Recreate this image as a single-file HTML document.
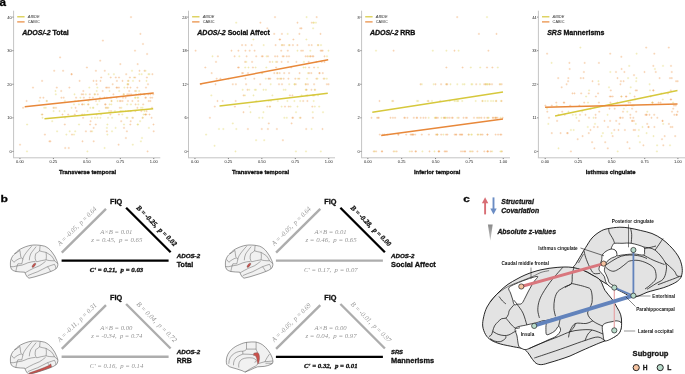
<!DOCTYPE html>
<html><head><meta charset="utf-8"><style>
html,body{margin:0;padding:0;background:#fff;width:685px;height:374px;overflow:hidden;}
svg{display:block;font-family:"Liberation Sans",sans-serif;will-change:transform;filter:blur(0.3px);}
text[font-weight="bold"][fill="#111"],text[font-weight="bold"][fill="#222"],text[font-weight="bold"][fill="#000"]{stroke:#111;stroke-width:0.3px;}
</style></head><body>
<svg width="685" height="374" viewBox="0 0 685 374"><line x1="13.6" y1="10.7" x2="13.6" y2="157.8" stroke="#c4c4c4" stroke-width="1"/>
<line x1="13.1" y1="157.8" x2="160.3" y2="157.8" stroke="#c4c4c4" stroke-width="1"/>
<line x1="12.299999999999999" y1="151.40" x2="13.4" y2="151.40" stroke="#333" stroke-width="0.6"/>
<text x="11.799999999999999" y="152.80" font-family="Liberation Sans" font-size="4" fill="#222" text-anchor="end">0</text>
<line x1="12.299999999999999" y1="117.83" x2="13.4" y2="117.83" stroke="#333" stroke-width="0.6"/>
<text x="11.799999999999999" y="119.23" font-family="Liberation Sans" font-size="4" fill="#222" text-anchor="end">10</text>
<line x1="12.299999999999999" y1="84.25" x2="13.4" y2="84.25" stroke="#333" stroke-width="0.6"/>
<text x="11.799999999999999" y="85.65" font-family="Liberation Sans" font-size="4" fill="#222" text-anchor="end">20</text>
<line x1="12.299999999999999" y1="50.67" x2="13.4" y2="50.67" stroke="#333" stroke-width="0.6"/>
<text x="11.799999999999999" y="52.07" font-family="Liberation Sans" font-size="4" fill="#222" text-anchor="end">30</text>
<line x1="12.299999999999999" y1="17.10" x2="13.4" y2="17.10" stroke="#333" stroke-width="0.6"/>
<text x="11.799999999999999" y="18.50" font-family="Liberation Sans" font-size="4" fill="#222" text-anchor="end">40</text>
<line x1="19.95" y1="158.0" x2="19.95" y2="159.10000000000002" stroke="#333" stroke-width="0.6"/>
<text x="19.95" y="162.9" font-family="Liberation Sans" font-size="4" fill="#222" text-anchor="middle">0.00</text>
<line x1="53.40" y1="158.0" x2="53.40" y2="159.10000000000002" stroke="#333" stroke-width="0.6"/>
<text x="53.40" y="162.9" font-family="Liberation Sans" font-size="4" fill="#222" text-anchor="middle">0.25</text>
<line x1="86.85" y1="158.0" x2="86.85" y2="159.10000000000002" stroke="#333" stroke-width="0.6"/>
<text x="86.85" y="162.9" font-family="Liberation Sans" font-size="4" fill="#222" text-anchor="middle">0.50</text>
<line x1="120.30" y1="158.0" x2="120.30" y2="159.10000000000002" stroke="#333" stroke-width="0.6"/>
<text x="120.30" y="162.9" font-family="Liberation Sans" font-size="4" fill="#222" text-anchor="middle">0.75</text>
<line x1="153.75" y1="158.0" x2="153.75" y2="159.10000000000002" stroke="#333" stroke-width="0.6"/>
<text x="153.75" y="162.9" font-family="Liberation Sans" font-size="4" fill="#222" text-anchor="middle">1.00</text>
<path d="M41.0,80.9h2.2M42.1,79.8v2.2" stroke="#F0A058" stroke-opacity="0.36" stroke-width="0.85"/>
<path d="M53.1,70.8h2.2M54.2,69.7v2.2" stroke="#F0A058" stroke-opacity="0.36" stroke-width="0.85"/>
<path d="M62.0,70.8h2.2M63.1,69.7v2.2" stroke="#F0A058" stroke-opacity="0.36" stroke-width="0.85"/>
<path d="M70.5,74.2h2.2M71.6,73.1v2.2" stroke="#F0A058" stroke-opacity="0.36" stroke-width="0.85"/>
<path d="M70.5,74.2h2.2M71.6,73.1v2.2" stroke="#F0A058" stroke-opacity="0.36" stroke-width="0.85"/>
<path d="M78.5,80.9h2.2M79.6,79.8v2.2" stroke="#F0A058" stroke-opacity="0.36" stroke-width="0.85"/>
<path d="M95.5,84.2h2.2M96.6,83.2v2.2" stroke="#F0A058" stroke-opacity="0.36" stroke-width="0.85"/>
<path d="M92.4,80.9h2.2M93.5,79.8v2.2" stroke="#F0A058" stroke-opacity="0.36" stroke-width="0.85"/>
<path d="M100.1,77.5h2.2M101.2,76.4v2.2" stroke="#F0A058" stroke-opacity="0.36" stroke-width="0.85"/>
<path d="M94.8,70.8h2.2M95.9,69.7v2.2" stroke="#F0A058" stroke-opacity="0.36" stroke-width="0.85"/>
<path d="M99.4,80.9h2.2M100.5,79.8v2.2" stroke="#F0A058" stroke-opacity="0.36" stroke-width="0.85"/>
<path d="M95.3,80.9h2.2M96.4,79.8v2.2" stroke="#F0A058" stroke-opacity="0.36" stroke-width="0.85"/>
<path d="M111.6,84.2h2.2M112.7,83.2v2.2" stroke="#F0A058" stroke-opacity="0.36" stroke-width="0.85"/>
<path d="M112.8,74.2h2.2M113.9,73.1v2.2" stroke="#E2D468" stroke-opacity="0.36" stroke-width="0.85"/>
<path d="M109.6,77.5h2.2M110.7,76.4v2.2" stroke="#F0A058" stroke-opacity="0.36" stroke-width="0.85"/>
<path d="M117.9,77.5h2.2M119.0,76.4v2.2" stroke="#F0A058" stroke-opacity="0.36" stroke-width="0.85"/>
<path d="M115.8,80.9h2.2M116.9,79.8v2.2" stroke="#F0A058" stroke-opacity="0.36" stroke-width="0.85"/>
<path d="M107.5,74.2h2.2M108.6,73.1v2.2" stroke="#E2D468" stroke-opacity="0.36" stroke-width="0.85"/>
<path d="M114.7,77.5h2.2M115.8,76.4v2.2" stroke="#F0A058" stroke-opacity="0.36" stroke-width="0.85"/>
<path d="M103.7,70.8h2.2M104.8,69.7v2.2" stroke="#F0A058" stroke-opacity="0.36" stroke-width="0.85"/>
<path d="M131.9,80.9h2.2M133.0,79.8v2.2" stroke="#E2D468" stroke-opacity="0.36" stroke-width="0.85"/>
<path d="M126.3,84.2h2.2M127.4,83.2v2.2" stroke="#E2D468" stroke-opacity="0.36" stroke-width="0.85"/>
<path d="M128.8,77.5h2.2M129.9,76.4v2.2" stroke="#F0A058" stroke-opacity="0.36" stroke-width="0.85"/>
<path d="M125.1,74.2h2.2M126.2,73.1v2.2" stroke="#F0A058" stroke-opacity="0.36" stroke-width="0.85"/>
<path d="M126.8,84.2h2.2M127.9,83.2v2.2" stroke="#E2D468" stroke-opacity="0.36" stroke-width="0.85"/>
<path d="M127.1,84.2h2.2M128.2,83.2v2.2" stroke="#F0A058" stroke-opacity="0.36" stroke-width="0.85"/>
<path d="M130.9,70.8h2.2M132.0,69.7v2.2" stroke="#E2D468" stroke-opacity="0.36" stroke-width="0.85"/>
<path d="M132.9,77.5h2.2M134.0,76.4v2.2" stroke="#E2D468" stroke-opacity="0.36" stroke-width="0.85"/>
<path d="M134.0,77.5h2.2M135.1,76.4v2.2" stroke="#F0A058" stroke-opacity="0.36" stroke-width="0.85"/>
<path d="M126.9,80.9h2.2M128.0,79.8v2.2" stroke="#F0A058" stroke-opacity="0.36" stroke-width="0.85"/>
<path d="M127.5,80.9h2.2M128.6,79.8v2.2" stroke="#E2D468" stroke-opacity="0.36" stroke-width="0.85"/>
<path d="M121.4,80.9h2.2M122.5,79.8v2.2" stroke="#F0A058" stroke-opacity="0.36" stroke-width="0.85"/>
<path d="M151.3,74.2h2.2M152.4,73.1v2.2" stroke="#F0A058" stroke-opacity="0.36" stroke-width="0.85"/>
<path d="M143.4,70.8h2.2M144.5,69.7v2.2" stroke="#F0A058" stroke-opacity="0.36" stroke-width="0.85"/>
<path d="M138.2,74.2h2.2M139.3,73.1v2.2" stroke="#E2D468" stroke-opacity="0.36" stroke-width="0.85"/>
<path d="M140.6,74.2h2.2M141.7,73.1v2.2" stroke="#E2D468" stroke-opacity="0.36" stroke-width="0.85"/>
<path d="M147.3,74.2h2.2M148.4,73.1v2.2" stroke="#E2D468" stroke-opacity="0.36" stroke-width="0.85"/>
<path d="M138.4,80.9h2.2M139.5,79.8v2.2" stroke="#F0A058" stroke-opacity="0.36" stroke-width="0.85"/>
<path d="M146.9,84.2h2.2M148.0,83.2v2.2" stroke="#F0A058" stroke-opacity="0.36" stroke-width="0.85"/>
<path d="M145.8,77.5h2.2M146.9,76.4v2.2" stroke="#F0A058" stroke-opacity="0.36" stroke-width="0.85"/>
<path d="M138.4,70.8h2.2M139.5,69.7v2.2" stroke="#F0A058" stroke-opacity="0.36" stroke-width="0.85"/>
<path d="M145.4,80.9h2.2M146.5,79.8v2.2" stroke="#E2D468" stroke-opacity="0.36" stroke-width="0.85"/>
<path d="M144.5,70.8h2.2M145.6,69.7v2.2" stroke="#E2D468" stroke-opacity="0.36" stroke-width="0.85"/>
<path d="M148.3,74.2h2.2M149.4,73.1v2.2" stroke="#E2D468" stroke-opacity="0.36" stroke-width="0.85"/>
<path d="M31.9,87.6h2.2M33.0,86.5v2.2" stroke="#F0A058" stroke-opacity="0.36" stroke-width="0.85"/>
<path d="M25.5,101.0h2.2M26.6,99.9v2.2" stroke="#F0A058" stroke-opacity="0.36" stroke-width="0.85"/>
<path d="M42.3,97.7h2.2M43.4,96.6v2.2" stroke="#F0A058" stroke-opacity="0.36" stroke-width="0.85"/>
<path d="M39.1,97.7h2.2M40.2,96.6v2.2" stroke="#F0A058" stroke-opacity="0.36" stroke-width="0.85"/>
<path d="M45.6,101.0h2.2M46.7,99.9v2.2" stroke="#F0A058" stroke-opacity="0.36" stroke-width="0.85"/>
<path d="M38.1,101.0h2.2M39.2,99.9v2.2" stroke="#E2D468" stroke-opacity="0.36" stroke-width="0.85"/>
<path d="M45.8,101.0h2.2M46.9,99.9v2.2" stroke="#E2D468" stroke-opacity="0.36" stroke-width="0.85"/>
<path d="M62.6,97.7h2.2M63.7,96.6v2.2" stroke="#F0A058" stroke-opacity="0.36" stroke-width="0.85"/>
<path d="M68.3,87.6h2.2M69.4,86.5v2.2" stroke="#F0A058" stroke-opacity="0.36" stroke-width="0.85"/>
<path d="M54.4,91.0h2.2M55.5,89.9v2.2" stroke="#E2D468" stroke-opacity="0.36" stroke-width="0.85"/>
<path d="M60.1,91.0h2.2M61.2,89.9v2.2" stroke="#F0A058" stroke-opacity="0.36" stroke-width="0.85"/>
<path d="M54.7,94.3h2.2M55.8,93.2v2.2" stroke="#E2D468" stroke-opacity="0.36" stroke-width="0.85"/>
<path d="M60.3,97.7h2.2M61.4,96.6v2.2" stroke="#F0A058" stroke-opacity="0.36" stroke-width="0.85"/>
<path d="M55.7,87.6h2.2M56.8,86.5v2.2" stroke="#F0A058" stroke-opacity="0.36" stroke-width="0.85"/>
<path d="M63.8,101.0h2.2M64.9,99.9v2.2" stroke="#E2D468" stroke-opacity="0.36" stroke-width="0.85"/>
<path d="M74.0,101.0h2.2M75.1,99.9v2.2" stroke="#E2D468" stroke-opacity="0.36" stroke-width="0.85"/>
<path d="M73.4,94.3h2.2M74.5,93.2v2.2" stroke="#E2D468" stroke-opacity="0.36" stroke-width="0.85"/>
<path d="M75.0,97.7h2.2M76.1,96.6v2.2" stroke="#F0A058" stroke-opacity="0.36" stroke-width="0.85"/>
<path d="M82.1,94.3h2.2M83.2,93.2v2.2" stroke="#F0A058" stroke-opacity="0.36" stroke-width="0.85"/>
<path d="M79.3,97.7h2.2M80.4,96.6v2.2" stroke="#E2D468" stroke-opacity="0.36" stroke-width="0.85"/>
<path d="M82.7,97.7h2.2M83.8,96.6v2.2" stroke="#F0A058" stroke-opacity="0.36" stroke-width="0.85"/>
<path d="M77.3,101.0h2.2M78.4,99.9v2.2" stroke="#E2D468" stroke-opacity="0.36" stroke-width="0.85"/>
<path d="M82.2,91.0h2.2M83.3,89.9v2.2" stroke="#F0A058" stroke-opacity="0.36" stroke-width="0.85"/>
<path d="M80.6,94.3h2.2M81.7,93.2v2.2" stroke="#F0A058" stroke-opacity="0.36" stroke-width="0.85"/>
<path d="M84.7,94.3h2.2M85.8,93.2v2.2" stroke="#E2D468" stroke-opacity="0.36" stroke-width="0.85"/>
<path d="M91.8,97.7h2.2M92.9,96.6v2.2" stroke="#F0A058" stroke-opacity="0.36" stroke-width="0.85"/>
<path d="M93.6,94.3h2.2M94.7,93.2v2.2" stroke="#F0A058" stroke-opacity="0.36" stroke-width="0.85"/>
<path d="M96.2,87.6h2.2M97.3,86.5v2.2" stroke="#E2D468" stroke-opacity="0.36" stroke-width="0.85"/>
<path d="M93.8,94.3h2.2M94.9,93.2v2.2" stroke="#E2D468" stroke-opacity="0.36" stroke-width="0.85"/>
<path d="M87.2,101.0h2.2M88.3,99.9v2.2" stroke="#E2D468" stroke-opacity="0.36" stroke-width="0.85"/>
<path d="M98.8,97.7h2.2M99.9,96.6v2.2" stroke="#F0A058" stroke-opacity="0.36" stroke-width="0.85"/>
<path d="M88.7,94.3h2.2M89.8,93.2v2.2" stroke="#F0A058" stroke-opacity="0.36" stroke-width="0.85"/>
<path d="M101.6,91.0h2.2M102.7,89.9v2.2" stroke="#F0A058" stroke-opacity="0.36" stroke-width="0.85"/>
<path d="M98.2,101.0h2.2M99.3,99.9v2.2" stroke="#E2D468" stroke-opacity="0.36" stroke-width="0.85"/>
<path d="M88.6,97.7h2.2M89.7,96.6v2.2" stroke="#F0A058" stroke-opacity="0.36" stroke-width="0.85"/>
<path d="M95.6,91.0h2.2M96.7,89.9v2.2" stroke="#E2D468" stroke-opacity="0.36" stroke-width="0.85"/>
<path d="M88.2,87.6h2.2M89.3,86.5v2.2" stroke="#E2D468" stroke-opacity="0.36" stroke-width="0.85"/>
<path d="M96.7,94.3h2.2M97.8,93.2v2.2" stroke="#F0A058" stroke-opacity="0.36" stroke-width="0.85"/>
<path d="M94.9,101.0h2.2M96.0,99.9v2.2" stroke="#F0A058" stroke-opacity="0.36" stroke-width="0.85"/>
<path d="M118.7,101.0h2.2M119.8,99.9v2.2" stroke="#F0A058" stroke-opacity="0.36" stroke-width="0.85"/>
<path d="M118.1,91.0h2.2M119.2,89.9v2.2" stroke="#E2D468" stroke-opacity="0.36" stroke-width="0.85"/>
<path d="M105.7,97.7h2.2M106.8,96.6v2.2" stroke="#F0A058" stroke-opacity="0.36" stroke-width="0.85"/>
<path d="M106.0,87.6h2.2M107.1,86.5v2.2" stroke="#F0A058" stroke-opacity="0.36" stroke-width="0.85"/>
<path d="M112.3,94.3h2.2M113.4,93.2v2.2" stroke="#F0A058" stroke-opacity="0.36" stroke-width="0.85"/>
<path d="M116.4,101.0h2.2M117.5,99.9v2.2" stroke="#E2D468" stroke-opacity="0.36" stroke-width="0.85"/>
<path d="M108.4,91.0h2.2M109.5,89.9v2.2" stroke="#E2D468" stroke-opacity="0.36" stroke-width="0.85"/>
<path d="M116.1,87.6h2.2M117.2,86.5v2.2" stroke="#F0A058" stroke-opacity="0.36" stroke-width="0.85"/>
<path d="M117.8,87.6h2.2M118.9,86.5v2.2" stroke="#F0A058" stroke-opacity="0.36" stroke-width="0.85"/>
<path d="M105.0,87.6h2.2M106.1,86.5v2.2" stroke="#F0A058" stroke-opacity="0.36" stroke-width="0.85"/>
<path d="M109.8,97.7h2.2M110.9,96.6v2.2" stroke="#F0A058" stroke-opacity="0.36" stroke-width="0.85"/>
<path d="M115.5,97.7h2.2M116.6,96.6v2.2" stroke="#F0A058" stroke-opacity="0.36" stroke-width="0.85"/>
<path d="M110.4,101.0h2.2M111.5,99.9v2.2" stroke="#F0A058" stroke-opacity="0.36" stroke-width="0.85"/>
<path d="M107.9,87.6h2.2M109.0,86.5v2.2" stroke="#F0A058" stroke-opacity="0.36" stroke-width="0.85"/>
<path d="M110.5,101.0h2.2M111.6,99.9v2.2" stroke="#E2D468" stroke-opacity="0.36" stroke-width="0.85"/>
<path d="M103.4,97.7h2.2M104.5,96.6v2.2" stroke="#F0A058" stroke-opacity="0.36" stroke-width="0.85"/>
<path d="M115.4,87.6h2.2M116.5,86.5v2.2" stroke="#F0A058" stroke-opacity="0.36" stroke-width="0.85"/>
<path d="M119.7,101.0h2.2M120.8,99.9v2.2" stroke="#F0A058" stroke-opacity="0.36" stroke-width="0.85"/>
<path d="M129.4,87.6h2.2M130.5,86.5v2.2" stroke="#F0A058" stroke-opacity="0.36" stroke-width="0.85"/>
<path d="M122.5,94.3h2.2M123.6,93.2v2.2" stroke="#F0A058" stroke-opacity="0.36" stroke-width="0.85"/>
<path d="M128.1,91.0h2.2M129.2,89.9v2.2" stroke="#F0A058" stroke-opacity="0.36" stroke-width="0.85"/>
<path d="M123.3,87.6h2.2M124.4,86.5v2.2" stroke="#E2D468" stroke-opacity="0.36" stroke-width="0.85"/>
<path d="M135.0,94.3h2.2M136.1,93.2v2.2" stroke="#E2D468" stroke-opacity="0.36" stroke-width="0.85"/>
<path d="M134.1,97.7h2.2M135.2,96.6v2.2" stroke="#E2D468" stroke-opacity="0.36" stroke-width="0.85"/>
<path d="M121.5,101.0h2.2M122.6,99.9v2.2" stroke="#F0A058" stroke-opacity="0.36" stroke-width="0.85"/>
<path d="M124.5,97.7h2.2M125.6,96.6v2.2" stroke="#F0A058" stroke-opacity="0.36" stroke-width="0.85"/>
<path d="M122.8,94.3h2.2M123.9,93.2v2.2" stroke="#E2D468" stroke-opacity="0.36" stroke-width="0.85"/>
<path d="M134.2,97.7h2.2M135.3,96.6v2.2" stroke="#E2D468" stroke-opacity="0.36" stroke-width="0.85"/>
<path d="M130.0,94.3h2.2M131.1,93.2v2.2" stroke="#F0A058" stroke-opacity="0.36" stroke-width="0.85"/>
<path d="M134.0,91.0h2.2M135.1,89.9v2.2" stroke="#F0A058" stroke-opacity="0.36" stroke-width="0.85"/>
<path d="M135.1,91.0h2.2M136.2,89.9v2.2" stroke="#E2D468" stroke-opacity="0.36" stroke-width="0.85"/>
<path d="M121.9,97.7h2.2M123.0,96.6v2.2" stroke="#F0A058" stroke-opacity="0.36" stroke-width="0.85"/>
<path d="M126.4,87.6h2.2M127.5,86.5v2.2" stroke="#F0A058" stroke-opacity="0.36" stroke-width="0.85"/>
<path d="M126.2,94.3h2.2M127.3,93.2v2.2" stroke="#F0A058" stroke-opacity="0.36" stroke-width="0.85"/>
<path d="M131.3,101.0h2.2M132.4,99.9v2.2" stroke="#F0A058" stroke-opacity="0.36" stroke-width="0.85"/>
<path d="M126.9,101.0h2.2M128.0,99.9v2.2" stroke="#F0A058" stroke-opacity="0.36" stroke-width="0.85"/>
<path d="M127.9,94.3h2.2M129.0,93.2v2.2" stroke="#F0A058" stroke-opacity="0.36" stroke-width="0.85"/>
<path d="M137.0,97.7h2.2M138.1,96.6v2.2" stroke="#E2D468" stroke-opacity="0.36" stroke-width="0.85"/>
<path d="M137.7,94.3h2.2M138.8,93.2v2.2" stroke="#F0A058" stroke-opacity="0.36" stroke-width="0.85"/>
<path d="M151.1,97.7h2.2M152.2,96.6v2.2" stroke="#F0A058" stroke-opacity="0.36" stroke-width="0.85"/>
<path d="M138.1,91.0h2.2M139.2,89.9v2.2" stroke="#E2D468" stroke-opacity="0.36" stroke-width="0.85"/>
<path d="M147.2,94.3h2.2M148.3,93.2v2.2" stroke="#F0A058" stroke-opacity="0.36" stroke-width="0.85"/>
<path d="M144.9,87.6h2.2M146.0,86.5v2.2" stroke="#F0A058" stroke-opacity="0.36" stroke-width="0.85"/>
<path d="M147.6,101.0h2.2M148.7,99.9v2.2" stroke="#F0A058" stroke-opacity="0.36" stroke-width="0.85"/>
<path d="M149.3,97.7h2.2M150.4,96.6v2.2" stroke="#F0A058" stroke-opacity="0.36" stroke-width="0.85"/>
<path d="M137.1,101.0h2.2M138.2,99.9v2.2" stroke="#F0A058" stroke-opacity="0.36" stroke-width="0.85"/>
<path d="M149.3,101.0h2.2M150.4,99.9v2.2" stroke="#F0A058" stroke-opacity="0.36" stroke-width="0.85"/>
<path d="M139.6,94.3h2.2M140.7,93.2v2.2" stroke="#E2D468" stroke-opacity="0.36" stroke-width="0.85"/>
<path d="M143.5,94.3h2.2M144.6,93.2v2.2" stroke="#E2D468" stroke-opacity="0.36" stroke-width="0.85"/>
<path d="M142.9,94.3h2.2M144.0,93.2v2.2" stroke="#F0A058" stroke-opacity="0.36" stroke-width="0.85"/>
<path d="M136.6,97.7h2.2M137.7,96.6v2.2" stroke="#E2D468" stroke-opacity="0.36" stroke-width="0.85"/>
<path d="M152.1,94.3h2.2M153.2,93.2v2.2" stroke="#F0A058" stroke-opacity="0.36" stroke-width="0.85"/>
<path d="M139.3,94.3h2.2M140.4,93.2v2.2" stroke="#F0A058" stroke-opacity="0.36" stroke-width="0.85"/>
<path d="M144.8,97.7h2.2M145.9,96.6v2.2" stroke="#F0A058" stroke-opacity="0.36" stroke-width="0.85"/>
<path d="M144.3,97.7h2.2M145.4,96.6v2.2" stroke="#F0A058" stroke-opacity="0.36" stroke-width="0.85"/>
<path d="M149.4,94.3h2.2M150.5,93.2v2.2" stroke="#F0A058" stroke-opacity="0.36" stroke-width="0.85"/>
<path d="M136.2,87.6h2.2M137.3,86.5v2.2" stroke="#F0A058" stroke-opacity="0.36" stroke-width="0.85"/>
<path d="M22.0,107.8h2.2M23.1,106.7v2.2" stroke="#F0A058" stroke-opacity="0.36" stroke-width="0.85"/>
<path d="M43.1,107.8h2.2M44.2,106.7v2.2" stroke="#E2D468" stroke-opacity="0.36" stroke-width="0.85"/>
<path d="M44.7,107.8h2.2M45.8,106.7v2.2" stroke="#E2D468" stroke-opacity="0.36" stroke-width="0.85"/>
<path d="M40.7,114.5h2.2M41.8,113.4v2.2" stroke="#E2D468" stroke-opacity="0.36" stroke-width="0.85"/>
<path d="M41.3,114.5h2.2M42.4,113.4v2.2" stroke="#F0A058" stroke-opacity="0.36" stroke-width="0.85"/>
<path d="M41.4,117.8h2.2M42.5,116.7v2.2" stroke="#E2D468" stroke-opacity="0.36" stroke-width="0.85"/>
<path d="M52.5,111.1h2.2M53.6,110.0v2.2" stroke="#E2D468" stroke-opacity="0.36" stroke-width="0.85"/>
<path d="M53.2,107.8h2.2M54.3,106.7v2.2" stroke="#E2D468" stroke-opacity="0.36" stroke-width="0.85"/>
<path d="M63.5,111.1h2.2M64.6,110.0v2.2" stroke="#E2D468" stroke-opacity="0.36" stroke-width="0.85"/>
<path d="M63.9,117.8h2.2M65.0,116.7v2.2" stroke="#E2D468" stroke-opacity="0.36" stroke-width="0.85"/>
<path d="M54.9,107.8h2.2M56.0,106.7v2.2" stroke="#F0A058" stroke-opacity="0.36" stroke-width="0.85"/>
<path d="M58.4,111.1h2.2M59.5,110.0v2.2" stroke="#E2D468" stroke-opacity="0.36" stroke-width="0.85"/>
<path d="M61.4,114.5h2.2M62.5,113.4v2.2" stroke="#F0A058" stroke-opacity="0.36" stroke-width="0.85"/>
<path d="M67.1,114.5h2.2M68.2,113.4v2.2" stroke="#F0A058" stroke-opacity="0.36" stroke-width="0.85"/>
<path d="M52.3,107.8h2.2M53.4,106.7v2.2" stroke="#F0A058" stroke-opacity="0.36" stroke-width="0.85"/>
<path d="M73.7,114.5h2.2M74.8,113.4v2.2" stroke="#F0A058" stroke-opacity="0.36" stroke-width="0.85"/>
<path d="M82.0,117.8h2.2M83.1,116.7v2.2" stroke="#F0A058" stroke-opacity="0.36" stroke-width="0.85"/>
<path d="M70.5,107.8h2.2M71.6,106.7v2.2" stroke="#E2D468" stroke-opacity="0.36" stroke-width="0.85"/>
<path d="M75.6,111.1h2.2M76.7,110.0v2.2" stroke="#F0A058" stroke-opacity="0.36" stroke-width="0.85"/>
<path d="M72.9,104.4h2.2M74.0,103.3v2.2" stroke="#E2D468" stroke-opacity="0.36" stroke-width="0.85"/>
<path d="M83.3,114.5h2.2M84.4,113.4v2.2" stroke="#E2D468" stroke-opacity="0.36" stroke-width="0.85"/>
<path d="M81.0,104.4h2.2M82.1,103.3v2.2" stroke="#F0A058" stroke-opacity="0.36" stroke-width="0.85"/>
<path d="M74.5,107.8h2.2M75.6,106.7v2.2" stroke="#F0A058" stroke-opacity="0.36" stroke-width="0.85"/>
<path d="M81.1,114.5h2.2M82.2,113.4v2.2" stroke="#F0A058" stroke-opacity="0.36" stroke-width="0.85"/>
<path d="M83.0,104.4h2.2M84.1,103.3v2.2" stroke="#E2D468" stroke-opacity="0.36" stroke-width="0.85"/>
<path d="M81.3,104.4h2.2M82.4,103.3v2.2" stroke="#F0A058" stroke-opacity="0.36" stroke-width="0.85"/>
<path d="M77.8,104.4h2.2M78.9,103.3v2.2" stroke="#E2D468" stroke-opacity="0.36" stroke-width="0.85"/>
<path d="M99.3,117.8h2.2M100.4,116.7v2.2" stroke="#E2D468" stroke-opacity="0.36" stroke-width="0.85"/>
<path d="M95.5,114.5h2.2M96.6,113.4v2.2" stroke="#F0A058" stroke-opacity="0.36" stroke-width="0.85"/>
<path d="M86.5,111.1h2.2M87.6,110.0v2.2" stroke="#E2D468" stroke-opacity="0.36" stroke-width="0.85"/>
<path d="M92.0,107.8h2.2M93.1,106.7v2.2" stroke="#E2D468" stroke-opacity="0.36" stroke-width="0.85"/>
<path d="M96.2,104.4h2.2M97.3,103.3v2.2" stroke="#E2D468" stroke-opacity="0.36" stroke-width="0.85"/>
<path d="M93.9,117.8h2.2M95.0,116.7v2.2" stroke="#E2D468" stroke-opacity="0.36" stroke-width="0.85"/>
<path d="M86.9,104.4h2.2M88.0,103.3v2.2" stroke="#E2D468" stroke-opacity="0.36" stroke-width="0.85"/>
<path d="M87.3,104.4h2.2M88.4,103.3v2.2" stroke="#F0A058" stroke-opacity="0.36" stroke-width="0.85"/>
<path d="M98.1,111.1h2.2M99.2,110.0v2.2" stroke="#E2D468" stroke-opacity="0.36" stroke-width="0.85"/>
<path d="M99.9,114.5h2.2M101.0,113.4v2.2" stroke="#E2D468" stroke-opacity="0.36" stroke-width="0.85"/>
<path d="M89.2,107.8h2.2M90.3,106.7v2.2" stroke="#E2D468" stroke-opacity="0.36" stroke-width="0.85"/>
<path d="M92.1,107.8h2.2M93.2,106.7v2.2" stroke="#E2D468" stroke-opacity="0.36" stroke-width="0.85"/>
<path d="M90.6,117.8h2.2M91.7,116.7v2.2" stroke="#E2D468" stroke-opacity="0.36" stroke-width="0.85"/>
<path d="M96.5,117.8h2.2M97.6,116.7v2.2" stroke="#E2D468" stroke-opacity="0.36" stroke-width="0.85"/>
<path d="M108.0,111.1h2.2M109.1,110.0v2.2" stroke="#E2D468" stroke-opacity="0.36" stroke-width="0.85"/>
<path d="M104.7,107.8h2.2M105.8,106.7v2.2" stroke="#F0A058" stroke-opacity="0.36" stroke-width="0.85"/>
<path d="M107.0,117.8h2.2M108.1,116.7v2.2" stroke="#E2D468" stroke-opacity="0.36" stroke-width="0.85"/>
<path d="M113.8,111.1h2.2M114.9,110.0v2.2" stroke="#E2D468" stroke-opacity="0.36" stroke-width="0.85"/>
<path d="M107.3,107.8h2.2M108.4,106.7v2.2" stroke="#E2D468" stroke-opacity="0.36" stroke-width="0.85"/>
<path d="M104.5,104.4h2.2M105.6,103.3v2.2" stroke="#F0A058" stroke-opacity="0.36" stroke-width="0.85"/>
<path d="M118.8,107.8h2.2M119.9,106.7v2.2" stroke="#F0A058" stroke-opacity="0.36" stroke-width="0.85"/>
<path d="M110.2,104.4h2.2M111.3,103.3v2.2" stroke="#E2D468" stroke-opacity="0.36" stroke-width="0.85"/>
<path d="M110.0,111.1h2.2M111.1,110.0v2.2" stroke="#F0A058" stroke-opacity="0.36" stroke-width="0.85"/>
<path d="M117.8,114.5h2.2M118.9,113.4v2.2" stroke="#F0A058" stroke-opacity="0.36" stroke-width="0.85"/>
<path d="M104.0,104.4h2.2M105.1,103.3v2.2" stroke="#F0A058" stroke-opacity="0.36" stroke-width="0.85"/>
<path d="M108.5,104.4h2.2M109.6,103.3v2.2" stroke="#E2D468" stroke-opacity="0.36" stroke-width="0.85"/>
<path d="M111.0,117.8h2.2M112.1,116.7v2.2" stroke="#E2D468" stroke-opacity="0.36" stroke-width="0.85"/>
<path d="M106.3,107.8h2.2M107.4,106.7v2.2" stroke="#F0A058" stroke-opacity="0.36" stroke-width="0.85"/>
<path d="M105.1,107.8h2.2M106.2,106.7v2.2" stroke="#E2D468" stroke-opacity="0.36" stroke-width="0.85"/>
<path d="M109.3,114.5h2.2M110.4,113.4v2.2" stroke="#F0A058" stroke-opacity="0.36" stroke-width="0.85"/>
<path d="M125.5,117.8h2.2M126.6,116.7v2.2" stroke="#E2D468" stroke-opacity="0.36" stroke-width="0.85"/>
<path d="M119.2,111.1h2.2M120.3,110.0v2.2" stroke="#E2D468" stroke-opacity="0.36" stroke-width="0.85"/>
<path d="M121.2,114.5h2.2M122.3,113.4v2.2" stroke="#E2D468" stroke-opacity="0.36" stroke-width="0.85"/>
<path d="M134.3,111.1h2.2M135.4,110.0v2.2" stroke="#F0A058" stroke-opacity="0.36" stroke-width="0.85"/>
<path d="M120.3,107.8h2.2M121.4,106.7v2.2" stroke="#E2D468" stroke-opacity="0.36" stroke-width="0.85"/>
<path d="M129.1,111.1h2.2M130.2,110.0v2.2" stroke="#E2D468" stroke-opacity="0.36" stroke-width="0.85"/>
<path d="M131.8,117.8h2.2M132.9,116.7v2.2" stroke="#F0A058" stroke-opacity="0.36" stroke-width="0.85"/>
<path d="M120.1,111.1h2.2M121.2,110.0v2.2" stroke="#E2D468" stroke-opacity="0.36" stroke-width="0.85"/>
<path d="M121.7,111.1h2.2M122.8,110.0v2.2" stroke="#E2D468" stroke-opacity="0.36" stroke-width="0.85"/>
<path d="M124.5,111.1h2.2M125.6,110.0v2.2" stroke="#E2D468" stroke-opacity="0.36" stroke-width="0.85"/>
<path d="M126.4,117.8h2.2M127.5,116.7v2.2" stroke="#E2D468" stroke-opacity="0.36" stroke-width="0.85"/>
<path d="M129.8,104.4h2.2M130.9,103.3v2.2" stroke="#E2D468" stroke-opacity="0.36" stroke-width="0.85"/>
<path d="M131.2,117.8h2.2M132.3,116.7v2.2" stroke="#E2D468" stroke-opacity="0.36" stroke-width="0.85"/>
<path d="M126.1,104.4h2.2M127.2,103.3v2.2" stroke="#E2D468" stroke-opacity="0.36" stroke-width="0.85"/>
<path d="M130.0,111.1h2.2M131.1,110.0v2.2" stroke="#E2D468" stroke-opacity="0.36" stroke-width="0.85"/>
<path d="M134.5,104.4h2.2M135.6,103.3v2.2" stroke="#F0A058" stroke-opacity="0.36" stroke-width="0.85"/>
<path d="M127.1,111.1h2.2M128.2,110.0v2.2" stroke="#F0A058" stroke-opacity="0.36" stroke-width="0.85"/>
<path d="M140.2,111.1h2.2M141.3,110.0v2.2" stroke="#F0A058" stroke-opacity="0.36" stroke-width="0.85"/>
<path d="M139.9,107.8h2.2M141.0,106.7v2.2" stroke="#E2D468" stroke-opacity="0.36" stroke-width="0.85"/>
<path d="M142.5,114.5h2.2M143.6,113.4v2.2" stroke="#E2D468" stroke-opacity="0.36" stroke-width="0.85"/>
<path d="M137.2,104.4h2.2M138.3,103.3v2.2" stroke="#E2D468" stroke-opacity="0.36" stroke-width="0.85"/>
<path d="M144.2,114.5h2.2M145.3,113.4v2.2" stroke="#E2D468" stroke-opacity="0.36" stroke-width="0.85"/>
<path d="M141.5,107.8h2.2M142.6,106.7v2.2" stroke="#E2D468" stroke-opacity="0.36" stroke-width="0.85"/>
<path d="M145.1,114.5h2.2M146.2,113.4v2.2" stroke="#F0A058" stroke-opacity="0.36" stroke-width="0.85"/>
<path d="M141.6,117.8h2.2M142.7,116.7v2.2" stroke="#F0A058" stroke-opacity="0.36" stroke-width="0.85"/>
<path d="M142.1,104.4h2.2M143.2,103.3v2.2" stroke="#F0A058" stroke-opacity="0.36" stroke-width="0.85"/>
<path d="M136.3,107.8h2.2M137.4,106.7v2.2" stroke="#F0A058" stroke-opacity="0.36" stroke-width="0.85"/>
<path d="M148.4,114.5h2.2M149.5,113.4v2.2" stroke="#F0A058" stroke-opacity="0.36" stroke-width="0.85"/>
<path d="M141.6,117.8h2.2M142.7,116.7v2.2" stroke="#E2D468" stroke-opacity="0.36" stroke-width="0.85"/>
<path d="M145.5,111.1h2.2M146.6,110.0v2.2" stroke="#F0A058" stroke-opacity="0.36" stroke-width="0.85"/>
<path d="M144.3,114.5h2.2M145.4,113.4v2.2" stroke="#F0A058" stroke-opacity="0.36" stroke-width="0.85"/>
<path d="M150.9,107.8h2.2M152.0,106.7v2.2" stroke="#F0A058" stroke-opacity="0.36" stroke-width="0.85"/>
<path d="M143.4,111.1h2.2M144.5,110.0v2.2" stroke="#E2D468" stroke-opacity="0.36" stroke-width="0.85"/>
<path d="M150.5,117.8h2.2M151.6,116.7v2.2" stroke="#F0A058" stroke-opacity="0.36" stroke-width="0.85"/>
<path d="M26.0,124.5h2.2M27.1,123.4v2.2" stroke="#E2D468" stroke-opacity="0.36" stroke-width="0.85"/>
<path d="M43.8,134.6h2.2M44.9,133.5v2.2" stroke="#F0A058" stroke-opacity="0.36" stroke-width="0.85"/>
<path d="M51.1,121.2h2.2M52.2,120.1v2.2" stroke="#E2D468" stroke-opacity="0.36" stroke-width="0.85"/>
<path d="M68.6,131.3h2.2M69.7,130.2v2.2" stroke="#E2D468" stroke-opacity="0.36" stroke-width="0.85"/>
<path d="M56.0,131.3h2.2M57.1,130.2v2.2" stroke="#E2D468" stroke-opacity="0.36" stroke-width="0.85"/>
<path d="M63.7,124.5h2.2M64.8,123.4v2.2" stroke="#F0A058" stroke-opacity="0.36" stroke-width="0.85"/>
<path d="M65.3,134.6h2.2M66.4,133.5v2.2" stroke="#E2D468" stroke-opacity="0.36" stroke-width="0.85"/>
<path d="M72.9,134.6h2.2M74.0,133.5v2.2" stroke="#E2D468" stroke-opacity="0.36" stroke-width="0.85"/>
<path d="M74.1,131.3h2.2M75.2,130.2v2.2" stroke="#E2D468" stroke-opacity="0.36" stroke-width="0.85"/>
<path d="M77.9,124.5h2.2M79.0,123.4v2.2" stroke="#E2D468" stroke-opacity="0.36" stroke-width="0.85"/>
<path d="M70.9,134.6h2.2M72.0,133.5v2.2" stroke="#F0A058" stroke-opacity="0.36" stroke-width="0.85"/>
<path d="M84.8,131.3h2.2M85.9,130.2v2.2" stroke="#F0A058" stroke-opacity="0.36" stroke-width="0.85"/>
<path d="M89.5,121.2h2.2M90.6,120.1v2.2" stroke="#F0A058" stroke-opacity="0.36" stroke-width="0.85"/>
<path d="M94.7,124.5h2.2M95.8,123.4v2.2" stroke="#F0A058" stroke-opacity="0.36" stroke-width="0.85"/>
<path d="M91.0,131.3h2.2M92.1,130.2v2.2" stroke="#E2D468" stroke-opacity="0.36" stroke-width="0.85"/>
<path d="M89.7,131.3h2.2M90.8,130.2v2.2" stroke="#F0A058" stroke-opacity="0.36" stroke-width="0.85"/>
<path d="M92.6,127.9h2.2M93.7,126.8v2.2" stroke="#F0A058" stroke-opacity="0.36" stroke-width="0.85"/>
<path d="M89.0,124.5h2.2M90.1,123.4v2.2" stroke="#F0A058" stroke-opacity="0.36" stroke-width="0.85"/>
<path d="M106.3,124.5h2.2M107.4,123.4v2.2" stroke="#E2D468" stroke-opacity="0.36" stroke-width="0.85"/>
<path d="M106.3,134.6h2.2M107.4,133.5v2.2" stroke="#E2D468" stroke-opacity="0.36" stroke-width="0.85"/>
<path d="M114.5,127.9h2.2M115.6,126.8v2.2" stroke="#E2D468" stroke-opacity="0.36" stroke-width="0.85"/>
<path d="M105.8,127.9h2.2M106.9,126.8v2.2" stroke="#E2D468" stroke-opacity="0.36" stroke-width="0.85"/>
<path d="M110.9,131.3h2.2M112.0,130.2v2.2" stroke="#E2D468" stroke-opacity="0.36" stroke-width="0.85"/>
<path d="M105.8,131.3h2.2M106.9,130.2v2.2" stroke="#F0A058" stroke-opacity="0.36" stroke-width="0.85"/>
<path d="M122.9,127.9h2.2M124.0,126.8v2.2" stroke="#F0A058" stroke-opacity="0.36" stroke-width="0.85"/>
<path d="M129.6,121.2h2.2M130.7,120.1v2.2" stroke="#F0A058" stroke-opacity="0.36" stroke-width="0.85"/>
<path d="M122.9,124.5h2.2M124.0,123.4v2.2" stroke="#E2D468" stroke-opacity="0.36" stroke-width="0.85"/>
<path d="M120.1,121.2h2.2M121.2,120.1v2.2" stroke="#F0A058" stroke-opacity="0.36" stroke-width="0.85"/>
<path d="M125.8,131.3h2.2M126.9,130.2v2.2" stroke="#F0A058" stroke-opacity="0.36" stroke-width="0.85"/>
<path d="M129.2,124.5h2.2M130.3,123.4v2.2" stroke="#F0A058" stroke-opacity="0.36" stroke-width="0.85"/>
<path d="M136.9,124.5h2.2M138.0,123.4v2.2" stroke="#E2D468" stroke-opacity="0.36" stroke-width="0.85"/>
<path d="M147.8,127.9h2.2M148.9,126.8v2.2" stroke="#E2D468" stroke-opacity="0.36" stroke-width="0.85"/>
<path d="M152.6,131.3h2.2M153.7,130.2v2.2" stroke="#F0A058" stroke-opacity="0.36" stroke-width="0.85"/>
<path d="M139.0,121.2h2.2M140.1,120.1v2.2" stroke="#E2D468" stroke-opacity="0.36" stroke-width="0.85"/>
<path d="M136.5,124.5h2.2M137.6,123.4v2.2" stroke="#E2D468" stroke-opacity="0.36" stroke-width="0.85"/>
<path d="M152.4,124.5h2.2M153.5,123.4v2.2" stroke="#F0A058" stroke-opacity="0.36" stroke-width="0.85"/>
<path d="M18.9,144.7h2.2M20.0,143.6v2.2" stroke="#F0A058" stroke-opacity="0.36" stroke-width="0.85"/>
<path d="M25.9,151.4h2.2M27.0,150.3v2.2" stroke="#E2D468" stroke-opacity="0.36" stroke-width="0.85"/>
<path d="M48.3,141.3h2.2M49.4,140.2v2.2" stroke="#F0A058" stroke-opacity="0.36" stroke-width="0.85"/>
<path d="M49.3,141.3h2.2M50.4,140.2v2.2" stroke="#F0A058" stroke-opacity="0.36" stroke-width="0.85"/>
<path d="M64.1,148.0h2.2M65.2,146.9v2.2" stroke="#F0A058" stroke-opacity="0.36" stroke-width="0.85"/>
<path d="M67.7,148.0h2.2M68.8,146.9v2.2" stroke="#F0A058" stroke-opacity="0.36" stroke-width="0.85"/>
<path d="M81.4,141.3h2.2M82.5,140.2v2.2" stroke="#F0A058" stroke-opacity="0.36" stroke-width="0.85"/>
<path d="M92.6,141.3h2.2M93.7,140.2v2.2" stroke="#F0A058" stroke-opacity="0.36" stroke-width="0.85"/>
<path d="M86.3,151.4h2.2M87.4,150.3v2.2" stroke="#E2D468" stroke-opacity="0.36" stroke-width="0.85"/>
<path d="M103.5,148.0h2.2M104.6,146.9v2.2" stroke="#E2D468" stroke-opacity="0.36" stroke-width="0.85"/>
<path d="M117.5,144.7h2.2M118.6,143.6v2.2" stroke="#F0A058" stroke-opacity="0.36" stroke-width="0.85"/>
<path d="M124.8,138.0h2.2M125.9,136.9v2.2" stroke="#F0A058" stroke-opacity="0.36" stroke-width="0.85"/>
<path d="M131.7,144.7h2.2M132.8,143.6v2.2" stroke="#E2D468" stroke-opacity="0.36" stroke-width="0.85"/>
<path d="M140.9,138.0h2.2M142.0,136.9v2.2" stroke="#E2D468" stroke-opacity="0.36" stroke-width="0.85"/>
<path d="M146.5,151.4h2.2M147.6,150.3v2.2" stroke="#F0A058" stroke-opacity="0.36" stroke-width="0.85"/>
<path d="M139.8,141.3h2.2M140.9,140.2v2.2" stroke="#E2D468" stroke-opacity="0.36" stroke-width="0.85"/>
<path d="M129.9,17.1h2.2M131.0,16.0v2.2" stroke="#F0A058" stroke-opacity="0.36" stroke-width="0.85"/>
<path d="M139.3,33.9h2.2M140.4,32.8v2.2" stroke="#F0A058" stroke-opacity="0.36" stroke-width="0.85"/>
<path d="M101.8,40.6h2.2M102.9,39.5v2.2" stroke="#F0A058" stroke-opacity="0.36" stroke-width="0.85"/>
<path d="M59.0,57.4h2.2M60.1,56.3v2.2" stroke="#F0A058" stroke-opacity="0.36" stroke-width="0.85"/>
<path d="M99.1,60.7h2.2M100.2,59.6v2.2" stroke="#F0A058" stroke-opacity="0.36" stroke-width="0.85"/>
<path d="M133.9,50.7h2.2M135.0,49.6v2.2" stroke="#F0A058" stroke-opacity="0.36" stroke-width="0.85"/>
<path d="M141.9,44.0h2.2M143.0,42.9v2.2" stroke="#F0A058" stroke-opacity="0.36" stroke-width="0.85"/>
<path d="M119.2,64.1h2.2M120.3,63.0v2.2" stroke="#F0A058" stroke-opacity="0.36" stroke-width="0.85"/>
<path d="M146.0,54.0h2.2M147.1,52.9v2.2" stroke="#F0A058" stroke-opacity="0.36" stroke-width="0.85"/>
<path d="M85.8,67.5h2.2M86.9,66.4v2.2" stroke="#F0A058" stroke-opacity="0.36" stroke-width="0.85"/>
<path d="M136.6,64.1h2.2M137.7,63.0v2.2" stroke="#F0A058" stroke-opacity="0.36" stroke-width="0.85"/>
<line x1="44.5" y1="118.8" x2="153.2" y2="108.7" stroke="#D6C83C" stroke-width="1.5"/>
<line x1="24.7" y1="106.8" x2="153.7" y2="93.0" stroke="#E8883A" stroke-width="1.5"/>
<line x1="17.2" y1="16.8" x2="24.6" y2="16.8" stroke="#D6C83C" stroke-width="1.2"/>
<line x1="17.2" y1="21.9" x2="24.6" y2="21.9" stroke="#E8883A" stroke-width="1.2"/>
<text x="27.8" y="18.2" font-family="Liberation Sans" font-size="3.9" font-style="italic" fill="#333">ABIDE</text>
<text x="27.8" y="23.3" font-family="Liberation Sans" font-size="3.9" fill="#333">CABIC</text>
<text x="22.2" y="34.9" font-family="Liberation Sans" font-size="7" font-weight="bold" fill="#111"><tspan font-style="italic">ADOS/-2</tspan> Total</text>
<text x="87.5" y="174.2" font-family="Liberation Sans" font-size="5.85" font-weight="bold" fill="#111" text-anchor="middle">Transverse temporal</text>
<line x1="188.5" y1="10.7" x2="188.5" y2="157.8" stroke="#c4c4c4" stroke-width="1"/>
<line x1="188.0" y1="157.8" x2="335" y2="157.8" stroke="#c4c4c4" stroke-width="1"/>
<line x1="187.2" y1="151.40" x2="188.3" y2="151.40" stroke="#333" stroke-width="0.6"/>
<text x="186.7" y="152.80" font-family="Liberation Sans" font-size="4" fill="#222" text-anchor="end">0</text>
<line x1="187.2" y1="117.83" x2="188.3" y2="117.83" stroke="#333" stroke-width="0.6"/>
<text x="186.7" y="119.23" font-family="Liberation Sans" font-size="4" fill="#222" text-anchor="end">6</text>
<line x1="187.2" y1="84.25" x2="188.3" y2="84.25" stroke="#333" stroke-width="0.6"/>
<text x="186.7" y="85.65" font-family="Liberation Sans" font-size="4" fill="#222" text-anchor="end">12</text>
<line x1="187.2" y1="50.67" x2="188.3" y2="50.67" stroke="#333" stroke-width="0.6"/>
<text x="186.7" y="52.07" font-family="Liberation Sans" font-size="4" fill="#222" text-anchor="end">18</text>
<line x1="187.2" y1="17.10" x2="188.3" y2="17.10" stroke="#333" stroke-width="0.6"/>
<text x="186.7" y="18.50" font-family="Liberation Sans" font-size="4" fill="#222" text-anchor="end">24</text>
<line x1="194.95" y1="158.0" x2="194.95" y2="159.10000000000002" stroke="#333" stroke-width="0.6"/>
<text x="194.95" y="162.9" font-family="Liberation Sans" font-size="4" fill="#222" text-anchor="middle">0.00</text>
<line x1="228.40" y1="158.0" x2="228.40" y2="159.10000000000002" stroke="#333" stroke-width="0.6"/>
<text x="228.40" y="162.9" font-family="Liberation Sans" font-size="4" fill="#222" text-anchor="middle">0.25</text>
<line x1="261.85" y1="158.0" x2="261.85" y2="159.10000000000002" stroke="#333" stroke-width="0.6"/>
<text x="261.85" y="162.9" font-family="Liberation Sans" font-size="4" fill="#222" text-anchor="middle">0.50</text>
<line x1="295.30" y1="158.0" x2="295.30" y2="159.10000000000002" stroke="#333" stroke-width="0.6"/>
<text x="295.30" y="162.9" font-family="Liberation Sans" font-size="4" fill="#222" text-anchor="middle">0.75</text>
<line x1="328.75" y1="158.0" x2="328.75" y2="159.10000000000002" stroke="#333" stroke-width="0.6"/>
<text x="328.75" y="162.9" font-family="Liberation Sans" font-size="4" fill="#222" text-anchor="middle">1.00</text>
<path d="M235.1,22.7h2.2M236.2,21.6v2.2" stroke="#E2D468" stroke-opacity="0.36" stroke-width="0.85"/>
<path d="M259.3,22.7h2.2M260.4,21.6v2.2" stroke="#F0A058" stroke-opacity="0.36" stroke-width="0.85"/>
<path d="M252.3,39.5h2.2M253.4,38.4v2.2" stroke="#E2D468" stroke-opacity="0.36" stroke-width="0.85"/>
<path d="M273.1,33.9h2.2M274.2,32.8v2.2" stroke="#F0A058" stroke-opacity="0.36" stroke-width="0.85"/>
<path d="M266.2,28.3h2.2M267.3,27.2v2.2" stroke="#F0A058" stroke-opacity="0.36" stroke-width="0.85"/>
<path d="M273.9,17.1h2.2M275.0,16.0v2.2" stroke="#F0A058" stroke-opacity="0.36" stroke-width="0.85"/>
<path d="M280.8,33.9h2.2M281.9,32.8v2.2" stroke="#F0A058" stroke-opacity="0.36" stroke-width="0.85"/>
<path d="M278.6,39.5h2.2M279.7,38.4v2.2" stroke="#F0A058" stroke-opacity="0.36" stroke-width="0.85"/>
<path d="M286.6,33.9h2.2M287.7,32.8v2.2" stroke="#E2D468" stroke-opacity="0.36" stroke-width="0.85"/>
<path d="M292.3,39.5h2.2M293.4,38.4v2.2" stroke="#F0A058" stroke-opacity="0.36" stroke-width="0.85"/>
<path d="M278.9,39.5h2.2M280.0,38.4v2.2" stroke="#F0A058" stroke-opacity="0.36" stroke-width="0.85"/>
<path d="M310.7,22.7h2.2M311.8,21.6v2.2" stroke="#F0A058" stroke-opacity="0.36" stroke-width="0.85"/>
<path d="M296.4,22.7h2.2M297.5,21.6v2.2" stroke="#F0A058" stroke-opacity="0.36" stroke-width="0.85"/>
<path d="M305.5,17.1h2.2M306.6,16.0v2.2" stroke="#E2D468" stroke-opacity="0.36" stroke-width="0.85"/>
<path d="M305.3,39.5h2.2M306.4,38.4v2.2" stroke="#E2D468" stroke-opacity="0.36" stroke-width="0.85"/>
<path d="M299.1,28.3h2.2M300.2,27.2v2.2" stroke="#F0A058" stroke-opacity="0.36" stroke-width="0.85"/>
<path d="M300.4,28.3h2.2M301.5,27.2v2.2" stroke="#F0A058" stroke-opacity="0.36" stroke-width="0.85"/>
<path d="M298.3,33.9h2.2M299.4,32.8v2.2" stroke="#F0A058" stroke-opacity="0.36" stroke-width="0.85"/>
<path d="M315.6,17.1h2.2M316.7,16.0v2.2" stroke="#F0A058" stroke-opacity="0.36" stroke-width="0.85"/>
<path d="M312.0,28.3h2.2M313.1,27.2v2.2" stroke="#E2D468" stroke-opacity="0.36" stroke-width="0.85"/>
<path d="M319.4,33.9h2.2M320.5,32.8v2.2" stroke="#F0A058" stroke-opacity="0.36" stroke-width="0.85"/>
<path d="M312.6,22.7h2.2M313.7,21.6v2.2" stroke="#E2D468" stroke-opacity="0.36" stroke-width="0.85"/>
<path d="M312.6,22.7h2.2M313.7,21.6v2.2" stroke="#E2D468" stroke-opacity="0.36" stroke-width="0.85"/>
<path d="M314.8,22.7h2.2M315.9,21.6v2.2" stroke="#E2D468" stroke-opacity="0.36" stroke-width="0.85"/>
<path d="M194.5,50.7h2.2M195.6,49.6v2.2" stroke="#F0A058" stroke-opacity="0.36" stroke-width="0.85"/>
<path d="M211.4,56.3h2.2M212.5,55.2v2.2" stroke="#E2D468" stroke-opacity="0.36" stroke-width="0.85"/>
<path d="M216.8,56.3h2.2M217.9,55.2v2.2" stroke="#F0A058" stroke-opacity="0.36" stroke-width="0.85"/>
<path d="M214.9,61.9h2.2M216.0,60.8v2.2" stroke="#F0A058" stroke-opacity="0.36" stroke-width="0.85"/>
<path d="M237.3,50.7h2.2M238.4,49.6v2.2" stroke="#F0A058" stroke-opacity="0.36" stroke-width="0.85"/>
<path d="M233.5,56.3h2.2M234.6,55.2v2.2" stroke="#F0A058" stroke-opacity="0.36" stroke-width="0.85"/>
<path d="M244.0,61.9h2.2M245.1,60.8v2.2" stroke="#F0A058" stroke-opacity="0.36" stroke-width="0.85"/>
<path d="M238.2,56.3h2.2M239.3,55.2v2.2" stroke="#E2D468" stroke-opacity="0.36" stroke-width="0.85"/>
<path d="M241.0,45.1h2.2M242.1,44.0v2.2" stroke="#F0A058" stroke-opacity="0.36" stroke-width="0.85"/>
<path d="M230.4,50.7h2.2M231.5,49.6v2.2" stroke="#F0A058" stroke-opacity="0.36" stroke-width="0.85"/>
<path d="M244.6,45.1h2.2M245.7,44.0v2.2" stroke="#F0A058" stroke-opacity="0.36" stroke-width="0.85"/>
<path d="M245.1,61.9h2.2M246.2,60.8v2.2" stroke="#E2D468" stroke-opacity="0.36" stroke-width="0.85"/>
<path d="M255.1,56.3h2.2M256.2,55.2v2.2" stroke="#F0A058" stroke-opacity="0.36" stroke-width="0.85"/>
<path d="M245.5,56.3h2.2M246.6,55.2v2.2" stroke="#F0A058" stroke-opacity="0.36" stroke-width="0.85"/>
<path d="M248.6,50.7h2.2M249.7,49.6v2.2" stroke="#F0A058" stroke-opacity="0.36" stroke-width="0.85"/>
<path d="M251.0,61.9h2.2M252.1,60.8v2.2" stroke="#F0A058" stroke-opacity="0.36" stroke-width="0.85"/>
<path d="M253.5,50.7h2.2M254.6,49.6v2.2" stroke="#F0A058" stroke-opacity="0.36" stroke-width="0.85"/>
<path d="M244.3,50.7h2.2M245.4,49.6v2.2" stroke="#F0A058" stroke-opacity="0.36" stroke-width="0.85"/>
<path d="M250.6,45.1h2.2M251.7,44.0v2.2" stroke="#F0A058" stroke-opacity="0.36" stroke-width="0.85"/>
<path d="M260.8,56.3h2.2M261.9,55.2v2.2" stroke="#F0A058" stroke-opacity="0.36" stroke-width="0.85"/>
<path d="M274.5,45.1h2.2M275.6,44.0v2.2" stroke="#F0A058" stroke-opacity="0.36" stroke-width="0.85"/>
<path d="M266.9,56.3h2.2M268.0,55.2v2.2" stroke="#F0A058" stroke-opacity="0.36" stroke-width="0.85"/>
<path d="M261.6,56.3h2.2M262.7,55.2v2.2" stroke="#F0A058" stroke-opacity="0.36" stroke-width="0.85"/>
<path d="M276.0,61.9h2.2M277.1,60.8v2.2" stroke="#F0A058" stroke-opacity="0.36" stroke-width="0.85"/>
<path d="M276.3,56.3h2.2M277.4,55.2v2.2" stroke="#F0A058" stroke-opacity="0.36" stroke-width="0.85"/>
<path d="M265.5,56.3h2.2M266.6,55.2v2.2" stroke="#E2D468" stroke-opacity="0.36" stroke-width="0.85"/>
<path d="M262.6,45.1h2.2M263.7,44.0v2.2" stroke="#E2D468" stroke-opacity="0.36" stroke-width="0.85"/>
<path d="M274.0,56.3h2.2M275.1,55.2v2.2" stroke="#F0A058" stroke-opacity="0.36" stroke-width="0.85"/>
<path d="M274.8,61.9h2.2M275.9,60.8v2.2" stroke="#E2D468" stroke-opacity="0.36" stroke-width="0.85"/>
<path d="M268.8,61.9h2.2M269.9,60.8v2.2" stroke="#F0A058" stroke-opacity="0.36" stroke-width="0.85"/>
<path d="M271.4,61.9h2.2M272.5,60.8v2.2" stroke="#E2D468" stroke-opacity="0.36" stroke-width="0.85"/>
<path d="M287.9,56.3h2.2M289.0,55.2v2.2" stroke="#F0A058" stroke-opacity="0.36" stroke-width="0.85"/>
<path d="M291.8,45.1h2.2M292.9,44.0v2.2" stroke="#F0A058" stroke-opacity="0.36" stroke-width="0.85"/>
<path d="M280.8,45.1h2.2M281.9,44.0v2.2" stroke="#F0A058" stroke-opacity="0.36" stroke-width="0.85"/>
<path d="M281.1,45.1h2.2M282.2,44.0v2.2" stroke="#E2D468" stroke-opacity="0.36" stroke-width="0.85"/>
<path d="M280.1,50.7h2.2M281.2,49.6v2.2" stroke="#F0A058" stroke-opacity="0.36" stroke-width="0.85"/>
<path d="M281.6,56.3h2.2M282.7,55.2v2.2" stroke="#F0A058" stroke-opacity="0.36" stroke-width="0.85"/>
<path d="M286.9,61.9h2.2M288.0,60.8v2.2" stroke="#F0A058" stroke-opacity="0.36" stroke-width="0.85"/>
<path d="M282.9,45.1h2.2M284.0,44.0v2.2" stroke="#F0A058" stroke-opacity="0.36" stroke-width="0.85"/>
<path d="M286.7,50.7h2.2M287.8,49.6v2.2" stroke="#F0A058" stroke-opacity="0.36" stroke-width="0.85"/>
<path d="M282.6,56.3h2.2M283.7,55.2v2.2" stroke="#F0A058" stroke-opacity="0.36" stroke-width="0.85"/>
<path d="M288.5,45.1h2.2M289.6,44.0v2.2" stroke="#F0A058" stroke-opacity="0.36" stroke-width="0.85"/>
<path d="M280.5,61.9h2.2M281.6,60.8v2.2" stroke="#F0A058" stroke-opacity="0.36" stroke-width="0.85"/>
<path d="M285.7,56.3h2.2M286.8,55.2v2.2" stroke="#F0A058" stroke-opacity="0.36" stroke-width="0.85"/>
<path d="M287.8,45.1h2.2M288.9,44.0v2.2" stroke="#E2D468" stroke-opacity="0.36" stroke-width="0.85"/>
<path d="M307.8,45.1h2.2M308.9,44.0v2.2" stroke="#F0A058" stroke-opacity="0.36" stroke-width="0.85"/>
<path d="M296.3,45.1h2.2M297.4,44.0v2.2" stroke="#F0A058" stroke-opacity="0.36" stroke-width="0.85"/>
<path d="M307.6,61.9h2.2M308.7,60.8v2.2" stroke="#F0A058" stroke-opacity="0.36" stroke-width="0.85"/>
<path d="M296.4,50.7h2.2M297.5,49.6v2.2" stroke="#E2D468" stroke-opacity="0.36" stroke-width="0.85"/>
<path d="M302.8,61.9h2.2M303.9,60.8v2.2" stroke="#E2D468" stroke-opacity="0.36" stroke-width="0.85"/>
<path d="M309.2,56.3h2.2M310.3,55.2v2.2" stroke="#F0A058" stroke-opacity="0.36" stroke-width="0.85"/>
<path d="M295.3,61.9h2.2M296.4,60.8v2.2" stroke="#F0A058" stroke-opacity="0.36" stroke-width="0.85"/>
<path d="M310.6,45.1h2.2M311.7,44.0v2.2" stroke="#F0A058" stroke-opacity="0.36" stroke-width="0.85"/>
<path d="M307.8,56.3h2.2M308.9,55.2v2.2" stroke="#E2D468" stroke-opacity="0.36" stroke-width="0.85"/>
<path d="M306.3,56.3h2.2M307.4,55.2v2.2" stroke="#F0A058" stroke-opacity="0.36" stroke-width="0.85"/>
<path d="M300.1,50.7h2.2M301.2,49.6v2.2" stroke="#F0A058" stroke-opacity="0.36" stroke-width="0.85"/>
<path d="M309.2,50.7h2.2M310.3,49.6v2.2" stroke="#E2D468" stroke-opacity="0.36" stroke-width="0.85"/>
<path d="M301.8,50.7h2.2M302.9,49.6v2.2" stroke="#F0A058" stroke-opacity="0.36" stroke-width="0.85"/>
<path d="M309.6,56.3h2.2M310.7,55.2v2.2" stroke="#F0A058" stroke-opacity="0.36" stroke-width="0.85"/>
<path d="M304.5,56.3h2.2M305.6,55.2v2.2" stroke="#F0A058" stroke-opacity="0.36" stroke-width="0.85"/>
<path d="M311.5,56.3h2.2M312.6,55.2v2.2" stroke="#F0A058" stroke-opacity="0.36" stroke-width="0.85"/>
<path d="M321.6,50.7h2.2M322.7,49.6v2.2" stroke="#F0A058" stroke-opacity="0.36" stroke-width="0.85"/>
<path d="M325.9,56.3h2.2M327.0,55.2v2.2" stroke="#E2D468" stroke-opacity="0.36" stroke-width="0.85"/>
<path d="M315.3,61.9h2.2M316.4,60.8v2.2" stroke="#F0A058" stroke-opacity="0.36" stroke-width="0.85"/>
<path d="M316.9,45.1h2.2M318.0,44.0v2.2" stroke="#F0A058" stroke-opacity="0.36" stroke-width="0.85"/>
<path d="M320.6,61.9h2.2M321.7,60.8v2.2" stroke="#F0A058" stroke-opacity="0.36" stroke-width="0.85"/>
<path d="M319.9,45.1h2.2M321.0,44.0v2.2" stroke="#E2D468" stroke-opacity="0.36" stroke-width="0.85"/>
<path d="M317.1,45.1h2.2M318.2,44.0v2.2" stroke="#E2D468" stroke-opacity="0.36" stroke-width="0.85"/>
<path d="M320.6,50.7h2.2M321.7,49.6v2.2" stroke="#F0A058" stroke-opacity="0.36" stroke-width="0.85"/>
<path d="M312.3,56.3h2.2M313.4,55.2v2.2" stroke="#F0A058" stroke-opacity="0.36" stroke-width="0.85"/>
<path d="M323.4,61.9h2.2M324.5,60.8v2.2" stroke="#F0A058" stroke-opacity="0.36" stroke-width="0.85"/>
<path d="M319.6,50.7h2.2M320.7,49.6v2.2" stroke="#F0A058" stroke-opacity="0.36" stroke-width="0.85"/>
<path d="M327.4,50.7h2.2M328.5,49.6v2.2" stroke="#E2D468" stroke-opacity="0.36" stroke-width="0.85"/>
<path d="M323.4,56.3h2.2M324.5,55.2v2.2" stroke="#F0A058" stroke-opacity="0.36" stroke-width="0.85"/>
<path d="M204.2,67.5h2.2M205.3,66.4v2.2" stroke="#F0A058" stroke-opacity="0.36" stroke-width="0.85"/>
<path d="M199.9,84.2h2.2M201.0,83.2v2.2" stroke="#F0A058" stroke-opacity="0.36" stroke-width="0.85"/>
<path d="M214.4,84.2h2.2M215.5,83.2v2.2" stroke="#F0A058" stroke-opacity="0.36" stroke-width="0.85"/>
<path d="M210.6,73.1h2.2M211.7,72.0v2.2" stroke="#F0A058" stroke-opacity="0.36" stroke-width="0.85"/>
<path d="M219.3,78.7h2.2M220.4,77.6v2.2" stroke="#F0A058" stroke-opacity="0.36" stroke-width="0.85"/>
<path d="M215.6,78.7h2.2M216.7,77.6v2.2" stroke="#F0A058" stroke-opacity="0.36" stroke-width="0.85"/>
<path d="M237.7,67.5h2.2M238.8,66.4v2.2" stroke="#F0A058" stroke-opacity="0.36" stroke-width="0.85"/>
<path d="M227.5,78.7h2.2M228.6,77.6v2.2" stroke="#E2D468" stroke-opacity="0.36" stroke-width="0.85"/>
<path d="M234.8,84.2h2.2M235.9,83.2v2.2" stroke="#F0A058" stroke-opacity="0.36" stroke-width="0.85"/>
<path d="M241.9,73.1h2.2M243.0,72.0v2.2" stroke="#F0A058" stroke-opacity="0.36" stroke-width="0.85"/>
<path d="M231.7,84.2h2.2M232.8,83.2v2.2" stroke="#F0A058" stroke-opacity="0.36" stroke-width="0.85"/>
<path d="M241.0,73.1h2.2M242.1,72.0v2.2" stroke="#F0A058" stroke-opacity="0.36" stroke-width="0.85"/>
<path d="M237.0,67.5h2.2M238.1,66.4v2.2" stroke="#F0A058" stroke-opacity="0.36" stroke-width="0.85"/>
<path d="M259.1,84.2h2.2M260.2,83.2v2.2" stroke="#F0A058" stroke-opacity="0.36" stroke-width="0.85"/>
<path d="M244.4,78.7h2.2M245.5,77.6v2.2" stroke="#F0A058" stroke-opacity="0.36" stroke-width="0.85"/>
<path d="M245.0,84.2h2.2M246.1,83.2v2.2" stroke="#F0A058" stroke-opacity="0.36" stroke-width="0.85"/>
<path d="M253.2,78.7h2.2M254.3,77.6v2.2" stroke="#F0A058" stroke-opacity="0.36" stroke-width="0.85"/>
<path d="M247.4,67.5h2.2M248.5,66.4v2.2" stroke="#E2D468" stroke-opacity="0.36" stroke-width="0.85"/>
<path d="M246.9,73.1h2.2M248.0,72.0v2.2" stroke="#F0A058" stroke-opacity="0.36" stroke-width="0.85"/>
<path d="M254.5,67.5h2.2M255.6,66.4v2.2" stroke="#E2D468" stroke-opacity="0.36" stroke-width="0.85"/>
<path d="M244.1,67.5h2.2M245.2,66.4v2.2" stroke="#E2D468" stroke-opacity="0.36" stroke-width="0.85"/>
<path d="M251.8,67.5h2.2M252.9,66.4v2.2" stroke="#F0A058" stroke-opacity="0.36" stroke-width="0.85"/>
<path d="M260.7,73.1h2.2M261.8,72.0v2.2" stroke="#F0A058" stroke-opacity="0.36" stroke-width="0.85"/>
<path d="M261.4,73.1h2.2M262.5,72.0v2.2" stroke="#E2D468" stroke-opacity="0.36" stroke-width="0.85"/>
<path d="M276.2,73.1h2.2M277.3,72.0v2.2" stroke="#E2D468" stroke-opacity="0.36" stroke-width="0.85"/>
<path d="M265.2,67.5h2.2M266.3,66.4v2.2" stroke="#E2D468" stroke-opacity="0.36" stroke-width="0.85"/>
<path d="M276.1,73.1h2.2M277.2,72.0v2.2" stroke="#F0A058" stroke-opacity="0.36" stroke-width="0.85"/>
<path d="M276.3,78.7h2.2M277.4,77.6v2.2" stroke="#F0A058" stroke-opacity="0.36" stroke-width="0.85"/>
<path d="M269.2,78.7h2.2M270.3,77.6v2.2" stroke="#F0A058" stroke-opacity="0.36" stroke-width="0.85"/>
<path d="M264.7,78.7h2.2M265.8,77.6v2.2" stroke="#E2D468" stroke-opacity="0.36" stroke-width="0.85"/>
<path d="M273.2,73.1h2.2M274.3,72.0v2.2" stroke="#F0A058" stroke-opacity="0.36" stroke-width="0.85"/>
<path d="M267.3,78.7h2.2M268.4,77.6v2.2" stroke="#F0A058" stroke-opacity="0.36" stroke-width="0.85"/>
<path d="M275.0,67.5h2.2M276.1,66.4v2.2" stroke="#F0A058" stroke-opacity="0.36" stroke-width="0.85"/>
<path d="M269.6,84.2h2.2M270.7,83.2v2.2" stroke="#E2D468" stroke-opacity="0.36" stroke-width="0.85"/>
<path d="M268.1,78.7h2.2M269.2,77.6v2.2" stroke="#F0A058" stroke-opacity="0.36" stroke-width="0.85"/>
<path d="M282.6,78.7h2.2M283.7,77.6v2.2" stroke="#F0A058" stroke-opacity="0.36" stroke-width="0.85"/>
<path d="M287.3,78.7h2.2M288.4,77.6v2.2" stroke="#F0A058" stroke-opacity="0.36" stroke-width="0.85"/>
<path d="M277.9,84.2h2.2M279.0,83.2v2.2" stroke="#F0A058" stroke-opacity="0.36" stroke-width="0.85"/>
<path d="M280.2,78.7h2.2M281.3,77.6v2.2" stroke="#E2D468" stroke-opacity="0.36" stroke-width="0.85"/>
<path d="M278.0,78.7h2.2M279.1,77.6v2.2" stroke="#E2D468" stroke-opacity="0.36" stroke-width="0.85"/>
<path d="M288.1,84.2h2.2M289.2,83.2v2.2" stroke="#E2D468" stroke-opacity="0.36" stroke-width="0.85"/>
<path d="M278.6,73.1h2.2M279.7,72.0v2.2" stroke="#F0A058" stroke-opacity="0.36" stroke-width="0.85"/>
<path d="M293.4,84.2h2.2M294.5,83.2v2.2" stroke="#E2D468" stroke-opacity="0.36" stroke-width="0.85"/>
<path d="M290.1,67.5h2.2M291.2,66.4v2.2" stroke="#F0A058" stroke-opacity="0.36" stroke-width="0.85"/>
<path d="M280.9,84.2h2.2M282.0,83.2v2.2" stroke="#F0A058" stroke-opacity="0.36" stroke-width="0.85"/>
<path d="M293.4,84.2h2.2M294.5,83.2v2.2" stroke="#E2D468" stroke-opacity="0.36" stroke-width="0.85"/>
<path d="M288.0,73.1h2.2M289.1,72.0v2.2" stroke="#F0A058" stroke-opacity="0.36" stroke-width="0.85"/>
<path d="M279.7,78.7h2.2M280.8,77.6v2.2" stroke="#F0A058" stroke-opacity="0.36" stroke-width="0.85"/>
<path d="M283.1,73.1h2.2M284.2,72.0v2.2" stroke="#F0A058" stroke-opacity="0.36" stroke-width="0.85"/>
<path d="M298.5,73.1h2.2M299.6,72.0v2.2" stroke="#F0A058" stroke-opacity="0.36" stroke-width="0.85"/>
<path d="M306.9,73.1h2.2M308.0,72.0v2.2" stroke="#E2D468" stroke-opacity="0.36" stroke-width="0.85"/>
<path d="M304.3,67.5h2.2M305.4,66.4v2.2" stroke="#E2D468" stroke-opacity="0.36" stroke-width="0.85"/>
<path d="M304.5,84.2h2.2M305.6,83.2v2.2" stroke="#E2D468" stroke-opacity="0.36" stroke-width="0.85"/>
<path d="M294.7,84.2h2.2M295.8,83.2v2.2" stroke="#F0A058" stroke-opacity="0.36" stroke-width="0.85"/>
<path d="M306.0,78.7h2.2M307.1,77.6v2.2" stroke="#E2D468" stroke-opacity="0.36" stroke-width="0.85"/>
<path d="M308.0,73.1h2.2M309.1,72.0v2.2" stroke="#F0A058" stroke-opacity="0.36" stroke-width="0.85"/>
<path d="M294.2,78.7h2.2M295.3,77.6v2.2" stroke="#F0A058" stroke-opacity="0.36" stroke-width="0.85"/>
<path d="M306.8,84.2h2.2M307.9,83.2v2.2" stroke="#F0A058" stroke-opacity="0.36" stroke-width="0.85"/>
<path d="M302.4,67.5h2.2M303.5,66.4v2.2" stroke="#E2D468" stroke-opacity="0.36" stroke-width="0.85"/>
<path d="M308.0,67.5h2.2M309.1,66.4v2.2" stroke="#F0A058" stroke-opacity="0.36" stroke-width="0.85"/>
<path d="M310.2,73.1h2.2M311.3,72.0v2.2" stroke="#F0A058" stroke-opacity="0.36" stroke-width="0.85"/>
<path d="M296.9,78.7h2.2M298.0,77.6v2.2" stroke="#E2D468" stroke-opacity="0.36" stroke-width="0.85"/>
<path d="M298.1,78.7h2.2M299.2,77.6v2.2" stroke="#F0A058" stroke-opacity="0.36" stroke-width="0.85"/>
<path d="M304.8,84.2h2.2M305.9,83.2v2.2" stroke="#F0A058" stroke-opacity="0.36" stroke-width="0.85"/>
<path d="M327.5,84.2h2.2M328.6,83.2v2.2" stroke="#F0A058" stroke-opacity="0.36" stroke-width="0.85"/>
<path d="M316.9,67.5h2.2M318.0,66.4v2.2" stroke="#E2D468" stroke-opacity="0.36" stroke-width="0.85"/>
<path d="M325.8,84.2h2.2M326.9,83.2v2.2" stroke="#F0A058" stroke-opacity="0.36" stroke-width="0.85"/>
<path d="M321.7,73.1h2.2M322.8,72.0v2.2" stroke="#F0A058" stroke-opacity="0.36" stroke-width="0.85"/>
<path d="M315.3,78.7h2.2M316.4,77.6v2.2" stroke="#F0A058" stroke-opacity="0.36" stroke-width="0.85"/>
<path d="M325.7,78.7h2.2M326.8,77.6v2.2" stroke="#E2D468" stroke-opacity="0.36" stroke-width="0.85"/>
<path d="M313.0,84.2h2.2M314.1,83.2v2.2" stroke="#F0A058" stroke-opacity="0.36" stroke-width="0.85"/>
<path d="M316.4,78.7h2.2M317.5,77.6v2.2" stroke="#E2D468" stroke-opacity="0.36" stroke-width="0.85"/>
<path d="M318.5,73.1h2.2M319.6,72.0v2.2" stroke="#F0A058" stroke-opacity="0.36" stroke-width="0.85"/>
<path d="M318.3,73.1h2.2M319.4,72.0v2.2" stroke="#F0A058" stroke-opacity="0.36" stroke-width="0.85"/>
<path d="M313.0,67.5h2.2M314.1,66.4v2.2" stroke="#F0A058" stroke-opacity="0.36" stroke-width="0.85"/>
<path d="M322.6,78.7h2.2M323.7,77.6v2.2" stroke="#F0A058" stroke-opacity="0.36" stroke-width="0.85"/>
<path d="M323.5,78.7h2.2M324.6,77.6v2.2" stroke="#E2D468" stroke-opacity="0.36" stroke-width="0.85"/>
<path d="M210.2,95.4h2.2M211.3,94.3v2.2" stroke="#E2D468" stroke-opacity="0.36" stroke-width="0.85"/>
<path d="M216.4,101.0h2.2M217.5,99.9v2.2" stroke="#F0A058" stroke-opacity="0.36" stroke-width="0.85"/>
<path d="M213.7,106.6h2.2M214.8,105.5v2.2" stroke="#F0A058" stroke-opacity="0.36" stroke-width="0.85"/>
<path d="M221.6,101.0h2.2M222.7,99.9v2.2" stroke="#F0A058" stroke-opacity="0.36" stroke-width="0.85"/>
<path d="M243.8,95.4h2.2M244.9,94.3v2.2" stroke="#E2D468" stroke-opacity="0.36" stroke-width="0.85"/>
<path d="M234.6,101.0h2.2M235.7,99.9v2.2" stroke="#F0A058" stroke-opacity="0.36" stroke-width="0.85"/>
<path d="M242.5,95.4h2.2M243.6,94.3v2.2" stroke="#F0A058" stroke-opacity="0.36" stroke-width="0.85"/>
<path d="M233.8,106.6h2.2M234.9,105.5v2.2" stroke="#F0A058" stroke-opacity="0.36" stroke-width="0.85"/>
<path d="M241.6,89.8h2.2M242.7,88.7v2.2" stroke="#E2D468" stroke-opacity="0.36" stroke-width="0.85"/>
<path d="M252.4,95.4h2.2M253.5,94.3v2.2" stroke="#E2D468" stroke-opacity="0.36" stroke-width="0.85"/>
<path d="M246.4,89.8h2.2M247.5,88.7v2.2" stroke="#F0A058" stroke-opacity="0.36" stroke-width="0.85"/>
<path d="M248.1,89.8h2.2M249.2,88.7v2.2" stroke="#E2D468" stroke-opacity="0.36" stroke-width="0.85"/>
<path d="M253.8,89.8h2.2M254.9,88.7v2.2" stroke="#E2D468" stroke-opacity="0.36" stroke-width="0.85"/>
<path d="M255.2,101.0h2.2M256.3,99.9v2.2" stroke="#E2D468" stroke-opacity="0.36" stroke-width="0.85"/>
<path d="M254.8,89.8h2.2M255.9,88.7v2.2" stroke="#E2D468" stroke-opacity="0.36" stroke-width="0.85"/>
<path d="M248.4,106.6h2.2M249.5,105.5v2.2" stroke="#E2D468" stroke-opacity="0.36" stroke-width="0.85"/>
<path d="M264.8,89.8h2.2M265.9,88.7v2.2" stroke="#E2D468" stroke-opacity="0.36" stroke-width="0.85"/>
<path d="M271.3,95.4h2.2M272.4,94.3v2.2" stroke="#E2D468" stroke-opacity="0.36" stroke-width="0.85"/>
<path d="M268.8,106.6h2.2M269.9,105.5v2.2" stroke="#E2D468" stroke-opacity="0.36" stroke-width="0.85"/>
<path d="M267.6,101.0h2.2M268.7,99.9v2.2" stroke="#E2D468" stroke-opacity="0.36" stroke-width="0.85"/>
<path d="M266.2,106.6h2.2M267.3,105.5v2.2" stroke="#F0A058" stroke-opacity="0.36" stroke-width="0.85"/>
<path d="M268.9,106.6h2.2M270.0,105.5v2.2" stroke="#F0A058" stroke-opacity="0.36" stroke-width="0.85"/>
<path d="M269.8,101.0h2.2M270.9,99.9v2.2" stroke="#E2D468" stroke-opacity="0.36" stroke-width="0.85"/>
<path d="M276.7,101.0h2.2M277.8,99.9v2.2" stroke="#E2D468" stroke-opacity="0.36" stroke-width="0.85"/>
<path d="M262.4,89.8h2.2M263.5,88.7v2.2" stroke="#E2D468" stroke-opacity="0.36" stroke-width="0.85"/>
<path d="M289.5,106.6h2.2M290.6,105.5v2.2" stroke="#E2D468" stroke-opacity="0.36" stroke-width="0.85"/>
<path d="M291.3,95.4h2.2M292.4,94.3v2.2" stroke="#F0A058" stroke-opacity="0.36" stroke-width="0.85"/>
<path d="M293.3,101.0h2.2M294.4,99.9v2.2" stroke="#E2D468" stroke-opacity="0.36" stroke-width="0.85"/>
<path d="M280.5,106.6h2.2M281.6,105.5v2.2" stroke="#E2D468" stroke-opacity="0.36" stroke-width="0.85"/>
<path d="M287.7,106.6h2.2M288.8,105.5v2.2" stroke="#F0A058" stroke-opacity="0.36" stroke-width="0.85"/>
<path d="M283.9,106.6h2.2M285.0,105.5v2.2" stroke="#F0A058" stroke-opacity="0.36" stroke-width="0.85"/>
<path d="M284.5,89.8h2.2M285.6,88.7v2.2" stroke="#E2D468" stroke-opacity="0.36" stroke-width="0.85"/>
<path d="M288.8,95.4h2.2M289.9,94.3v2.2" stroke="#F0A058" stroke-opacity="0.36" stroke-width="0.85"/>
<path d="M282.6,89.8h2.2M283.7,88.7v2.2" stroke="#E2D468" stroke-opacity="0.36" stroke-width="0.85"/>
<path d="M286.3,101.0h2.2M287.4,99.9v2.2" stroke="#E2D468" stroke-opacity="0.36" stroke-width="0.85"/>
<path d="M310.3,89.8h2.2M311.4,88.7v2.2" stroke="#F0A058" stroke-opacity="0.36" stroke-width="0.85"/>
<path d="M296.4,106.6h2.2M297.5,105.5v2.2" stroke="#E2D468" stroke-opacity="0.36" stroke-width="0.85"/>
<path d="M304.8,89.8h2.2M305.9,88.7v2.2" stroke="#E2D468" stroke-opacity="0.36" stroke-width="0.85"/>
<path d="M306.3,101.0h2.2M307.4,99.9v2.2" stroke="#F0A058" stroke-opacity="0.36" stroke-width="0.85"/>
<path d="M304.9,89.8h2.2M306.0,88.7v2.2" stroke="#E2D468" stroke-opacity="0.36" stroke-width="0.85"/>
<path d="M299.1,101.0h2.2M300.2,99.9v2.2" stroke="#E2D468" stroke-opacity="0.36" stroke-width="0.85"/>
<path d="M302.1,101.0h2.2M303.2,99.9v2.2" stroke="#F0A058" stroke-opacity="0.36" stroke-width="0.85"/>
<path d="M300.5,95.4h2.2M301.6,94.3v2.2" stroke="#E2D468" stroke-opacity="0.36" stroke-width="0.85"/>
<path d="M305.6,89.8h2.2M306.7,88.7v2.2" stroke="#F0A058" stroke-opacity="0.36" stroke-width="0.85"/>
<path d="M306.3,95.4h2.2M307.4,94.3v2.2" stroke="#F0A058" stroke-opacity="0.36" stroke-width="0.85"/>
<path d="M305.1,95.4h2.2M306.2,94.3v2.2" stroke="#E2D468" stroke-opacity="0.36" stroke-width="0.85"/>
<path d="M318.1,106.6h2.2M319.2,105.5v2.2" stroke="#E2D468" stroke-opacity="0.36" stroke-width="0.85"/>
<path d="M317.0,95.4h2.2M318.1,94.3v2.2" stroke="#E2D468" stroke-opacity="0.36" stroke-width="0.85"/>
<path d="M311.9,95.4h2.2M313.0,94.3v2.2" stroke="#E2D468" stroke-opacity="0.36" stroke-width="0.85"/>
<path d="M313.3,95.4h2.2M314.4,94.3v2.2" stroke="#E2D468" stroke-opacity="0.36" stroke-width="0.85"/>
<path d="M311.2,106.6h2.2M312.3,105.5v2.2" stroke="#F0A058" stroke-opacity="0.36" stroke-width="0.85"/>
<path d="M312.1,95.4h2.2M313.2,94.3v2.2" stroke="#F0A058" stroke-opacity="0.36" stroke-width="0.85"/>
<path d="M312.6,101.0h2.2M313.7,99.9v2.2" stroke="#E2D468" stroke-opacity="0.36" stroke-width="0.85"/>
<path d="M314.0,89.8h2.2M315.1,88.7v2.2" stroke="#F0A058" stroke-opacity="0.36" stroke-width="0.85"/>
<path d="M313.5,89.8h2.2M314.6,88.7v2.2" stroke="#E2D468" stroke-opacity="0.36" stroke-width="0.85"/>
<path d="M313.7,106.6h2.2M314.8,105.5v2.2" stroke="#E2D468" stroke-opacity="0.36" stroke-width="0.85"/>
<path d="M208.8,117.8h2.2M209.9,116.7v2.2" stroke="#F0A058" stroke-opacity="0.36" stroke-width="0.85"/>
<path d="M222.2,129.0h2.2M223.3,127.9v2.2" stroke="#E2D468" stroke-opacity="0.36" stroke-width="0.85"/>
<path d="M217.9,129.0h2.2M219.0,127.9v2.2" stroke="#E2D468" stroke-opacity="0.36" stroke-width="0.85"/>
<path d="M231.7,123.4h2.2M232.8,122.3v2.2" stroke="#E2D468" stroke-opacity="0.36" stroke-width="0.85"/>
<path d="M235.2,129.0h2.2M236.3,127.9v2.2" stroke="#E2D468" stroke-opacity="0.36" stroke-width="0.85"/>
<path d="M242.4,112.2h2.2M243.5,111.1v2.2" stroke="#F0A058" stroke-opacity="0.36" stroke-width="0.85"/>
<path d="M246.8,129.0h2.2M247.9,127.9v2.2" stroke="#F0A058" stroke-opacity="0.36" stroke-width="0.85"/>
<path d="M249.4,112.2h2.2M250.5,111.1v2.2" stroke="#E2D468" stroke-opacity="0.36" stroke-width="0.85"/>
<path d="M258.1,117.8h2.2M259.2,116.7v2.2" stroke="#E2D468" stroke-opacity="0.36" stroke-width="0.85"/>
<path d="M260.7,129.0h2.2M261.8,127.9v2.2" stroke="#F0A058" stroke-opacity="0.36" stroke-width="0.85"/>
<path d="M266.8,129.0h2.2M267.9,127.9v2.2" stroke="#F0A058" stroke-opacity="0.36" stroke-width="0.85"/>
<path d="M261.5,117.8h2.2M262.6,116.7v2.2" stroke="#E2D468" stroke-opacity="0.36" stroke-width="0.85"/>
<path d="M262.3,112.2h2.2M263.4,111.1v2.2" stroke="#E2D468" stroke-opacity="0.36" stroke-width="0.85"/>
<path d="M275.8,129.0h2.2M276.9,127.9v2.2" stroke="#F0A058" stroke-opacity="0.36" stroke-width="0.85"/>
<path d="M267.7,123.4h2.2M268.8,122.3v2.2" stroke="#F0A058" stroke-opacity="0.36" stroke-width="0.85"/>
<path d="M291.9,117.8h2.2M293.0,116.7v2.2" stroke="#F0A058" stroke-opacity="0.36" stroke-width="0.85"/>
<path d="M290.5,123.4h2.2M291.6,122.3v2.2" stroke="#F0A058" stroke-opacity="0.36" stroke-width="0.85"/>
<path d="M283.2,117.8h2.2M284.3,116.7v2.2" stroke="#E2D468" stroke-opacity="0.36" stroke-width="0.85"/>
<path d="M291.3,117.8h2.2M292.4,116.7v2.2" stroke="#F0A058" stroke-opacity="0.36" stroke-width="0.85"/>
<path d="M285.7,117.8h2.2M286.8,116.7v2.2" stroke="#E2D468" stroke-opacity="0.36" stroke-width="0.85"/>
<path d="M298.7,117.8h2.2M299.8,116.7v2.2" stroke="#E2D468" stroke-opacity="0.36" stroke-width="0.85"/>
<path d="M305.1,129.0h2.2M306.2,127.9v2.2" stroke="#F0A058" stroke-opacity="0.36" stroke-width="0.85"/>
<path d="M299.5,117.8h2.2M300.6,116.7v2.2" stroke="#F0A058" stroke-opacity="0.36" stroke-width="0.85"/>
<path d="M310.5,129.0h2.2M311.6,127.9v2.2" stroke="#E2D468" stroke-opacity="0.36" stroke-width="0.85"/>
<path d="M294.9,112.2h2.2M296.0,111.1v2.2" stroke="#E2D468" stroke-opacity="0.36" stroke-width="0.85"/>
<path d="M311.8,117.8h2.2M312.9,116.7v2.2" stroke="#F0A058" stroke-opacity="0.36" stroke-width="0.85"/>
<path d="M311.7,112.2h2.2M312.8,111.1v2.2" stroke="#E2D468" stroke-opacity="0.36" stroke-width="0.85"/>
<path d="M321.9,112.2h2.2M323.0,111.1v2.2" stroke="#E2D468" stroke-opacity="0.36" stroke-width="0.85"/>
<path d="M321.4,129.0h2.2M322.5,127.9v2.2" stroke="#F0A058" stroke-opacity="0.36" stroke-width="0.85"/>
<path d="M205.0,134.6h2.2M206.1,133.5v2.2" stroke="#E2D468" stroke-opacity="0.36" stroke-width="0.85"/>
<path d="M213.5,145.8h2.2M214.6,144.7v2.2" stroke="#E2D468" stroke-opacity="0.36" stroke-width="0.85"/>
<path d="M234.4,151.4h2.2M235.5,150.3v2.2" stroke="#E2D468" stroke-opacity="0.36" stroke-width="0.85"/>
<path d="M255.0,140.2h2.2M256.1,139.1v2.2" stroke="#E2D468" stroke-opacity="0.36" stroke-width="0.85"/>
<path d="M263.1,140.2h2.2M264.2,139.1v2.2" stroke="#E2D468" stroke-opacity="0.36" stroke-width="0.85"/>
<path d="M281.8,140.2h2.2M282.9,139.1v2.2" stroke="#F0A058" stroke-opacity="0.36" stroke-width="0.85"/>
<path d="M294.8,151.4h2.2M295.9,150.3v2.2" stroke="#E2D468" stroke-opacity="0.36" stroke-width="0.85"/>
<path d="M304.9,151.4h2.2M306.0,150.3v2.2" stroke="#E2D468" stroke-opacity="0.36" stroke-width="0.85"/>
<path d="M319.7,151.4h2.2M320.8,150.3v2.2" stroke="#E2D468" stroke-opacity="0.36" stroke-width="0.85"/>
<line x1="219.5" y1="106.0" x2="327.8" y2="93.3" stroke="#D6C83C" stroke-width="1.5"/>
<line x1="199.9" y1="84.0" x2="328.2" y2="59.8" stroke="#E8883A" stroke-width="1.5"/>
<line x1="192.1" y1="16.8" x2="199.5" y2="16.8" stroke="#D6C83C" stroke-width="1.2"/>
<line x1="192.1" y1="21.9" x2="199.5" y2="21.9" stroke="#E8883A" stroke-width="1.2"/>
<text x="202.7" y="18.2" font-family="Liberation Sans" font-size="3.9" font-style="italic" fill="#333">ABIDE</text>
<text x="202.7" y="23.3" font-family="Liberation Sans" font-size="3.9" fill="#333">CABIC</text>
<text x="197.3" y="34.9" font-family="Liberation Sans" font-size="7" font-weight="bold" fill="#111"><tspan font-style="italic">ADOS/-2</tspan> Social Affect</text>
<text x="260.5" y="174.2" font-family="Liberation Sans" font-size="5.85" font-weight="bold" fill="#111" text-anchor="middle">Transverse temporal</text>
<line x1="361.6" y1="10.7" x2="361.6" y2="157.8" stroke="#c4c4c4" stroke-width="1"/>
<line x1="361.1" y1="157.8" x2="510" y2="157.8" stroke="#c4c4c4" stroke-width="1"/>
<line x1="360.3" y1="151.40" x2="361.40000000000003" y2="151.40" stroke="#333" stroke-width="0.6"/>
<text x="359.8" y="152.80" font-family="Liberation Sans" font-size="4" fill="#222" text-anchor="end">0</text>
<line x1="360.3" y1="117.83" x2="361.40000000000003" y2="117.83" stroke="#333" stroke-width="0.6"/>
<text x="359.8" y="119.23" font-family="Liberation Sans" font-size="4" fill="#222" text-anchor="end">2</text>
<line x1="360.3" y1="84.25" x2="361.40000000000003" y2="84.25" stroke="#333" stroke-width="0.6"/>
<text x="359.8" y="85.65" font-family="Liberation Sans" font-size="4" fill="#222" text-anchor="end">4</text>
<line x1="360.3" y1="50.67" x2="361.40000000000003" y2="50.67" stroke="#333" stroke-width="0.6"/>
<text x="359.8" y="52.07" font-family="Liberation Sans" font-size="4" fill="#222" text-anchor="end">6</text>
<line x1="360.3" y1="17.10" x2="361.40000000000003" y2="17.10" stroke="#333" stroke-width="0.6"/>
<text x="359.8" y="18.50" font-family="Liberation Sans" font-size="4" fill="#222" text-anchor="end">8</text>
<line x1="367.85" y1="158.0" x2="367.85" y2="159.10000000000002" stroke="#333" stroke-width="0.6"/>
<text x="367.85" y="162.9" font-family="Liberation Sans" font-size="4" fill="#222" text-anchor="middle">0.00</text>
<line x1="401.70" y1="158.0" x2="401.70" y2="159.10000000000002" stroke="#333" stroke-width="0.6"/>
<text x="401.70" y="162.9" font-family="Liberation Sans" font-size="4" fill="#222" text-anchor="middle">0.25</text>
<line x1="435.55" y1="158.0" x2="435.55" y2="159.10000000000002" stroke="#333" stroke-width="0.6"/>
<text x="435.55" y="162.9" font-family="Liberation Sans" font-size="4" fill="#222" text-anchor="middle">0.50</text>
<line x1="469.40" y1="158.0" x2="469.40" y2="159.10000000000002" stroke="#333" stroke-width="0.6"/>
<text x="469.40" y="162.9" font-family="Liberation Sans" font-size="4" fill="#222" text-anchor="middle">0.75</text>
<line x1="503.25" y1="158.0" x2="503.25" y2="159.10000000000002" stroke="#333" stroke-width="0.6"/>
<text x="503.25" y="162.9" font-family="Liberation Sans" font-size="4" fill="#222" text-anchor="middle">1.00</text>
<path d="M456.1,17.1h2.2M457.2,16.0v2.2" stroke="#F0A058" stroke-opacity="0.36" stroke-width="0.85"/>
<path d="M485.9,17.1h2.2M487.0,16.0v2.2" stroke="#E2D468" stroke-opacity="0.36" stroke-width="0.85"/>
<path d="M477.8,33.9h2.2M478.9,32.8v2.2" stroke="#F0A058" stroke-opacity="0.36" stroke-width="0.85"/>
<path d="M495.4,33.9h2.2M496.5,32.8v2.2" stroke="#F0A058" stroke-opacity="0.36" stroke-width="0.85"/>
<path d="M374.9,50.7h2.2M376.0,49.6v2.2" stroke="#E2D468" stroke-opacity="0.36" stroke-width="0.85"/>
<path d="M392.5,50.7h2.2M393.6,49.6v2.2" stroke="#F0A058" stroke-opacity="0.36" stroke-width="0.85"/>
<path d="M431.7,50.7h2.2M432.8,49.6v2.2" stroke="#E2D468" stroke-opacity="0.36" stroke-width="0.85"/>
<path d="M445.3,50.7h2.2M446.4,49.6v2.2" stroke="#E2D468" stroke-opacity="0.36" stroke-width="0.85"/>
<path d="M453.4,50.7h2.2M454.5,49.6v2.2" stroke="#F0A058" stroke-opacity="0.36" stroke-width="0.85"/>
<path d="M457.5,50.7h2.2M458.6,49.6v2.2" stroke="#E2D468" stroke-opacity="0.36" stroke-width="0.85"/>
<path d="M487.3,50.7h2.2M488.4,49.6v2.2" stroke="#F0A058" stroke-opacity="0.36" stroke-width="0.85"/>
<path d="M445.3,67.5h2.2M446.4,66.4v2.2" stroke="#F0A058" stroke-opacity="0.36" stroke-width="0.85"/>
<path d="M461.5,67.5h2.2M462.6,66.4v2.2" stroke="#F0A058" stroke-opacity="0.36" stroke-width="0.85"/>
<path d="M469.7,67.5h2.2M470.8,66.4v2.2" stroke="#E2D468" stroke-opacity="0.36" stroke-width="0.85"/>
<path d="M479.1,67.5h2.2M480.2,66.4v2.2" stroke="#E2D468" stroke-opacity="0.36" stroke-width="0.85"/>
<path d="M485.9,67.5h2.2M487.0,66.4v2.2" stroke="#F0A058" stroke-opacity="0.36" stroke-width="0.85"/>
<path d="M491.3,67.5h2.2M492.4,66.4v2.2" stroke="#F0A058" stroke-opacity="0.36" stroke-width="0.85"/>
<path d="M496.7,67.5h2.2M497.8,66.4v2.2" stroke="#E2D468" stroke-opacity="0.36" stroke-width="0.85"/>
<path d="M440.0,84.2h2.2M441.1,83.2v2.2" stroke="#F0A058" stroke-opacity="0.36" stroke-width="0.85"/>
<path d="M463.4,84.2h2.2M464.5,83.2v2.2" stroke="#E2D468" stroke-opacity="0.36" stroke-width="0.85"/>
<path d="M471.2,84.2h2.2M472.3,83.2v2.2" stroke="#E2D468" stroke-opacity="0.36" stroke-width="0.85"/>
<path d="M484.4,84.2h2.2M485.5,83.2v2.2" stroke="#E2D468" stroke-opacity="0.36" stroke-width="0.85"/>
<path d="M484.7,84.2h2.2M485.8,83.2v2.2" stroke="#F0A058" stroke-opacity="0.36" stroke-width="0.85"/>
<path d="M485.5,84.2h2.2M486.6,83.2v2.2" stroke="#E2D468" stroke-opacity="0.36" stroke-width="0.85"/>
<path d="M470.3,84.2h2.2M471.4,83.2v2.2" stroke="#E2D468" stroke-opacity="0.36" stroke-width="0.85"/>
<path d="M478.9,84.2h2.2M480.0,83.2v2.2" stroke="#E2D468" stroke-opacity="0.36" stroke-width="0.85"/>
<path d="M419.4,84.2h2.2M420.5,83.2v2.2" stroke="#F0A058" stroke-opacity="0.36" stroke-width="0.85"/>
<path d="M420.7,84.2h2.2M421.8,83.2v2.2" stroke="#E2D468" stroke-opacity="0.36" stroke-width="0.85"/>
<path d="M475.1,84.2h2.2M476.2,83.2v2.2" stroke="#F0A058" stroke-opacity="0.36" stroke-width="0.85"/>
<path d="M449.4,84.2h2.2M450.5,83.2v2.2" stroke="#E2D468" stroke-opacity="0.36" stroke-width="0.85"/>
<path d="M490.9,84.2h2.2M492.0,83.2v2.2" stroke="#F0A058" stroke-opacity="0.36" stroke-width="0.85"/>
<path d="M498.7,84.2h2.2M499.8,83.2v2.2" stroke="#F0A058" stroke-opacity="0.36" stroke-width="0.85"/>
<path d="M434.4,84.2h2.2M435.5,83.2v2.2" stroke="#F0A058" stroke-opacity="0.36" stroke-width="0.85"/>
<path d="M499.1,84.2h2.2M500.2,83.2v2.2" stroke="#E2D468" stroke-opacity="0.36" stroke-width="0.85"/>
<path d="M488.6,84.2h2.2M489.7,83.2v2.2" stroke="#E2D468" stroke-opacity="0.36" stroke-width="0.85"/>
<path d="M486.9,84.2h2.2M488.0,83.2v2.2" stroke="#E2D468" stroke-opacity="0.36" stroke-width="0.85"/>
<path d="M445.5,84.2h2.2M446.6,83.2v2.2" stroke="#E2D468" stroke-opacity="0.36" stroke-width="0.85"/>
<path d="M446.2,84.2h2.2M447.3,83.2v2.2" stroke="#F0A058" stroke-opacity="0.36" stroke-width="0.85"/>
<path d="M488.6,84.2h2.2M489.7,83.2v2.2" stroke="#F0A058" stroke-opacity="0.36" stroke-width="0.85"/>
<path d="M483.1,84.2h2.2M484.2,83.2v2.2" stroke="#F0A058" stroke-opacity="0.36" stroke-width="0.85"/>
<path d="M432.6,84.2h2.2M433.7,83.2v2.2" stroke="#E2D468" stroke-opacity="0.36" stroke-width="0.85"/>
<path d="M500.6,84.2h2.2M501.7,83.2v2.2" stroke="#F0A058" stroke-opacity="0.36" stroke-width="0.85"/>
<path d="M456.2,84.2h2.2M457.3,83.2v2.2" stroke="#E2D468" stroke-opacity="0.36" stroke-width="0.85"/>
<path d="M486.4,84.2h2.2M487.5,83.2v2.2" stroke="#E2D468" stroke-opacity="0.36" stroke-width="0.85"/>
<path d="M461.7,84.2h2.2M462.8,83.2v2.2" stroke="#E2D468" stroke-opacity="0.36" stroke-width="0.85"/>
<path d="M445.1,84.2h2.2M446.2,83.2v2.2" stroke="#F0A058" stroke-opacity="0.36" stroke-width="0.85"/>
<path d="M494.9,101.0h2.2M496.0,99.9v2.2" stroke="#E2D468" stroke-opacity="0.36" stroke-width="0.85"/>
<path d="M427.4,101.0h2.2M428.5,99.9v2.2" stroke="#F0A058" stroke-opacity="0.36" stroke-width="0.85"/>
<path d="M492.1,101.0h2.2M493.2,99.9v2.2" stroke="#E2D468" stroke-opacity="0.36" stroke-width="0.85"/>
<path d="M499.9,101.0h2.2M501.0,99.9v2.2" stroke="#E2D468" stroke-opacity="0.36" stroke-width="0.85"/>
<path d="M481.3,101.0h2.2M482.4,99.9v2.2" stroke="#F0A058" stroke-opacity="0.36" stroke-width="0.85"/>
<path d="M456.5,101.0h2.2M457.6,99.9v2.2" stroke="#E2D468" stroke-opacity="0.36" stroke-width="0.85"/>
<path d="M439.1,101.0h2.2M440.2,99.9v2.2" stroke="#F0A058" stroke-opacity="0.36" stroke-width="0.85"/>
<path d="M500.5,101.0h2.2M501.6,99.9v2.2" stroke="#F0A058" stroke-opacity="0.36" stroke-width="0.85"/>
<path d="M391.0,101.0h2.2M392.1,99.9v2.2" stroke="#E2D468" stroke-opacity="0.36" stroke-width="0.85"/>
<path d="M474.6,101.0h2.2M475.7,99.9v2.2" stroke="#E2D468" stroke-opacity="0.36" stroke-width="0.85"/>
<path d="M378.4,101.0h2.2M379.5,99.9v2.2" stroke="#F0A058" stroke-opacity="0.36" stroke-width="0.85"/>
<path d="M457.1,101.0h2.2M458.2,99.9v2.2" stroke="#E2D468" stroke-opacity="0.36" stroke-width="0.85"/>
<path d="M392.0,101.0h2.2M393.1,99.9v2.2" stroke="#F0A058" stroke-opacity="0.36" stroke-width="0.85"/>
<path d="M455.0,101.0h2.2M456.1,99.9v2.2" stroke="#E2D468" stroke-opacity="0.36" stroke-width="0.85"/>
<path d="M486.7,101.0h2.2M487.8,99.9v2.2" stroke="#E2D468" stroke-opacity="0.36" stroke-width="0.85"/>
<path d="M453.4,101.0h2.2M454.5,99.9v2.2" stroke="#E2D468" stroke-opacity="0.36" stroke-width="0.85"/>
<path d="M417.0,101.0h2.2M418.1,99.9v2.2" stroke="#E2D468" stroke-opacity="0.36" stroke-width="0.85"/>
<path d="M484.1,101.0h2.2M485.2,99.9v2.2" stroke="#E2D468" stroke-opacity="0.36" stroke-width="0.85"/>
<path d="M461.1,101.0h2.2M462.2,99.9v2.2" stroke="#E2D468" stroke-opacity="0.36" stroke-width="0.85"/>
<path d="M481.6,101.0h2.2M482.7,99.9v2.2" stroke="#E2D468" stroke-opacity="0.36" stroke-width="0.85"/>
<path d="M495.1,101.0h2.2M496.2,99.9v2.2" stroke="#F0A058" stroke-opacity="0.36" stroke-width="0.85"/>
<path d="M489.9,101.0h2.2M491.0,99.9v2.2" stroke="#E2D468" stroke-opacity="0.36" stroke-width="0.85"/>
<path d="M448.6,101.0h2.2M449.7,99.9v2.2" stroke="#E2D468" stroke-opacity="0.36" stroke-width="0.85"/>
<path d="M430.9,101.0h2.2M432.0,99.9v2.2" stroke="#E2D468" stroke-opacity="0.36" stroke-width="0.85"/>
<path d="M426.4,101.0h2.2M427.5,99.9v2.2" stroke="#E2D468" stroke-opacity="0.36" stroke-width="0.85"/>
<path d="M415.9,101.0h2.2M417.0,99.9v2.2" stroke="#E2D468" stroke-opacity="0.36" stroke-width="0.85"/>
<path d="M457.6,117.8h2.2M458.7,116.7v2.2" stroke="#F0A058" stroke-opacity="0.36" stroke-width="0.85"/>
<path d="M412.7,117.8h2.2M413.8,116.7v2.2" stroke="#F0A058" stroke-opacity="0.36" stroke-width="0.85"/>
<path d="M422.3,117.8h2.2M423.4,116.7v2.2" stroke="#F0A058" stroke-opacity="0.36" stroke-width="0.85"/>
<path d="M443.8,117.8h2.2M444.9,116.7v2.2" stroke="#E2D468" stroke-opacity="0.36" stroke-width="0.85"/>
<path d="M462.4,117.8h2.2M463.5,116.7v2.2" stroke="#F0A058" stroke-opacity="0.36" stroke-width="0.85"/>
<path d="M487.0,117.8h2.2M488.1,116.7v2.2" stroke="#E2D468" stroke-opacity="0.36" stroke-width="0.85"/>
<path d="M501.6,117.8h2.2M502.7,116.7v2.2" stroke="#F0A058" stroke-opacity="0.36" stroke-width="0.85"/>
<path d="M377.7,117.8h2.2M378.8,116.7v2.2" stroke="#F0A058" stroke-opacity="0.36" stroke-width="0.85"/>
<path d="M434.2,117.8h2.2M435.3,116.7v2.2" stroke="#E2D468" stroke-opacity="0.36" stroke-width="0.85"/>
<path d="M448.6,117.8h2.2M449.7,116.7v2.2" stroke="#F0A058" stroke-opacity="0.36" stroke-width="0.85"/>
<path d="M492.0,117.8h2.2M493.1,116.7v2.2" stroke="#F0A058" stroke-opacity="0.36" stroke-width="0.85"/>
<path d="M465.8,117.8h2.2M466.9,116.7v2.2" stroke="#F0A058" stroke-opacity="0.36" stroke-width="0.85"/>
<path d="M472.9,117.8h2.2M474.0,116.7v2.2" stroke="#F0A058" stroke-opacity="0.36" stroke-width="0.85"/>
<path d="M427.6,117.8h2.2M428.7,116.7v2.2" stroke="#E2D468" stroke-opacity="0.36" stroke-width="0.85"/>
<path d="M391.8,117.8h2.2M392.9,116.7v2.2" stroke="#F0A058" stroke-opacity="0.36" stroke-width="0.85"/>
<path d="M450.9,117.8h2.2M452.0,116.7v2.2" stroke="#F0A058" stroke-opacity="0.36" stroke-width="0.85"/>
<path d="M487.6,117.8h2.2M488.7,116.7v2.2" stroke="#E2D468" stroke-opacity="0.36" stroke-width="0.85"/>
<path d="M415.9,117.8h2.2M417.0,116.7v2.2" stroke="#F0A058" stroke-opacity="0.36" stroke-width="0.85"/>
<path d="M406.3,117.8h2.2M407.4,116.7v2.2" stroke="#F0A058" stroke-opacity="0.36" stroke-width="0.85"/>
<path d="M496.5,117.8h2.2M497.6,116.7v2.2" stroke="#F0A058" stroke-opacity="0.36" stroke-width="0.85"/>
<path d="M456.2,117.8h2.2M457.3,116.7v2.2" stroke="#E2D468" stroke-opacity="0.36" stroke-width="0.85"/>
<path d="M494.4,117.8h2.2M495.5,116.7v2.2" stroke="#E2D468" stroke-opacity="0.36" stroke-width="0.85"/>
<path d="M451.6,117.8h2.2M452.7,116.7v2.2" stroke="#F0A058" stroke-opacity="0.36" stroke-width="0.85"/>
<path d="M478.7,117.8h2.2M479.8,116.7v2.2" stroke="#F0A058" stroke-opacity="0.36" stroke-width="0.85"/>
<path d="M394.0,117.8h2.2M395.1,116.7v2.2" stroke="#F0A058" stroke-opacity="0.36" stroke-width="0.85"/>
<path d="M370.4,117.8h2.2M371.5,116.7v2.2" stroke="#F0A058" stroke-opacity="0.36" stroke-width="0.85"/>
<path d="M477.3,117.8h2.2M478.4,116.7v2.2" stroke="#E2D468" stroke-opacity="0.36" stroke-width="0.85"/>
<path d="M443.1,117.8h2.2M444.2,116.7v2.2" stroke="#F0A058" stroke-opacity="0.36" stroke-width="0.85"/>
<path d="M446.7,117.8h2.2M447.8,116.7v2.2" stroke="#F0A058" stroke-opacity="0.36" stroke-width="0.85"/>
<path d="M436.8,117.8h2.2M437.9,116.7v2.2" stroke="#F0A058" stroke-opacity="0.36" stroke-width="0.85"/>
<path d="M435.5,117.8h2.2M436.6,116.7v2.2" stroke="#F0A058" stroke-opacity="0.36" stroke-width="0.85"/>
<path d="M483.3,117.8h2.2M484.4,116.7v2.2" stroke="#F0A058" stroke-opacity="0.36" stroke-width="0.85"/>
<path d="M491.8,117.8h2.2M492.9,116.7v2.2" stroke="#F0A058" stroke-opacity="0.36" stroke-width="0.85"/>
<path d="M493.8,117.8h2.2M494.9,116.7v2.2" stroke="#F0A058" stroke-opacity="0.36" stroke-width="0.85"/>
<path d="M403.8,117.8h2.2M404.9,116.7v2.2" stroke="#F0A058" stroke-opacity="0.36" stroke-width="0.85"/>
<path d="M389.4,117.8h2.2M390.5,116.7v2.2" stroke="#F0A058" stroke-opacity="0.36" stroke-width="0.85"/>
<path d="M434.7,117.8h2.2M435.8,116.7v2.2" stroke="#F0A058" stroke-opacity="0.36" stroke-width="0.85"/>
<path d="M480.4,117.8h2.2M481.5,116.7v2.2" stroke="#F0A058" stroke-opacity="0.36" stroke-width="0.85"/>
<path d="M495.0,117.8h2.2M496.1,116.7v2.2" stroke="#F0A058" stroke-opacity="0.36" stroke-width="0.85"/>
<path d="M376.0,117.8h2.2M377.1,116.7v2.2" stroke="#F0A058" stroke-opacity="0.36" stroke-width="0.85"/>
<path d="M499.5,117.8h2.2M500.6,116.7v2.2" stroke="#E2D468" stroke-opacity="0.36" stroke-width="0.85"/>
<path d="M415.7,117.8h2.2M416.8,116.7v2.2" stroke="#F0A058" stroke-opacity="0.36" stroke-width="0.85"/>
<path d="M433.8,117.8h2.2M434.9,116.7v2.2" stroke="#E2D468" stroke-opacity="0.36" stroke-width="0.85"/>
<path d="M476.0,117.8h2.2M477.1,116.7v2.2" stroke="#F0A058" stroke-opacity="0.36" stroke-width="0.85"/>
<path d="M444.3,117.8h2.2M445.4,116.7v2.2" stroke="#E2D468" stroke-opacity="0.36" stroke-width="0.85"/>
<path d="M442.8,117.8h2.2M443.9,116.7v2.2" stroke="#F0A058" stroke-opacity="0.36" stroke-width="0.85"/>
<path d="M440.3,117.8h2.2M441.4,116.7v2.2" stroke="#E2D468" stroke-opacity="0.36" stroke-width="0.85"/>
<path d="M377.1,117.8h2.2M378.2,116.7v2.2" stroke="#F0A058" stroke-opacity="0.36" stroke-width="0.85"/>
<path d="M424.6,117.8h2.2M425.7,116.7v2.2" stroke="#F0A058" stroke-opacity="0.36" stroke-width="0.85"/>
<path d="M419.6,117.8h2.2M420.7,116.7v2.2" stroke="#F0A058" stroke-opacity="0.36" stroke-width="0.85"/>
<path d="M444.9,117.8h2.2M446.0,116.7v2.2" stroke="#E2D468" stroke-opacity="0.36" stroke-width="0.85"/>
<path d="M403.2,117.8h2.2M404.3,116.7v2.2" stroke="#F0A058" stroke-opacity="0.36" stroke-width="0.85"/>
<path d="M464.8,117.8h2.2M465.9,116.7v2.2" stroke="#F0A058" stroke-opacity="0.36" stroke-width="0.85"/>
<path d="M495.0,117.8h2.2M496.1,116.7v2.2" stroke="#F0A058" stroke-opacity="0.36" stroke-width="0.85"/>
<path d="M486.1,117.8h2.2M487.2,116.7v2.2" stroke="#F0A058" stroke-opacity="0.36" stroke-width="0.85"/>
<path d="M479.2,134.6h2.2M480.3,133.5v2.2" stroke="#E2D468" stroke-opacity="0.36" stroke-width="0.85"/>
<path d="M445.0,134.6h2.2M446.1,133.5v2.2" stroke="#F0A058" stroke-opacity="0.36" stroke-width="0.85"/>
<path d="M420.7,134.6h2.2M421.8,133.5v2.2" stroke="#F0A058" stroke-opacity="0.36" stroke-width="0.85"/>
<path d="M440.1,134.6h2.2M441.2,133.5v2.2" stroke="#F0A058" stroke-opacity="0.36" stroke-width="0.85"/>
<path d="M409.5,134.6h2.2M410.6,133.5v2.2" stroke="#F0A058" stroke-opacity="0.36" stroke-width="0.85"/>
<path d="M500.2,134.6h2.2M501.3,133.5v2.2" stroke="#F0A058" stroke-opacity="0.36" stroke-width="0.85"/>
<path d="M467.6,134.6h2.2M468.7,133.5v2.2" stroke="#E2D468" stroke-opacity="0.36" stroke-width="0.85"/>
<path d="M453.6,134.6h2.2M454.7,133.5v2.2" stroke="#F0A058" stroke-opacity="0.36" stroke-width="0.85"/>
<path d="M446.3,134.6h2.2M447.4,133.5v2.2" stroke="#F0A058" stroke-opacity="0.36" stroke-width="0.85"/>
<path d="M497.0,134.6h2.2M498.1,133.5v2.2" stroke="#F0A058" stroke-opacity="0.36" stroke-width="0.85"/>
<path d="M436.4,134.6h2.2M437.5,133.5v2.2" stroke="#F0A058" stroke-opacity="0.36" stroke-width="0.85"/>
<path d="M442.3,134.6h2.2M443.4,133.5v2.2" stroke="#E2D468" stroke-opacity="0.36" stroke-width="0.85"/>
<path d="M412.4,134.6h2.2M413.5,133.5v2.2" stroke="#F0A058" stroke-opacity="0.36" stroke-width="0.85"/>
<path d="M455.1,134.6h2.2M456.2,133.5v2.2" stroke="#F0A058" stroke-opacity="0.36" stroke-width="0.85"/>
<path d="M411.6,134.6h2.2M412.7,133.5v2.2" stroke="#F0A058" stroke-opacity="0.36" stroke-width="0.85"/>
<path d="M486.3,134.6h2.2M487.4,133.5v2.2" stroke="#F0A058" stroke-opacity="0.36" stroke-width="0.85"/>
<path d="M476.8,134.6h2.2M477.9,133.5v2.2" stroke="#F0A058" stroke-opacity="0.36" stroke-width="0.85"/>
<path d="M411.5,134.6h2.2M412.6,133.5v2.2" stroke="#F0A058" stroke-opacity="0.36" stroke-width="0.85"/>
<path d="M470.7,134.6h2.2M471.8,133.5v2.2" stroke="#E2D468" stroke-opacity="0.36" stroke-width="0.85"/>
<path d="M414.1,134.6h2.2M415.2,133.5v2.2" stroke="#F0A058" stroke-opacity="0.36" stroke-width="0.85"/>
<path d="M378.7,134.6h2.2M379.8,133.5v2.2" stroke="#F0A058" stroke-opacity="0.36" stroke-width="0.85"/>
<path d="M454.9,134.6h2.2M456.0,133.5v2.2" stroke="#F0A058" stroke-opacity="0.36" stroke-width="0.85"/>
<path d="M494.5,134.6h2.2M495.6,133.5v2.2" stroke="#F0A058" stroke-opacity="0.36" stroke-width="0.85"/>
<path d="M434.9,134.6h2.2M436.0,133.5v2.2" stroke="#F0A058" stroke-opacity="0.36" stroke-width="0.85"/>
<path d="M467.6,134.6h2.2M468.7,133.5v2.2" stroke="#F0A058" stroke-opacity="0.36" stroke-width="0.85"/>
<path d="M397.4,134.6h2.2M398.5,133.5v2.2" stroke="#F0A058" stroke-opacity="0.36" stroke-width="0.85"/>
<path d="M480.0,134.6h2.2M481.1,133.5v2.2" stroke="#F0A058" stroke-opacity="0.36" stroke-width="0.85"/>
<path d="M470.2,134.6h2.2M471.3,133.5v2.2" stroke="#E2D468" stroke-opacity="0.36" stroke-width="0.85"/>
<path d="M459.6,134.6h2.2M460.7,133.5v2.2" stroke="#F0A058" stroke-opacity="0.36" stroke-width="0.85"/>
<path d="M386.2,134.6h2.2M387.3,133.5v2.2" stroke="#F0A058" stroke-opacity="0.36" stroke-width="0.85"/>
<path d="M460.8,134.6h2.2M461.9,133.5v2.2" stroke="#F0A058" stroke-opacity="0.36" stroke-width="0.85"/>
<path d="M436.0,134.6h2.2M437.1,133.5v2.2" stroke="#F0A058" stroke-opacity="0.36" stroke-width="0.85"/>
<path d="M499.3,134.6h2.2M500.4,133.5v2.2" stroke="#F0A058" stroke-opacity="0.36" stroke-width="0.85"/>
<path d="M436.0,134.6h2.2M437.1,133.5v2.2" stroke="#E2D468" stroke-opacity="0.36" stroke-width="0.85"/>
<path d="M486.4,134.6h2.2M487.5,133.5v2.2" stroke="#F0A058" stroke-opacity="0.36" stroke-width="0.85"/>
<path d="M481.5,134.6h2.2M482.6,133.5v2.2" stroke="#F0A058" stroke-opacity="0.36" stroke-width="0.85"/>
<path d="M461.0,134.6h2.2M462.1,133.5v2.2" stroke="#F0A058" stroke-opacity="0.36" stroke-width="0.85"/>
<path d="M427.8,134.6h2.2M428.9,133.5v2.2" stroke="#F0A058" stroke-opacity="0.36" stroke-width="0.85"/>
<path d="M476.8,134.6h2.2M477.9,133.5v2.2" stroke="#E2D468" stroke-opacity="0.36" stroke-width="0.85"/>
<path d="M383.4,134.6h2.2M384.5,133.5v2.2" stroke="#F0A058" stroke-opacity="0.36" stroke-width="0.85"/>
<path d="M405.1,134.6h2.2M406.2,133.5v2.2" stroke="#F0A058" stroke-opacity="0.36" stroke-width="0.85"/>
<path d="M397.1,134.6h2.2M398.2,133.5v2.2" stroke="#F0A058" stroke-opacity="0.36" stroke-width="0.85"/>
<path d="M410.4,134.6h2.2M411.5,133.5v2.2" stroke="#F0A058" stroke-opacity="0.36" stroke-width="0.85"/>
<path d="M458.7,134.6h2.2M459.8,133.5v2.2" stroke="#F0A058" stroke-opacity="0.36" stroke-width="0.85"/>
<path d="M381.7,134.6h2.2M382.8,133.5v2.2" stroke="#F0A058" stroke-opacity="0.36" stroke-width="0.85"/>
<path d="M476.3,151.4h2.2M477.4,150.3v2.2" stroke="#F0A058" stroke-opacity="0.36" stroke-width="0.85"/>
<path d="M486.3,151.4h2.2M487.4,150.3v2.2" stroke="#F0A058" stroke-opacity="0.36" stroke-width="0.85"/>
<path d="M445.8,151.4h2.2M446.9,150.3v2.2" stroke="#F0A058" stroke-opacity="0.36" stroke-width="0.85"/>
<path d="M443.5,151.4h2.2M444.6,150.3v2.2" stroke="#F0A058" stroke-opacity="0.36" stroke-width="0.85"/>
<path d="M392.6,151.4h2.2M393.7,150.3v2.2" stroke="#F0A058" stroke-opacity="0.36" stroke-width="0.85"/>
<path d="M421.3,151.4h2.2M422.4,150.3v2.2" stroke="#E2D468" stroke-opacity="0.36" stroke-width="0.85"/>
<path d="M459.9,151.4h2.2M461.0,150.3v2.2" stroke="#F0A058" stroke-opacity="0.36" stroke-width="0.85"/>
<path d="M395.6,151.4h2.2M396.7,150.3v2.2" stroke="#F0A058" stroke-opacity="0.36" stroke-width="0.85"/>
<path d="M491.0,151.4h2.2M492.1,150.3v2.2" stroke="#E2D468" stroke-opacity="0.36" stroke-width="0.85"/>
<path d="M414.8,151.4h2.2M415.9,150.3v2.2" stroke="#F0A058" stroke-opacity="0.36" stroke-width="0.85"/>
<path d="M468.9,151.4h2.2M470.0,150.3v2.2" stroke="#F0A058" stroke-opacity="0.36" stroke-width="0.85"/>
<path d="M437.6,151.4h2.2M438.7,150.3v2.2" stroke="#F0A058" stroke-opacity="0.36" stroke-width="0.85"/>
<path d="M375.0,151.4h2.2M376.1,150.3v2.2" stroke="#F0A058" stroke-opacity="0.36" stroke-width="0.85"/>
<path d="M471.6,151.4h2.2M472.7,150.3v2.2" stroke="#F0A058" stroke-opacity="0.36" stroke-width="0.85"/>
<path d="M461.8,151.4h2.2M462.9,150.3v2.2" stroke="#F0A058" stroke-opacity="0.36" stroke-width="0.85"/>
<path d="M499.3,151.4h2.2M500.4,150.3v2.2" stroke="#E2D468" stroke-opacity="0.36" stroke-width="0.85"/>
<path d="M433.4,151.4h2.2M434.5,150.3v2.2" stroke="#E2D468" stroke-opacity="0.36" stroke-width="0.85"/>
<path d="M486.5,151.4h2.2M487.6,150.3v2.2" stroke="#F0A058" stroke-opacity="0.36" stroke-width="0.85"/>
<path d="M486.9,151.4h2.2M488.0,150.3v2.2" stroke="#F0A058" stroke-opacity="0.36" stroke-width="0.85"/>
<path d="M500.8,151.4h2.2M501.9,150.3v2.2" stroke="#F0A058" stroke-opacity="0.36" stroke-width="0.85"/>
<path d="M438.1,151.4h2.2M439.2,150.3v2.2" stroke="#F0A058" stroke-opacity="0.36" stroke-width="0.85"/>
<path d="M428.4,151.4h2.2M429.5,150.3v2.2" stroke="#F0A058" stroke-opacity="0.36" stroke-width="0.85"/>
<path d="M470.1,151.4h2.2M471.2,150.3v2.2" stroke="#E2D468" stroke-opacity="0.36" stroke-width="0.85"/>
<path d="M489.6,151.4h2.2M490.7,150.3v2.2" stroke="#F0A058" stroke-opacity="0.36" stroke-width="0.85"/>
<path d="M372.7,151.4h2.2M373.8,150.3v2.2" stroke="#F0A058" stroke-opacity="0.36" stroke-width="0.85"/>
<path d="M408.7,151.4h2.2M409.8,150.3v2.2" stroke="#E2D468" stroke-opacity="0.36" stroke-width="0.85"/>
<path d="M410.8,151.4h2.2M411.9,150.3v2.2" stroke="#F0A058" stroke-opacity="0.36" stroke-width="0.85"/>
<path d="M414.5,151.4h2.2M415.6,150.3v2.2" stroke="#F0A058" stroke-opacity="0.36" stroke-width="0.85"/>
<path d="M437.7,151.4h2.2M438.8,150.3v2.2" stroke="#F0A058" stroke-opacity="0.36" stroke-width="0.85"/>
<path d="M444.6,151.4h2.2M445.7,150.3v2.2" stroke="#F0A058" stroke-opacity="0.36" stroke-width="0.85"/>
<path d="M500.3,151.4h2.2M501.4,150.3v2.2" stroke="#E2D468" stroke-opacity="0.36" stroke-width="0.85"/>
<path d="M381.0,151.4h2.2M382.1,150.3v2.2" stroke="#F0A058" stroke-opacity="0.36" stroke-width="0.85"/>
<path d="M463.7,151.4h2.2M464.8,150.3v2.2" stroke="#F0A058" stroke-opacity="0.36" stroke-width="0.85"/>
<path d="M464.0,151.4h2.2M465.1,150.3v2.2" stroke="#F0A058" stroke-opacity="0.36" stroke-width="0.85"/>
<path d="M483.2,151.4h2.2M484.3,150.3v2.2" stroke="#F0A058" stroke-opacity="0.36" stroke-width="0.85"/>
<path d="M393.9,151.4h2.2M395.0,150.3v2.2" stroke="#E2D468" stroke-opacity="0.36" stroke-width="0.85"/>
<path d="M373.5,151.4h2.2M374.6,150.3v2.2" stroke="#E2D468" stroke-opacity="0.36" stroke-width="0.85"/>
<path d="M380.8,151.4h2.2M381.9,150.3v2.2" stroke="#F0A058" stroke-opacity="0.36" stroke-width="0.85"/>
<line x1="372.3" y1="112.2" x2="503" y2="92.0" stroke="#D6C83C" stroke-width="1.5"/>
<line x1="381.2" y1="135.4" x2="503" y2="119.0" stroke="#E8883A" stroke-width="1.5"/>
<line x1="365.2" y1="16.8" x2="372.6" y2="16.8" stroke="#D6C83C" stroke-width="1.2"/>
<line x1="365.2" y1="21.9" x2="372.6" y2="21.9" stroke="#E8883A" stroke-width="1.2"/>
<text x="375.8" y="18.2" font-family="Liberation Sans" font-size="3.9" font-style="italic" fill="#333">ABIDE</text>
<text x="375.8" y="23.3" font-family="Liberation Sans" font-size="3.9" fill="#333">CABIC</text>
<text x="369.9" y="34.9" font-family="Liberation Sans" font-size="7" font-weight="bold" fill="#111"><tspan font-style="italic">ADOS/-2</tspan> RRB</text>
<text x="437.2" y="174.2" font-family="Liberation Sans" font-size="5.85" font-weight="bold" fill="#111" text-anchor="middle">Inferior temporal</text>
<line x1="538.4" y1="10.7" x2="538.4" y2="157.8" stroke="#c4c4c4" stroke-width="1"/>
<line x1="537.9" y1="157.8" x2="685" y2="157.8" stroke="#c4c4c4" stroke-width="1"/>
<line x1="537.1" y1="151.40" x2="538.1999999999999" y2="151.40" stroke="#333" stroke-width="0.6"/>
<text x="536.6" y="152.80" font-family="Liberation Sans" font-size="4" fill="#222" text-anchor="end">0</text>
<line x1="537.1" y1="117.83" x2="538.1999999999999" y2="117.83" stroke="#333" stroke-width="0.6"/>
<text x="536.6" y="119.23" font-family="Liberation Sans" font-size="4" fill="#222" text-anchor="end">11</text>
<line x1="537.1" y1="84.25" x2="538.1999999999999" y2="84.25" stroke="#333" stroke-width="0.6"/>
<text x="536.6" y="85.65" font-family="Liberation Sans" font-size="4" fill="#222" text-anchor="end">22</text>
<line x1="537.1" y1="50.67" x2="538.1999999999999" y2="50.67" stroke="#333" stroke-width="0.6"/>
<text x="536.6" y="52.07" font-family="Liberation Sans" font-size="4" fill="#222" text-anchor="end">33</text>
<line x1="537.1" y1="17.10" x2="538.1999999999999" y2="17.10" stroke="#333" stroke-width="0.6"/>
<text x="536.6" y="18.50" font-family="Liberation Sans" font-size="4" fill="#222" text-anchor="end">44</text>
<line x1="545.20" y1="158.0" x2="545.20" y2="159.10000000000002" stroke="#333" stroke-width="0.6"/>
<text x="545.20" y="162.9" font-family="Liberation Sans" font-size="4" fill="#222" text-anchor="middle">0.00</text>
<line x1="578.38" y1="158.0" x2="578.38" y2="159.10000000000002" stroke="#333" stroke-width="0.6"/>
<text x="578.38" y="162.9" font-family="Liberation Sans" font-size="4" fill="#222" text-anchor="middle">0.25</text>
<line x1="611.55" y1="158.0" x2="611.55" y2="159.10000000000002" stroke="#333" stroke-width="0.6"/>
<text x="611.55" y="162.9" font-family="Liberation Sans" font-size="4" fill="#222" text-anchor="middle">0.50</text>
<line x1="644.73" y1="158.0" x2="644.73" y2="159.10000000000002" stroke="#333" stroke-width="0.6"/>
<text x="644.73" y="162.9" font-family="Liberation Sans" font-size="4" fill="#222" text-anchor="middle">0.75</text>
<line x1="677.90" y1="158.0" x2="677.90" y2="159.10000000000002" stroke="#333" stroke-width="0.6"/>
<text x="677.90" y="162.9" font-family="Liberation Sans" font-size="4" fill="#222" text-anchor="middle">1.00</text>
<path d="M546.0,53.7h2.2M547.1,52.6v2.2" stroke="#F0A058" stroke-opacity="0.36" stroke-width="0.85"/>
<path d="M579.3,47.6h2.2M580.4,46.5v2.2" stroke="#E2D468" stroke-opacity="0.36" stroke-width="0.85"/>
<path d="M609.1,53.7h2.2M610.2,52.6v2.2" stroke="#F0A058" stroke-opacity="0.36" stroke-width="0.85"/>
<path d="M620.2,56.8h2.2M621.3,55.7v2.2" stroke="#F0A058" stroke-opacity="0.36" stroke-width="0.85"/>
<path d="M635.5,53.7h2.2M636.6,52.6v2.2" stroke="#E2D468" stroke-opacity="0.36" stroke-width="0.85"/>
<path d="M653.2,53.7h2.2M654.3,52.6v2.2" stroke="#F0A058" stroke-opacity="0.36" stroke-width="0.85"/>
<path d="M645.1,47.6h2.2M646.2,46.5v2.2" stroke="#F0A058" stroke-opacity="0.36" stroke-width="0.85"/>
<path d="M667.7,47.6h2.2M668.8,46.5v2.2" stroke="#F0A058" stroke-opacity="0.36" stroke-width="0.85"/>
<path d="M550.5,62.9h2.2M551.6,61.8v2.2" stroke="#E2D468" stroke-opacity="0.36" stroke-width="0.85"/>
<path d="M568.3,62.9h2.2M569.4,61.8v2.2" stroke="#F0A058" stroke-opacity="0.36" stroke-width="0.85"/>
<path d="M568.6,69.0h2.2M569.7,67.9v2.2" stroke="#F0A058" stroke-opacity="0.36" stroke-width="0.85"/>
<path d="M582.8,72.0h2.2M583.9,70.9v2.2" stroke="#F0A058" stroke-opacity="0.36" stroke-width="0.85"/>
<path d="M583.6,62.9h2.2M584.7,61.8v2.2" stroke="#F0A058" stroke-opacity="0.36" stroke-width="0.85"/>
<path d="M609.2,72.0h2.2M610.3,70.9v2.2" stroke="#E2D468" stroke-opacity="0.36" stroke-width="0.85"/>
<path d="M597.8,62.9h2.2M598.9,61.8v2.2" stroke="#F0A058" stroke-opacity="0.36" stroke-width="0.85"/>
<path d="M614.9,72.0h2.2M616.0,70.9v2.2" stroke="#F0A058" stroke-opacity="0.36" stroke-width="0.85"/>
<path d="M623.3,72.0h2.2M624.4,70.9v2.2" stroke="#F0A058" stroke-opacity="0.36" stroke-width="0.85"/>
<path d="M620.5,69.0h2.2M621.6,67.9v2.2" stroke="#F0A058" stroke-opacity="0.36" stroke-width="0.85"/>
<path d="M628.1,65.9h2.2M629.2,64.8v2.2" stroke="#E2D468" stroke-opacity="0.36" stroke-width="0.85"/>
<path d="M632.9,75.1h2.2M634.0,74.0v2.2" stroke="#F0A058" stroke-opacity="0.36" stroke-width="0.85"/>
<path d="M643.4,72.0h2.2M644.5,70.9v2.2" stroke="#F0A058" stroke-opacity="0.36" stroke-width="0.85"/>
<path d="M654.7,72.0h2.2M655.8,70.9v2.2" stroke="#F0A058" stroke-opacity="0.36" stroke-width="0.85"/>
<path d="M653.8,69.0h2.2M654.9,67.9v2.2" stroke="#E2D468" stroke-opacity="0.36" stroke-width="0.85"/>
<path d="M652.2,65.9h2.2M653.3,64.8v2.2" stroke="#F0A058" stroke-opacity="0.36" stroke-width="0.85"/>
<path d="M670.7,72.0h2.2M671.8,70.9v2.2" stroke="#F0A058" stroke-opacity="0.36" stroke-width="0.85"/>
<path d="M661.9,65.9h2.2M663.0,64.8v2.2" stroke="#E2D468" stroke-opacity="0.36" stroke-width="0.85"/>
<path d="M669.9,65.9h2.2M671.0,64.8v2.2" stroke="#F0A058" stroke-opacity="0.36" stroke-width="0.85"/>
<path d="M560.6,87.3h2.2M561.7,86.2v2.2" stroke="#F0A058" stroke-opacity="0.36" stroke-width="0.85"/>
<path d="M557.1,78.1h2.2M558.2,77.0v2.2" stroke="#F0A058" stroke-opacity="0.36" stroke-width="0.85"/>
<path d="M567.0,81.2h2.2M568.1,80.1v2.2" stroke="#F0A058" stroke-opacity="0.36" stroke-width="0.85"/>
<path d="M565.5,84.2h2.2M566.6,83.2v2.2" stroke="#F0A058" stroke-opacity="0.36" stroke-width="0.85"/>
<path d="M567.2,78.1h2.2M568.3,77.0v2.2" stroke="#F0A058" stroke-opacity="0.36" stroke-width="0.85"/>
<path d="M588.0,90.4h2.2M589.1,89.3v2.2" stroke="#E2D468" stroke-opacity="0.36" stroke-width="0.85"/>
<path d="M591.4,81.2h2.2M592.5,80.1v2.2" stroke="#F0A058" stroke-opacity="0.36" stroke-width="0.85"/>
<path d="M582.3,78.1h2.2M583.4,77.0v2.2" stroke="#F0A058" stroke-opacity="0.36" stroke-width="0.85"/>
<path d="M579.7,78.1h2.2M580.8,77.0v2.2" stroke="#F0A058" stroke-opacity="0.36" stroke-width="0.85"/>
<path d="M597.7,84.2h2.2M598.8,83.2v2.2" stroke="#F0A058" stroke-opacity="0.36" stroke-width="0.85"/>
<path d="M607.9,87.3h2.2M609.0,86.2v2.2" stroke="#E2D468" stroke-opacity="0.36" stroke-width="0.85"/>
<path d="M597.3,81.2h2.2M598.4,80.1v2.2" stroke="#E2D468" stroke-opacity="0.36" stroke-width="0.85"/>
<path d="M609.7,90.4h2.2M610.8,89.3v2.2" stroke="#F0A058" stroke-opacity="0.36" stroke-width="0.85"/>
<path d="M619.8,81.2h2.2M620.9,80.1v2.2" stroke="#F0A058" stroke-opacity="0.36" stroke-width="0.85"/>
<path d="M619.3,84.2h2.2M620.4,83.2v2.2" stroke="#F0A058" stroke-opacity="0.36" stroke-width="0.85"/>
<path d="M627.0,78.1h2.2M628.1,77.0v2.2" stroke="#E2D468" stroke-opacity="0.36" stroke-width="0.85"/>
<path d="M622.5,81.2h2.2M623.6,80.1v2.2" stroke="#F0A058" stroke-opacity="0.36" stroke-width="0.85"/>
<path d="M616.4,78.1h2.2M617.5,77.0v2.2" stroke="#F0A058" stroke-opacity="0.36" stroke-width="0.85"/>
<path d="M634.6,90.4h2.2M635.7,89.3v2.2" stroke="#F0A058" stroke-opacity="0.36" stroke-width="0.85"/>
<path d="M635.8,90.4h2.2M636.9,89.3v2.2" stroke="#F0A058" stroke-opacity="0.36" stroke-width="0.85"/>
<path d="M635.3,78.1h2.2M636.4,77.0v2.2" stroke="#E2D468" stroke-opacity="0.36" stroke-width="0.85"/>
<path d="M629.6,87.3h2.2M630.7,86.2v2.2" stroke="#E2D468" stroke-opacity="0.36" stroke-width="0.85"/>
<path d="M635.1,81.2h2.2M636.2,80.1v2.2" stroke="#E2D468" stroke-opacity="0.36" stroke-width="0.85"/>
<path d="M658.5,78.1h2.2M659.6,77.0v2.2" stroke="#F0A058" stroke-opacity="0.36" stroke-width="0.85"/>
<path d="M652.4,90.4h2.2M653.5,89.3v2.2" stroke="#F0A058" stroke-opacity="0.36" stroke-width="0.85"/>
<path d="M648.9,90.4h2.2M650.0,89.3v2.2" stroke="#E2D468" stroke-opacity="0.36" stroke-width="0.85"/>
<path d="M652.1,90.4h2.2M653.2,89.3v2.2" stroke="#F0A058" stroke-opacity="0.36" stroke-width="0.85"/>
<path d="M648.5,84.2h2.2M649.6,83.2v2.2" stroke="#E2D468" stroke-opacity="0.36" stroke-width="0.85"/>
<path d="M676.6,81.2h2.2M677.7,80.1v2.2" stroke="#F0A058" stroke-opacity="0.36" stroke-width="0.85"/>
<path d="M668.9,78.1h2.2M670.0,77.0v2.2" stroke="#F0A058" stroke-opacity="0.36" stroke-width="0.85"/>
<path d="M675.0,81.2h2.2M676.1,80.1v2.2" stroke="#F0A058" stroke-opacity="0.36" stroke-width="0.85"/>
<path d="M670.7,78.1h2.2M671.8,77.0v2.2" stroke="#F0A058" stroke-opacity="0.36" stroke-width="0.85"/>
<path d="M669.7,90.4h2.2M670.8,89.3v2.2" stroke="#F0A058" stroke-opacity="0.36" stroke-width="0.85"/>
<path d="M544.3,105.6h2.2M545.4,104.5v2.2" stroke="#F0A058" stroke-opacity="0.36" stroke-width="0.85"/>
<path d="M555.6,105.6h2.2M556.7,104.5v2.2" stroke="#E2D468" stroke-opacity="0.36" stroke-width="0.85"/>
<path d="M550.7,105.6h2.2M551.8,104.5v2.2" stroke="#F0A058" stroke-opacity="0.36" stroke-width="0.85"/>
<path d="M555.2,102.6h2.2M556.3,101.5v2.2" stroke="#F0A058" stroke-opacity="0.36" stroke-width="0.85"/>
<path d="M573.4,93.4h2.2M574.5,92.3v2.2" stroke="#F0A058" stroke-opacity="0.36" stroke-width="0.85"/>
<path d="M571.4,93.4h2.2M572.5,92.3v2.2" stroke="#F0A058" stroke-opacity="0.36" stroke-width="0.85"/>
<path d="M563.1,102.6h2.2M564.2,101.5v2.2" stroke="#F0A058" stroke-opacity="0.36" stroke-width="0.85"/>
<path d="M562.7,102.6h2.2M563.8,101.5v2.2" stroke="#F0A058" stroke-opacity="0.36" stroke-width="0.85"/>
<path d="M569.1,105.6h2.2M570.2,104.5v2.2" stroke="#F0A058" stroke-opacity="0.36" stroke-width="0.85"/>
<path d="M580.1,93.4h2.2M581.2,92.3v2.2" stroke="#F0A058" stroke-opacity="0.36" stroke-width="0.85"/>
<path d="M585.0,96.5h2.2M586.1,95.4v2.2" stroke="#E2D468" stroke-opacity="0.36" stroke-width="0.85"/>
<path d="M578.3,105.6h2.2M579.4,104.5v2.2" stroke="#F0A058" stroke-opacity="0.36" stroke-width="0.85"/>
<path d="M586.9,102.6h2.2M588.0,101.5v2.2" stroke="#E2D468" stroke-opacity="0.36" stroke-width="0.85"/>
<path d="M583.1,102.6h2.2M584.2,101.5v2.2" stroke="#F0A058" stroke-opacity="0.36" stroke-width="0.85"/>
<path d="M587.7,93.4h2.2M588.8,92.3v2.2" stroke="#F0A058" stroke-opacity="0.36" stroke-width="0.85"/>
<path d="M597.0,93.4h2.2M598.1,92.3v2.2" stroke="#F0A058" stroke-opacity="0.36" stroke-width="0.85"/>
<path d="M594.8,96.5h2.2M595.9,95.4v2.2" stroke="#F0A058" stroke-opacity="0.36" stroke-width="0.85"/>
<path d="M609.8,96.5h2.2M610.9,95.4v2.2" stroke="#F0A058" stroke-opacity="0.36" stroke-width="0.85"/>
<path d="M597.8,102.6h2.2M598.9,101.5v2.2" stroke="#F0A058" stroke-opacity="0.36" stroke-width="0.85"/>
<path d="M609.3,102.6h2.2M610.4,101.5v2.2" stroke="#F0A058" stroke-opacity="0.36" stroke-width="0.85"/>
<path d="M608.8,96.5h2.2M609.9,95.4v2.2" stroke="#F0A058" stroke-opacity="0.36" stroke-width="0.85"/>
<path d="M620.4,96.5h2.2M621.5,95.4v2.2" stroke="#E2D468" stroke-opacity="0.36" stroke-width="0.85"/>
<path d="M611.6,96.5h2.2M612.7,95.4v2.2" stroke="#F0A058" stroke-opacity="0.36" stroke-width="0.85"/>
<path d="M620.2,96.5h2.2M621.3,95.4v2.2" stroke="#F0A058" stroke-opacity="0.36" stroke-width="0.85"/>
<path d="M625.0,96.5h2.2M626.1,95.4v2.2" stroke="#F0A058" stroke-opacity="0.36" stroke-width="0.85"/>
<path d="M624.9,105.6h2.2M626.0,104.5v2.2" stroke="#F0A058" stroke-opacity="0.36" stroke-width="0.85"/>
<path d="M616.4,102.6h2.2M617.5,101.5v2.2" stroke="#F0A058" stroke-opacity="0.36" stroke-width="0.85"/>
<path d="M625.1,96.5h2.2M626.2,95.4v2.2" stroke="#F0A058" stroke-opacity="0.36" stroke-width="0.85"/>
<path d="M628.9,93.4h2.2M630.0,92.3v2.2" stroke="#E2D468" stroke-opacity="0.36" stroke-width="0.85"/>
<path d="M632.6,105.6h2.2M633.7,104.5v2.2" stroke="#E2D468" stroke-opacity="0.36" stroke-width="0.85"/>
<path d="M634.0,99.5h2.2M635.1,98.4v2.2" stroke="#F0A058" stroke-opacity="0.36" stroke-width="0.85"/>
<path d="M633.5,96.5h2.2M634.6,95.4v2.2" stroke="#F0A058" stroke-opacity="0.36" stroke-width="0.85"/>
<path d="M631.0,105.6h2.2M632.1,104.5v2.2" stroke="#F0A058" stroke-opacity="0.36" stroke-width="0.85"/>
<path d="M627.5,102.6h2.2M628.6,101.5v2.2" stroke="#F0A058" stroke-opacity="0.36" stroke-width="0.85"/>
<path d="M629.2,102.6h2.2M630.3,101.5v2.2" stroke="#F0A058" stroke-opacity="0.36" stroke-width="0.85"/>
<path d="M657.5,102.6h2.2M658.6,101.5v2.2" stroke="#F0A058" stroke-opacity="0.36" stroke-width="0.85"/>
<path d="M651.4,102.6h2.2M652.5,101.5v2.2" stroke="#F0A058" stroke-opacity="0.36" stroke-width="0.85"/>
<path d="M649.5,96.5h2.2M650.6,95.4v2.2" stroke="#F0A058" stroke-opacity="0.36" stroke-width="0.85"/>
<path d="M659.5,102.6h2.2M660.6,101.5v2.2" stroke="#F0A058" stroke-opacity="0.36" stroke-width="0.85"/>
<path d="M651.5,102.6h2.2M652.6,101.5v2.2" stroke="#F0A058" stroke-opacity="0.36" stroke-width="0.85"/>
<path d="M651.1,102.6h2.2M652.2,101.5v2.2" stroke="#E2D468" stroke-opacity="0.36" stroke-width="0.85"/>
<path d="M660.2,93.4h2.2M661.3,92.3v2.2" stroke="#E2D468" stroke-opacity="0.36" stroke-width="0.85"/>
<path d="M670.0,99.5h2.2M671.1,98.4v2.2" stroke="#F0A058" stroke-opacity="0.36" stroke-width="0.85"/>
<path d="M666.9,93.4h2.2M668.0,92.3v2.2" stroke="#F0A058" stroke-opacity="0.36" stroke-width="0.85"/>
<path d="M674.7,105.6h2.2M675.8,104.5v2.2" stroke="#F0A058" stroke-opacity="0.36" stroke-width="0.85"/>
<path d="M661.7,99.5h2.2M662.8,98.4v2.2" stroke="#E2D468" stroke-opacity="0.36" stroke-width="0.85"/>
<path d="M672.9,105.6h2.2M674.0,104.5v2.2" stroke="#F0A058" stroke-opacity="0.36" stroke-width="0.85"/>
<path d="M669.6,99.5h2.2M670.7,98.4v2.2" stroke="#F0A058" stroke-opacity="0.36" stroke-width="0.85"/>
<path d="M672.0,102.6h2.2M673.1,101.5v2.2" stroke="#E2D468" stroke-opacity="0.36" stroke-width="0.85"/>
<path d="M547.9,117.8h2.2M549.0,116.7v2.2" stroke="#F0A058" stroke-opacity="0.36" stroke-width="0.85"/>
<path d="M545.9,108.7h2.2M547.0,107.6v2.2" stroke="#E2D468" stroke-opacity="0.36" stroke-width="0.85"/>
<path d="M557.5,114.8h2.2M558.6,113.7v2.2" stroke="#F0A058" stroke-opacity="0.36" stroke-width="0.85"/>
<path d="M556.0,120.9h2.2M557.1,119.8v2.2" stroke="#F0A058" stroke-opacity="0.36" stroke-width="0.85"/>
<path d="M546.2,111.7h2.2M547.3,110.6v2.2" stroke="#F0A058" stroke-opacity="0.36" stroke-width="0.85"/>
<path d="M567.4,111.7h2.2M568.5,110.6v2.2" stroke="#E2D468" stroke-opacity="0.36" stroke-width="0.85"/>
<path d="M575.3,117.8h2.2M576.4,116.7v2.2" stroke="#E2D468" stroke-opacity="0.36" stroke-width="0.85"/>
<path d="M563.6,114.8h2.2M564.7,113.7v2.2" stroke="#F0A058" stroke-opacity="0.36" stroke-width="0.85"/>
<path d="M571.7,114.8h2.2M572.8,113.7v2.2" stroke="#E2D468" stroke-opacity="0.36" stroke-width="0.85"/>
<path d="M561.1,111.7h2.2M562.2,110.6v2.2" stroke="#F0A058" stroke-opacity="0.36" stroke-width="0.85"/>
<path d="M574.7,114.8h2.2M575.8,113.7v2.2" stroke="#E2D468" stroke-opacity="0.36" stroke-width="0.85"/>
<path d="M578.9,114.8h2.2M580.0,113.7v2.2" stroke="#F0A058" stroke-opacity="0.36" stroke-width="0.85"/>
<path d="M592.4,117.8h2.2M593.5,116.7v2.2" stroke="#E2D468" stroke-opacity="0.36" stroke-width="0.85"/>
<path d="M577.9,120.9h2.2M579.0,119.8v2.2" stroke="#F0A058" stroke-opacity="0.36" stroke-width="0.85"/>
<path d="M584.4,114.8h2.2M585.5,113.7v2.2" stroke="#F0A058" stroke-opacity="0.36" stroke-width="0.85"/>
<path d="M589.5,108.7h2.2M590.6,107.6v2.2" stroke="#F0A058" stroke-opacity="0.36" stroke-width="0.85"/>
<path d="M587.9,117.8h2.2M589.0,116.7v2.2" stroke="#F0A058" stroke-opacity="0.36" stroke-width="0.85"/>
<path d="M581.1,111.7h2.2M582.2,110.6v2.2" stroke="#E2D468" stroke-opacity="0.36" stroke-width="0.85"/>
<path d="M598.1,111.7h2.2M599.2,110.6v2.2" stroke="#F0A058" stroke-opacity="0.36" stroke-width="0.85"/>
<path d="M603.4,120.9h2.2M604.5,119.8v2.2" stroke="#F0A058" stroke-opacity="0.36" stroke-width="0.85"/>
<path d="M606.5,114.8h2.2M607.6,113.7v2.2" stroke="#E2D468" stroke-opacity="0.36" stroke-width="0.85"/>
<path d="M608.4,108.7h2.2M609.5,107.6v2.2" stroke="#F0A058" stroke-opacity="0.36" stroke-width="0.85"/>
<path d="M594.6,117.8h2.2M595.7,116.7v2.2" stroke="#F0A058" stroke-opacity="0.36" stroke-width="0.85"/>
<path d="M594.5,114.8h2.2M595.6,113.7v2.2" stroke="#F0A058" stroke-opacity="0.36" stroke-width="0.85"/>
<path d="M609.0,120.9h2.2M610.1,119.8v2.2" stroke="#F0A058" stroke-opacity="0.36" stroke-width="0.85"/>
<path d="M622.8,108.7h2.2M623.9,107.6v2.2" stroke="#E2D468" stroke-opacity="0.36" stroke-width="0.85"/>
<path d="M615.1,120.9h2.2M616.2,119.8v2.2" stroke="#F0A058" stroke-opacity="0.36" stroke-width="0.85"/>
<path d="M626.2,111.7h2.2M627.3,110.6v2.2" stroke="#E2D468" stroke-opacity="0.36" stroke-width="0.85"/>
<path d="M621.9,111.7h2.2M623.0,110.6v2.2" stroke="#F0A058" stroke-opacity="0.36" stroke-width="0.85"/>
<path d="M621.7,117.8h2.2M622.8,116.7v2.2" stroke="#F0A058" stroke-opacity="0.36" stroke-width="0.85"/>
<path d="M618.9,117.8h2.2M620.0,116.7v2.2" stroke="#F0A058" stroke-opacity="0.36" stroke-width="0.85"/>
<path d="M613.6,108.7h2.2M614.7,107.6v2.2" stroke="#F0A058" stroke-opacity="0.36" stroke-width="0.85"/>
<path d="M619.5,117.8h2.2M620.6,116.7v2.2" stroke="#F0A058" stroke-opacity="0.36" stroke-width="0.85"/>
<path d="M631.2,120.9h2.2M632.3,119.8v2.2" stroke="#F0A058" stroke-opacity="0.36" stroke-width="0.85"/>
<path d="M632.8,120.9h2.2M633.9,119.8v2.2" stroke="#F0A058" stroke-opacity="0.36" stroke-width="0.85"/>
<path d="M632.2,117.8h2.2M633.3,116.7v2.2" stroke="#F0A058" stroke-opacity="0.36" stroke-width="0.85"/>
<path d="M635.1,111.7h2.2M636.2,110.6v2.2" stroke="#F0A058" stroke-opacity="0.36" stroke-width="0.85"/>
<path d="M631.0,108.7h2.2M632.1,107.6v2.2" stroke="#F0A058" stroke-opacity="0.36" stroke-width="0.85"/>
<path d="M629.2,114.8h2.2M630.3,113.7v2.2" stroke="#F0A058" stroke-opacity="0.36" stroke-width="0.85"/>
<path d="M629.3,117.8h2.2M630.4,116.7v2.2" stroke="#F0A058" stroke-opacity="0.36" stroke-width="0.85"/>
<path d="M631.0,120.9h2.2M632.1,119.8v2.2" stroke="#F0A058" stroke-opacity="0.36" stroke-width="0.85"/>
<path d="M656.2,117.8h2.2M657.3,116.7v2.2" stroke="#F0A058" stroke-opacity="0.36" stroke-width="0.85"/>
<path d="M646.2,111.7h2.2M647.3,110.6v2.2" stroke="#E2D468" stroke-opacity="0.36" stroke-width="0.85"/>
<path d="M650.4,117.8h2.2M651.5,116.7v2.2" stroke="#F0A058" stroke-opacity="0.36" stroke-width="0.85"/>
<path d="M648.4,114.8h2.2M649.5,113.7v2.2" stroke="#F0A058" stroke-opacity="0.36" stroke-width="0.85"/>
<path d="M644.3,114.8h2.2M645.4,113.7v2.2" stroke="#F0A058" stroke-opacity="0.36" stroke-width="0.85"/>
<path d="M645.5,114.8h2.2M646.6,113.7v2.2" stroke="#F0A058" stroke-opacity="0.36" stroke-width="0.85"/>
<path d="M645.5,114.8h2.2M646.6,113.7v2.2" stroke="#F0A058" stroke-opacity="0.36" stroke-width="0.85"/>
<path d="M653.1,114.8h2.2M654.2,113.7v2.2" stroke="#F0A058" stroke-opacity="0.36" stroke-width="0.85"/>
<path d="M661.4,120.9h2.2M662.5,119.8v2.2" stroke="#F0A058" stroke-opacity="0.36" stroke-width="0.85"/>
<path d="M676.5,111.7h2.2M677.6,110.6v2.2" stroke="#F0A058" stroke-opacity="0.36" stroke-width="0.85"/>
<path d="M672.1,108.7h2.2M673.2,107.6v2.2" stroke="#F0A058" stroke-opacity="0.36" stroke-width="0.85"/>
<path d="M670.9,111.7h2.2M672.0,110.6v2.2" stroke="#F0A058" stroke-opacity="0.36" stroke-width="0.85"/>
<path d="M673.2,114.8h2.2M674.3,113.7v2.2" stroke="#F0A058" stroke-opacity="0.36" stroke-width="0.85"/>
<path d="M675.5,114.8h2.2M676.6,113.7v2.2" stroke="#F0A058" stroke-opacity="0.36" stroke-width="0.85"/>
<path d="M675.7,114.8h2.2M676.8,113.7v2.2" stroke="#F0A058" stroke-opacity="0.36" stroke-width="0.85"/>
<path d="M661.5,120.9h2.2M662.6,119.8v2.2" stroke="#F0A058" stroke-opacity="0.36" stroke-width="0.85"/>
<path d="M550.7,133.1h2.2M551.8,132.0v2.2" stroke="#F0A058" stroke-opacity="0.36" stroke-width="0.85"/>
<path d="M547.2,123.9h2.2M548.3,122.8v2.2" stroke="#E2D468" stroke-opacity="0.36" stroke-width="0.85"/>
<path d="M559.5,133.1h2.2M560.6,132.0v2.2" stroke="#F0A058" stroke-opacity="0.36" stroke-width="0.85"/>
<path d="M572.6,130.0h2.2M573.7,128.9v2.2" stroke="#E2D468" stroke-opacity="0.36" stroke-width="0.85"/>
<path d="M566.1,133.1h2.2M567.2,132.0v2.2" stroke="#F0A058" stroke-opacity="0.36" stroke-width="0.85"/>
<path d="M566.6,133.1h2.2M567.7,132.0v2.2" stroke="#F0A058" stroke-opacity="0.36" stroke-width="0.85"/>
<path d="M569.8,130.0h2.2M570.9,128.9v2.2" stroke="#E2D468" stroke-opacity="0.36" stroke-width="0.85"/>
<path d="M581.5,136.1h2.2M582.6,135.0v2.2" stroke="#F0A058" stroke-opacity="0.36" stroke-width="0.85"/>
<path d="M586.7,127.0h2.2M587.8,125.9v2.2" stroke="#E2D468" stroke-opacity="0.36" stroke-width="0.85"/>
<path d="M592.9,127.0h2.2M594.0,125.9v2.2" stroke="#F0A058" stroke-opacity="0.36" stroke-width="0.85"/>
<path d="M589.4,130.0h2.2M590.5,128.9v2.2" stroke="#F0A058" stroke-opacity="0.36" stroke-width="0.85"/>
<path d="M587.7,133.1h2.2M588.8,132.0v2.2" stroke="#F0A058" stroke-opacity="0.36" stroke-width="0.85"/>
<path d="M596.6,127.0h2.2M597.7,125.9v2.2" stroke="#F0A058" stroke-opacity="0.36" stroke-width="0.85"/>
<path d="M600.5,136.1h2.2M601.6,135.0v2.2" stroke="#E2D468" stroke-opacity="0.36" stroke-width="0.85"/>
<path d="M601.8,133.1h2.2M602.9,132.0v2.2" stroke="#E2D468" stroke-opacity="0.36" stroke-width="0.85"/>
<path d="M593.9,123.9h2.2M595.0,122.8v2.2" stroke="#E2D468" stroke-opacity="0.36" stroke-width="0.85"/>
<path d="M606.9,127.0h2.2M608.0,125.9v2.2" stroke="#F0A058" stroke-opacity="0.36" stroke-width="0.85"/>
<path d="M611.6,136.1h2.2M612.7,135.0v2.2" stroke="#F0A058" stroke-opacity="0.36" stroke-width="0.85"/>
<path d="M617.4,130.0h2.2M618.5,128.9v2.2" stroke="#F0A058" stroke-opacity="0.36" stroke-width="0.85"/>
<path d="M610.6,133.1h2.2M611.7,132.0v2.2" stroke="#E2D468" stroke-opacity="0.36" stroke-width="0.85"/>
<path d="M613.2,130.0h2.2M614.3,128.9v2.2" stroke="#F0A058" stroke-opacity="0.36" stroke-width="0.85"/>
<path d="M623.8,130.0h2.2M624.9,128.9v2.2" stroke="#F0A058" stroke-opacity="0.36" stroke-width="0.85"/>
<path d="M618.2,123.9h2.2M619.3,122.8v2.2" stroke="#F0A058" stroke-opacity="0.36" stroke-width="0.85"/>
<path d="M634.7,123.9h2.2M635.8,122.8v2.2" stroke="#E2D468" stroke-opacity="0.36" stroke-width="0.85"/>
<path d="M641.4,127.0h2.2M642.5,125.9v2.2" stroke="#E2D468" stroke-opacity="0.36" stroke-width="0.85"/>
<path d="M637.3,136.1h2.2M638.4,135.0v2.2" stroke="#E2D468" stroke-opacity="0.36" stroke-width="0.85"/>
<path d="M632.5,130.0h2.2M633.6,128.9v2.2" stroke="#F0A058" stroke-opacity="0.36" stroke-width="0.85"/>
<path d="M634.0,130.0h2.2M635.1,128.9v2.2" stroke="#F0A058" stroke-opacity="0.36" stroke-width="0.85"/>
<path d="M637.8,130.0h2.2M638.9,128.9v2.2" stroke="#E2D468" stroke-opacity="0.36" stroke-width="0.85"/>
<path d="M652.4,136.1h2.2M653.5,135.0v2.2" stroke="#E2D468" stroke-opacity="0.36" stroke-width="0.85"/>
<path d="M647.3,127.0h2.2M648.4,125.9v2.2" stroke="#F0A058" stroke-opacity="0.36" stroke-width="0.85"/>
<path d="M646.1,123.9h2.2M647.2,122.8v2.2" stroke="#F0A058" stroke-opacity="0.36" stroke-width="0.85"/>
<path d="M653.3,127.0h2.2M654.4,125.9v2.2" stroke="#F0A058" stroke-opacity="0.36" stroke-width="0.85"/>
<path d="M647.6,127.0h2.2M648.7,125.9v2.2" stroke="#F0A058" stroke-opacity="0.36" stroke-width="0.85"/>
<path d="M645.5,133.1h2.2M646.6,132.0v2.2" stroke="#E2D468" stroke-opacity="0.36" stroke-width="0.85"/>
<path d="M663.6,136.1h2.2M664.7,135.0v2.2" stroke="#F0A058" stroke-opacity="0.36" stroke-width="0.85"/>
<path d="M674.1,136.1h2.2M675.2,135.0v2.2" stroke="#F0A058" stroke-opacity="0.36" stroke-width="0.85"/>
<path d="M671.3,127.0h2.2M672.4,125.9v2.2" stroke="#F0A058" stroke-opacity="0.36" stroke-width="0.85"/>
<path d="M667.8,123.9h2.2M668.9,122.8v2.2" stroke="#F0A058" stroke-opacity="0.36" stroke-width="0.85"/>
<path d="M662.1,123.9h2.2M663.2,122.8v2.2" stroke="#E2D468" stroke-opacity="0.36" stroke-width="0.85"/>
<path d="M669.6,127.0h2.2M670.7,125.9v2.2" stroke="#F0A058" stroke-opacity="0.36" stroke-width="0.85"/>
<path d="M557.4,148.3h2.2M558.5,147.2v2.2" stroke="#E2D468" stroke-opacity="0.36" stroke-width="0.85"/>
<path d="M569.8,151.4h2.2M570.9,150.3v2.2" stroke="#F0A058" stroke-opacity="0.36" stroke-width="0.85"/>
<path d="M576.6,139.2h2.2M577.7,138.1v2.2" stroke="#F0A058" stroke-opacity="0.36" stroke-width="0.85"/>
<path d="M591.0,142.2h2.2M592.1,141.1v2.2" stroke="#F0A058" stroke-opacity="0.36" stroke-width="0.85"/>
<path d="M593.3,148.3h2.2M594.4,147.2v2.2" stroke="#F0A058" stroke-opacity="0.36" stroke-width="0.85"/>
<path d="M606.7,148.3h2.2M607.8,147.2v2.2" stroke="#F0A058" stroke-opacity="0.36" stroke-width="0.85"/>
<path d="M604.1,142.2h2.2M605.2,141.1v2.2" stroke="#F0A058" stroke-opacity="0.36" stroke-width="0.85"/>
<path d="M616.6,151.4h2.2M617.7,150.3v2.2" stroke="#E2D468" stroke-opacity="0.36" stroke-width="0.85"/>
<path d="M626.3,142.2h2.2M627.4,141.1v2.2" stroke="#F0A058" stroke-opacity="0.36" stroke-width="0.85"/>
<path d="M638.8,142.2h2.2M639.9,141.1v2.2" stroke="#E2D468" stroke-opacity="0.36" stroke-width="0.85"/>
<path d="M628.5,148.3h2.2M629.6,147.2v2.2" stroke="#F0A058" stroke-opacity="0.36" stroke-width="0.85"/>
<path d="M642.3,145.3h2.2M643.4,144.2v2.2" stroke="#F0A058" stroke-opacity="0.36" stroke-width="0.85"/>
<path d="M656.0,145.3h2.2M657.1,144.2v2.2" stroke="#E2D468" stroke-opacity="0.36" stroke-width="0.85"/>
<path d="M655.8,151.4h2.2M656.9,150.3v2.2" stroke="#E2D468" stroke-opacity="0.36" stroke-width="0.85"/>
<path d="M662.2,145.3h2.2M663.3,144.2v2.2" stroke="#F0A058" stroke-opacity="0.36" stroke-width="0.85"/>
<path d="M668.9,145.3h2.2M670.0,144.2v2.2" stroke="#E2D468" stroke-opacity="0.36" stroke-width="0.85"/>
<path d="M660.9,139.2h2.2M662.0,138.1v2.2" stroke="#F0A058" stroke-opacity="0.36" stroke-width="0.85"/>
<line x1="555.1" y1="116.1" x2="677.5" y2="90.5" stroke="#D6C83C" stroke-width="1.5"/>
<line x1="545.1" y1="107.3" x2="677.5" y2="104.0" stroke="#E8883A" stroke-width="1.5"/>
<line x1="542.0" y1="16.8" x2="549.4" y2="16.8" stroke="#D6C83C" stroke-width="1.2"/>
<line x1="542.0" y1="21.9" x2="549.4" y2="21.9" stroke="#E8883A" stroke-width="1.2"/>
<text x="552.6" y="18.2" font-family="Liberation Sans" font-size="3.9" font-style="italic" fill="#333">ABIDE</text>
<text x="552.6" y="23.3" font-family="Liberation Sans" font-size="3.9" fill="#333">CABIC</text>
<text x="547.2" y="34.9" font-family="Liberation Sans" font-size="7" font-weight="bold" fill="#111"><tspan font-style="italic">SRS</tspan> Mannerisms</text>
<text x="610.6" y="174.2" font-family="Liberation Sans" font-size="5.85" font-weight="bold" fill="#111" text-anchor="middle">Isthmus cingulate</text>
<text x="-0.4" y="5.8" font-family="Liberation Sans" font-size="10.2" font-weight="bold" fill="#000" textLength="6.5" lengthAdjust="spacingAndGlyphs">a</text>
<text x="0.55" y="202" font-family="Liberation Sans" font-size="9.8" font-weight="bold" fill="#000" textLength="7.4" lengthAdjust="spacingAndGlyphs">b</text>
<text x="463.3" y="202.3" font-family="Liberation Sans" font-size="9.5" font-weight="bold" fill="#000" textLength="6.6" lengthAdjust="spacingAndGlyphs">c</text>
<g transform="translate(10,245)"><path d="M0.4,20.2 C0.2,17 0.8,14.5 1.6,13 C2.5,11 3.5,10 4.6,9 C7,6 10,4 13,2.8 C16.5,1.2 20,0.2 23.8,0 C27.5,-0.1 31,0.3 34.7,1.2 C37.8,2.5 40,4.5 41.9,7 C44,9.5 45.6,12.5 46.7,15.4 C47.5,17.2 48,18.6 47.9,19.6 C47.8,21.5 47,23 46,23.8 C44.5,25 42.6,25.8 40.7,26.5 C37.5,27.8 34.3,28.9 31,29.9 C27,31.2 23,32.5 19,33.2 C17.8,32.5 17,31.8 16.6,31 C15.8,29.8 15.2,28.5 14.8,27.2 C12,27 8.5,27 5.8,26.5 C4,26 2.6,25.3 1.6,24.4 C0.8,23.2 0.5,21.8 0.4,20.2 Z" fill="#f1f1f1" stroke="#3a3a3a" stroke-width="0.5"/><path d="M21.7,1.2 C18,5 16,8 15.3,8.9 C13.8,11 13,13 12.8,14.3" fill="none" stroke="#444" stroke-width="0.42"/><path d="M26.2,1.6 C23,5.5 21.5,7.5 20.7,8.9 C19.8,11 19.3,13 19.3,15.3" fill="none" stroke="#444" stroke-width="0.42"/><path d="M30.1,0.6 L29.6,5.9 C31.5,6.5 34,7 36.1,7.4" fill="none" stroke="#444" stroke-width="0.42"/><path d="M29.6,5.9 C28.5,6.5 27.9,7.2 27.7,7.4 C26.5,7.8 25.9,8.4 25.7,8.9 C25.2,10.5 25,12 25.2,13.8 C25.5,15 26,16 26.7,16.8" fill="none" stroke="#444" stroke-width="0.42"/><path d="M36.1,7.4 C36.5,10 36.5,12.5 36.1,14.8 C33,15.3 30,15.8 26.7,16.8" fill="none" stroke="#444" stroke-width="0.42"/><path d="M36.1,7.4 C38,8.5 40,9.8 41.5,10.9 C42.8,12.5 43.8,14 44.5,15.8" fill="none" stroke="#444" stroke-width="0.42"/><path d="M0.6,21.7 C1.5,21.7 2.5,21.7 3.4,21.7 C6,21 9,20.6 11.8,20.2 C14,19.5 16,18.6 17.8,17.8 C20.5,17 23,16.6 25.7,16.3" fill="none" stroke="#444" stroke-width="0.42"/><path d="M36.1,14.8 C38,15.5 41,15.8 44.5,15.8 C45.5,16.5 46.5,17.5 47.5,18.5" fill="none" stroke="#444" stroke-width="0.42"/><path d="M15.3,27.7 C18,26 21,24.5 23.7,23.2 C25.8,22.3 27.8,21.5 29.6,20.7 C31.5,19.5 33.8,17.8 35.6,16.3" fill="none" stroke="#444" stroke-width="0.42"/><path d="M17.8,30.6 C21,29.2 24.5,27.8 27.7,26.7 C31,25 34.5,23.2 37.5,21.7 C40,20.8 42.5,19.9 44.5,19.3" fill="none" stroke="#444" stroke-width="0.42"/><path d="M1.6,14.5 C2.5,15.5 3.2,16.5 3.9,17.3 C5,16.2 6.5,15 7.9,14.3 C9.3,13.6 10.5,13 11.8,12.8 L12.8,14.3" fill="none" stroke="#444" stroke-width="0.42"/><path d="M5.8,26.5 C6.2,24.5 6.5,23 6.9,21.7 C7.2,20.5 7.5,19.5 7.9,18.8 C9.2,18.8 10.5,18.8 11.8,18.8 C12.2,17.5 12.5,15.8 12.8,14.3" fill="none" stroke="#444" stroke-width="0.42"/><path d="M9.9,5.4 C10.2,7.5 10.5,10 10.9,12.3" fill="none" stroke="#444" stroke-width="0.42"/><path d="M4.6,9 C6.5,8 8.2,6.5 9.9,5.4" fill="none" stroke="#444" stroke-width="0.42"/><path d="M44.5,19.3 C45.5,21 46,22.5 46,23.8" fill="none" stroke="#444" stroke-width="0.42"/><path d="M37.5,21.7 C39,23.5 40,25 40.7,26.5" fill="none" stroke="#444" stroke-width="0.42"/><ellipse cx="23.9" cy="20.2" rx="1.1" ry="2.7" transform="rotate(40 23.9 20.2)" fill="#c8524d" stroke="#555" stroke-width="0.3"/></g>
<g transform="translate(225,245)"><path d="M0.4,20.2 C0.2,17 0.8,14.5 1.6,13 C2.5,11 3.5,10 4.6,9 C7,6 10,4 13,2.8 C16.5,1.2 20,0.2 23.8,0 C27.5,-0.1 31,0.3 34.7,1.2 C37.8,2.5 40,4.5 41.9,7 C44,9.5 45.6,12.5 46.7,15.4 C47.5,17.2 48,18.6 47.9,19.6 C47.8,21.5 47,23 46,23.8 C44.5,25 42.6,25.8 40.7,26.5 C37.5,27.8 34.3,28.9 31,29.9 C27,31.2 23,32.5 19,33.2 C17.8,32.5 17,31.8 16.6,31 C15.8,29.8 15.2,28.5 14.8,27.2 C12,27 8.5,27 5.8,26.5 C4,26 2.6,25.3 1.6,24.4 C0.8,23.2 0.5,21.8 0.4,20.2 Z" fill="#f1f1f1" stroke="#3a3a3a" stroke-width="0.5"/><path d="M21.7,1.2 C18,5 16,8 15.3,8.9 C13.8,11 13,13 12.8,14.3" fill="none" stroke="#444" stroke-width="0.42"/><path d="M26.2,1.6 C23,5.5 21.5,7.5 20.7,8.9 C19.8,11 19.3,13 19.3,15.3" fill="none" stroke="#444" stroke-width="0.42"/><path d="M30.1,0.6 L29.6,5.9 C31.5,6.5 34,7 36.1,7.4" fill="none" stroke="#444" stroke-width="0.42"/><path d="M29.6,5.9 C28.5,6.5 27.9,7.2 27.7,7.4 C26.5,7.8 25.9,8.4 25.7,8.9 C25.2,10.5 25,12 25.2,13.8 C25.5,15 26,16 26.7,16.8" fill="none" stroke="#444" stroke-width="0.42"/><path d="M36.1,7.4 C36.5,10 36.5,12.5 36.1,14.8 C33,15.3 30,15.8 26.7,16.8" fill="none" stroke="#444" stroke-width="0.42"/><path d="M36.1,7.4 C38,8.5 40,9.8 41.5,10.9 C42.8,12.5 43.8,14 44.5,15.8" fill="none" stroke="#444" stroke-width="0.42"/><path d="M0.6,21.7 C1.5,21.7 2.5,21.7 3.4,21.7 C6,21 9,20.6 11.8,20.2 C14,19.5 16,18.6 17.8,17.8 C20.5,17 23,16.6 25.7,16.3" fill="none" stroke="#444" stroke-width="0.42"/><path d="M36.1,14.8 C38,15.5 41,15.8 44.5,15.8 C45.5,16.5 46.5,17.5 47.5,18.5" fill="none" stroke="#444" stroke-width="0.42"/><path d="M15.3,27.7 C18,26 21,24.5 23.7,23.2 C25.8,22.3 27.8,21.5 29.6,20.7 C31.5,19.5 33.8,17.8 35.6,16.3" fill="none" stroke="#444" stroke-width="0.42"/><path d="M17.8,30.6 C21,29.2 24.5,27.8 27.7,26.7 C31,25 34.5,23.2 37.5,21.7 C40,20.8 42.5,19.9 44.5,19.3" fill="none" stroke="#444" stroke-width="0.42"/><path d="M1.6,14.5 C2.5,15.5 3.2,16.5 3.9,17.3 C5,16.2 6.5,15 7.9,14.3 C9.3,13.6 10.5,13 11.8,12.8 L12.8,14.3" fill="none" stroke="#444" stroke-width="0.42"/><path d="M5.8,26.5 C6.2,24.5 6.5,23 6.9,21.7 C7.2,20.5 7.5,19.5 7.9,18.8 C9.2,18.8 10.5,18.8 11.8,18.8 C12.2,17.5 12.5,15.8 12.8,14.3" fill="none" stroke="#444" stroke-width="0.42"/><path d="M9.9,5.4 C10.2,7.5 10.5,10 10.9,12.3" fill="none" stroke="#444" stroke-width="0.42"/><path d="M4.6,9 C6.5,8 8.2,6.5 9.9,5.4" fill="none" stroke="#444" stroke-width="0.42"/><path d="M44.5,19.3 C45.5,21 46,22.5 46,23.8" fill="none" stroke="#444" stroke-width="0.42"/><path d="M37.5,21.7 C39,23.5 40,25 40.7,26.5" fill="none" stroke="#444" stroke-width="0.42"/><ellipse cx="23.9" cy="20.2" rx="1.1" ry="2.7" transform="rotate(40 23.9 20.2)" fill="#c8524d" stroke="#555" stroke-width="0.3"/></g>
<g transform="translate(10,341)"><path d="M0.4,20.2 C0.2,17 0.8,14.5 1.6,13 C2.5,11 3.5,10 4.6,9 C7,6 10,4 13,2.8 C16.5,1.2 20,0.2 23.8,0 C27.5,-0.1 31,0.3 34.7,1.2 C37.8,2.5 40,4.5 41.9,7 C44,9.5 45.6,12.5 46.7,15.4 C47.5,17.2 48,18.6 47.9,19.6 C47.8,21.5 47,23 46,23.8 C44.5,25 42.6,25.8 40.7,26.5 C37.5,27.8 34.3,28.9 31,29.9 C27,31.2 23,32.5 19,33.2 C17.8,32.5 17,31.8 16.6,31 C15.8,29.8 15.2,28.5 14.8,27.2 C12,27 8.5,27 5.8,26.5 C4,26 2.6,25.3 1.6,24.4 C0.8,23.2 0.5,21.8 0.4,20.2 Z" fill="#f1f1f1" stroke="#3a3a3a" stroke-width="0.5"/><path d="M21.7,1.2 C18,5 16,8 15.3,8.9 C13.8,11 13,13 12.8,14.3" fill="none" stroke="#444" stroke-width="0.42"/><path d="M26.2,1.6 C23,5.5 21.5,7.5 20.7,8.9 C19.8,11 19.3,13 19.3,15.3" fill="none" stroke="#444" stroke-width="0.42"/><path d="M30.1,0.6 L29.6,5.9 C31.5,6.5 34,7 36.1,7.4" fill="none" stroke="#444" stroke-width="0.42"/><path d="M29.6,5.9 C28.5,6.5 27.9,7.2 27.7,7.4 C26.5,7.8 25.9,8.4 25.7,8.9 C25.2,10.5 25,12 25.2,13.8 C25.5,15 26,16 26.7,16.8" fill="none" stroke="#444" stroke-width="0.42"/><path d="M36.1,7.4 C36.5,10 36.5,12.5 36.1,14.8 C33,15.3 30,15.8 26.7,16.8" fill="none" stroke="#444" stroke-width="0.42"/><path d="M36.1,7.4 C38,8.5 40,9.8 41.5,10.9 C42.8,12.5 43.8,14 44.5,15.8" fill="none" stroke="#444" stroke-width="0.42"/><path d="M0.6,21.7 C1.5,21.7 2.5,21.7 3.4,21.7 C6,21 9,20.6 11.8,20.2 C14,19.5 16,18.6 17.8,17.8 C20.5,17 23,16.6 25.7,16.3" fill="none" stroke="#444" stroke-width="0.42"/><path d="M36.1,14.8 C38,15.5 41,15.8 44.5,15.8 C45.5,16.5 46.5,17.5 47.5,18.5" fill="none" stroke="#444" stroke-width="0.42"/><path d="M15.3,27.7 C18,26 21,24.5 23.7,23.2 C25.8,22.3 27.8,21.5 29.6,20.7 C31.5,19.5 33.8,17.8 35.6,16.3" fill="none" stroke="#444" stroke-width="0.42"/><path d="M17.8,30.6 C21,29.2 24.5,27.8 27.7,26.7 C31,25 34.5,23.2 37.5,21.7 C40,20.8 42.5,19.9 44.5,19.3" fill="none" stroke="#444" stroke-width="0.42"/><path d="M1.6,14.5 C2.5,15.5 3.2,16.5 3.9,17.3 C5,16.2 6.5,15 7.9,14.3 C9.3,13.6 10.5,13 11.8,12.8 L12.8,14.3" fill="none" stroke="#444" stroke-width="0.42"/><path d="M5.8,26.5 C6.2,24.5 6.5,23 6.9,21.7 C7.2,20.5 7.5,19.5 7.9,18.8 C9.2,18.8 10.5,18.8 11.8,18.8 C12.2,17.5 12.5,15.8 12.8,14.3" fill="none" stroke="#444" stroke-width="0.42"/><path d="M9.9,5.4 C10.2,7.5 10.5,10 10.9,12.3" fill="none" stroke="#444" stroke-width="0.42"/><path d="M4.6,9 C6.5,8 8.2,6.5 9.9,5.4" fill="none" stroke="#444" stroke-width="0.42"/><path d="M44.5,19.3 C45.5,21 46,22.5 46,23.8" fill="none" stroke="#444" stroke-width="0.42"/><path d="M37.5,21.7 C39,23.5 40,25 40.7,26.5" fill="none" stroke="#444" stroke-width="0.42"/><path d="M19.5,31.8 C26,29.8 33,27 38,24.8 C39.2,24.2 40.2,23.5 40.9,22.8 L41.6,25.8 C41.2,26.2 40.9,26.4 40.7,26.5 C37.5,27.8 34.3,28.9 31,29.9 C27,31.2 23,32.5 19,33.2 Z" fill="#c8524d" stroke="#555" stroke-width="0.3"/></g>
<g transform="translate(225,341.8)"><path d="M1.3,18.8 C1.5,14 3.5,10.5 6.6,7.7 C9,5.5 11.5,4 14.3,2.9 C17,1.6 19.5,0.8 22,0.5 C25,0.1 28,0 30.7,0.2 C33,0.6 35.3,1.6 37.4,2.9 C39.7,4.5 41.6,6.5 43.2,8.7 C44.8,10.8 46.1,13 47,15.4 C47.6,17 48,18.6 48,20.2 C47.8,21.3 47,22.1 46,22.6 C43.8,23.6 41.5,24.2 39.3,24.6 C37,24.8 34.8,24.8 32.6,25 C30.2,25.8 28,26.8 25.8,27.9 C23.9,28.8 22,29.6 20.1,30.3 C19,29.9 18,29.4 17.2,28.9 C15.3,28.3 13.3,27.6 11.4,27 C9.1,26.4 6.9,25.8 4.7,25 C3.5,24.3 2.5,23.5 1.8,22.6 C1.4,21.4 1.2,20.1 1.3,18.8 Z" fill="#f1f1f1" stroke="#3a3a3a" stroke-width="0.5"/><path d="M21.5,0.6 L21.5,7.3 L31.1,7.3 L31.1,0.3" fill="none" stroke="#444" stroke-width="0.42"/><path d="M3.8,22 C3.8,17 6,13.5 9.5,11.5 C12,10 15,9.3 17.7,9.4 C20,9.2 21,8.2 21.5,7.3" fill="none" stroke="#444" stroke-width="0.42"/><path d="M31.1,7.3 C31.5,8.5 31.8,9.5 32.6,10.6" fill="none" stroke="#444" stroke-width="0.42"/><path d="M17.7,9.4 L17.9,12.3 C21,12.4 25,12.4 28.5,12.8" fill="none" stroke="#444" stroke-width="0.42"/><path d="M8.5,23.5 C8.3,20 9.5,17 12,15.2 C14,13.8 16,13 17.9,12.3" fill="none" stroke="#444" stroke-width="0.42"/><path d="M13.8,25.8 C13.2,22 14.3,19 17,17.4 C20,16 24,15.6 27.5,16.2 C29.5,16.7 30.8,17.6 31.4,19 C31.1,20 30.4,20.5 29.5,20.5" fill="none" stroke="#444" stroke-width="0.42"/><path d="M33.5,21.7 C36,21 38,20.3 40,19.9 C42.5,19.6 45,19.7 47.8,19.2" fill="none" stroke="#444" stroke-width="0.42"/><path d="M40,19.9 C41,17.5 42.5,15 44.5,12.3" fill="none" stroke="#444" stroke-width="0.42"/><path d="M40.5,21.5 C42.5,21.2 45,21.5 47.5,21.7" fill="none" stroke="#444" stroke-width="0.42"/><path d="M20.1,30.3 C23.5,28 27,25.8 30.5,24.3 C31.6,23.5 32.4,22.8 33,22" fill="none" stroke="#444" stroke-width="0.42"/><path d="M28.7,11.6 C30,10.9 31.4,10.6 32.6,10.6 C33.6,11.3 34.1,12.3 34.3,13.5 C34.6,15 34.6,16.2 34.5,17.4 C34.3,19 34,20.5 33.5,21.7 C33.2,22 32.9,22.2 32.6,22.2 C32.4,21 32.3,20.1 32.1,19.3 C31.9,18.3 31.8,17.4 31.6,16.4 C31.3,15.3 30.8,14.6 30.2,14 C29.6,13.7 29,13.5 28.3,13.5 C28.3,12.8 28.5,12.2 28.7,11.6 Z" fill="#c8524d" stroke="#555" stroke-width="0.3"/></g>
<line x1="61.8" y1="252.6" x2="106" y2="208.9" stroke="#adadad" stroke-width="2.4"/>
<line x1="126.1" y1="207.8" x2="170.6" y2="252.3" stroke="#000" stroke-width="2.3"/>
<line x1="61.6" y1="260.6" x2="168.6" y2="260.6" stroke="#000" stroke-width="2.3"/>
<text x="110" y="204.2" font-family="Liberation Sans" font-size="7" font-weight="bold" fill="#111" textLength="12.2" lengthAdjust="spacingAndGlyphs">FIQ</text>
<text transform="translate(78.56,227.73) rotate(-44.67)" font-family="Liberation Serif" font-size="6.9" font-style="italic" font-weight="normal" fill="#959595" text-anchor="middle" textLength="52" lengthAdjust="spacingAndGlyphs" xml:space="preserve">A = -0.05,  p = 0.64</text>
<text transform="translate(155.09,227.46) rotate(45.00)" font-family="Liberation Serif" font-size="7.1" font-style="italic" font-weight="bold" fill="#111" text-anchor="middle" textLength="54" lengthAdjust="spacingAndGlyphs" xml:space="preserve">B = -0.25,  p = 0.02</text>
<text x="116.5" y="271.5" font-family="Liberation Serif" font-size="6.8" font-style="italic" font-weight="bold" fill="#111" text-anchor="middle" textLength="53.6" lengthAdjust="spacingAndGlyphs" xml:space="preserve">C' = 0.21,  p = 0.03</text>
<text x="116.3" y="234.0" font-family="Liberation Serif" font-size="6.8" font-style="italic" fill="#959595" text-anchor="middle" textLength="32.2" lengthAdjust="spacingAndGlyphs" xml:space="preserve">A×B = 0.01</text>
<text x="116.8" y="242.2" font-family="Liberation Serif" font-size="6.8" font-style="italic" fill="#959595" text-anchor="middle" textLength="51.2" lengthAdjust="spacingAndGlyphs" xml:space="preserve">z = 0.45,  p = 0.65</text>
<text x="176.7" y="257.9" font-family="Liberation Sans" font-size="5.8" font-weight="bold" font-style="italic" fill="#111" textLength="23.4" lengthAdjust="spacingAndGlyphs">ADOS-2</text>
<text x="176.7" y="266.9" font-family="Liberation Sans" font-size="7.3" font-weight="bold" fill="#111" textLength="16.6" lengthAdjust="spacingAndGlyphs">Total</text>
<line x1="276.1" y1="252.6" x2="320.3" y2="208.9" stroke="#adadad" stroke-width="2.4"/>
<line x1="340.4" y1="207.8" x2="384.9" y2="252.3" stroke="#000" stroke-width="2.3"/>
<line x1="275.90000000000003" y1="260.6" x2="382.9" y2="260.6" stroke="#adadad" stroke-width="2.4"/>
<text x="324.3" y="204.2" font-family="Liberation Sans" font-size="7" font-weight="bold" fill="#111" textLength="12.2" lengthAdjust="spacingAndGlyphs">FIQ</text>
<text transform="translate(292.86,227.73) rotate(-44.67)" font-family="Liberation Serif" font-size="6.9" font-style="italic" font-weight="normal" fill="#959595" text-anchor="middle" textLength="52" lengthAdjust="spacingAndGlyphs" xml:space="preserve">A = -0.05,  p = 0.64</text>
<text transform="translate(369.39,227.46) rotate(45.00)" font-family="Liberation Serif" font-size="7.1" font-style="italic" font-weight="bold" fill="#111" text-anchor="middle" textLength="54" lengthAdjust="spacingAndGlyphs" xml:space="preserve">B = -0.28,  p = 0.00</text>
<text x="330.8" y="271.5" font-family="Liberation Serif" font-size="6.8" font-style="italic" font-weight="normal" fill="#959595" text-anchor="middle" textLength="53.6" lengthAdjust="spacingAndGlyphs" xml:space="preserve">C' = 0.17,  p = 0.07</text>
<text x="330.6" y="234.0" font-family="Liberation Serif" font-size="6.8" font-style="italic" fill="#959595" text-anchor="middle" textLength="32.2" lengthAdjust="spacingAndGlyphs" xml:space="preserve">A×B = 0.01</text>
<text x="331.1" y="242.2" font-family="Liberation Serif" font-size="6.8" font-style="italic" fill="#959595" text-anchor="middle" textLength="51.2" lengthAdjust="spacingAndGlyphs" xml:space="preserve">z = 0.46,  p = 0.65</text>
<text x="391.0" y="257.9" font-family="Liberation Sans" font-size="5.8" font-weight="bold" font-style="italic" fill="#111" textLength="23.4" lengthAdjust="spacingAndGlyphs">ADOS-2</text>
<text x="391.0" y="266.9" font-family="Liberation Sans" font-size="7.3" font-weight="bold" fill="#111" textLength="44.8" lengthAdjust="spacingAndGlyphs">Social Affect</text>
<line x1="61.8" y1="348.8" x2="106" y2="305.1" stroke="#adadad" stroke-width="2.4"/>
<line x1="126.1" y1="304.0" x2="170.6" y2="348.5" stroke="#adadad" stroke-width="2.4"/>
<line x1="61.6" y1="356.8" x2="168.6" y2="356.8" stroke="#adadad" stroke-width="2.4"/>
<text x="110" y="300.4" font-family="Liberation Sans" font-size="7" font-weight="bold" fill="#111" textLength="12.2" lengthAdjust="spacingAndGlyphs">FIQ</text>
<text transform="translate(78.56,323.93) rotate(-44.67)" font-family="Liberation Serif" font-size="6.9" font-style="italic" font-weight="normal" fill="#959595" text-anchor="middle" textLength="52" lengthAdjust="spacingAndGlyphs" xml:space="preserve">A = -0.11,  p = 0.31</text>
<text transform="translate(155.09,323.66) rotate(45.00)" font-family="Liberation Serif" font-size="7.1" font-style="italic" font-weight="normal" fill="#959595" text-anchor="middle" textLength="54" lengthAdjust="spacingAndGlyphs" xml:space="preserve">B = 0.04,  p = 0.72</text>
<text x="116.5" y="367.7" font-family="Liberation Serif" font-size="6.8" font-style="italic" font-weight="normal" fill="#959595" text-anchor="middle" textLength="53.6" lengthAdjust="spacingAndGlyphs" xml:space="preserve">C' = 0.16,  p = 0.14</text>
<text x="116.3" y="330.2" font-family="Liberation Serif" font-size="6.8" font-style="italic" fill="#959595" text-anchor="middle" textLength="32.2" lengthAdjust="spacingAndGlyphs" xml:space="preserve">A×B = 0.00</text>
<text x="116.8" y="338.4" font-family="Liberation Serif" font-size="6.8" font-style="italic" fill="#959595" text-anchor="middle" textLength="51.2" lengthAdjust="spacingAndGlyphs" xml:space="preserve">z = -0.34,  p = 0.74</text>
<text x="176.7" y="354.09999999999997" font-family="Liberation Sans" font-size="5.8" font-weight="bold" font-style="italic" fill="#111" textLength="23.4" lengthAdjust="spacingAndGlyphs">ADOS-2</text>
<text x="176.7" y="363.09999999999997" font-family="Liberation Sans" font-size="7.3" font-weight="bold" fill="#111" textLength="15.1" lengthAdjust="spacingAndGlyphs">RRB</text>
<line x1="276.1" y1="348.8" x2="320.3" y2="305.1" stroke="#adadad" stroke-width="2.4"/>
<line x1="340.4" y1="304.0" x2="384.9" y2="348.5" stroke="#adadad" stroke-width="2.4"/>
<line x1="275.90000000000003" y1="356.8" x2="382.9" y2="356.8" stroke="#000" stroke-width="2.3"/>
<text x="324.3" y="300.4" font-family="Liberation Sans" font-size="7" font-weight="bold" fill="#111" textLength="12.2" lengthAdjust="spacingAndGlyphs">FIQ</text>
<text transform="translate(292.86,323.93) rotate(-44.67)" font-family="Liberation Serif" font-size="6.9" font-style="italic" font-weight="normal" fill="#959595" text-anchor="middle" textLength="52" lengthAdjust="spacingAndGlyphs" xml:space="preserve">A = -0.05,  p = 0.69</text>
<text transform="translate(369.39,323.66) rotate(45.00)" font-family="Liberation Serif" font-size="7.1" font-style="italic" font-weight="normal" fill="#959595" text-anchor="middle" textLength="54" lengthAdjust="spacingAndGlyphs" xml:space="preserve">B = -0.01,  p = 0.97</text>
<text x="330.8" y="367.7" font-family="Liberation Serif" font-size="6.8" font-style="italic" font-weight="bold" fill="#111" text-anchor="middle" textLength="53.6" lengthAdjust="spacingAndGlyphs" xml:space="preserve">C' = 0.32,  p = 0.01</text>
<text x="330.6" y="330.2" font-family="Liberation Serif" font-size="6.8" font-style="italic" fill="#959595" text-anchor="middle" textLength="32.2" lengthAdjust="spacingAndGlyphs" xml:space="preserve">A×B = 0.00</text>
<text x="331.1" y="338.4" font-family="Liberation Serif" font-size="6.8" font-style="italic" fill="#959595" text-anchor="middle" textLength="51.2" lengthAdjust="spacingAndGlyphs" xml:space="preserve">z = 0.04,  p = 0.97</text>
<text x="391.0" y="354.09999999999997" font-family="Liberation Sans" font-size="5.8" font-weight="bold" font-style="italic" fill="#111" textLength="12" lengthAdjust="spacingAndGlyphs">SRS</text>
<text x="391.0" y="363.09999999999997" font-family="Liberation Sans" font-size="7.3" font-weight="bold" fill="#111" textLength="43.1" lengthAdjust="spacingAndGlyphs">Mannerisms</text>
<line x1="485.1" y1="201" x2="485.1" y2="214.4" stroke="#D86E75" stroke-width="1.9"/>
<path d="M481.9,203.2 L485.1,197.2 L488.3,203.2 Z" fill="#D86E75"/>
<line x1="493.5" y1="197.4" x2="493.5" y2="210.5" stroke="#6B8DC4" stroke-width="1.9"/>
<path d="M490.3,208.5 L493.5,214.5 L496.7,208.5 Z" fill="#6B8DC4"/>
<text x="501.3" y="204.2" font-family="Liberation Sans" font-size="6.9" font-weight="bold" font-style="italic" fill="#222">Structural</text>
<text x="501.3" y="212.7" font-family="Liberation Sans" font-size="6.9" font-weight="bold" font-style="italic" fill="#222">Covariation</text>
<defs><linearGradient id="gt" x1="0" y1="0" x2="0" y2="1"><stop offset="0" stop-color="#8a8a8a"/><stop offset="1" stop-color="#c8c8c8"/></linearGradient></defs>
<path d="M487.9,224.6 L492.7,224.6 L490.3,240.8 Z" fill="url(#gt)"/>
<text x="497.4" y="234.3" font-family="Liberation Sans" font-size="6.9" font-weight="bold" font-style="italic" fill="#222">Absolute z-values</text>
<path d="M573.6,268.5 C571.9,267.2 574.8,265.8 576.0,263.7 C577.2,261.6 579.2,258.3 580.8,255.6 C582.4,252.9 583.7,250.5 585.6,247.6 C587.5,244.7 589.6,240.7 592.0,238.0 C594.4,235.3 597.5,233.1 600.0,231.6 C602.5,230.1 603.8,229.5 607.1,228.8 C610.4,228.1 616.1,227.3 619.9,227.2 C623.6,227.1 626.2,227.6 629.6,228.1 C633.0,228.6 636.6,229.5 640.3,230.4 C644.0,231.3 648.4,232.1 652.0,233.5 C655.6,234.9 659.1,237.0 662.0,239.0 C664.9,241.0 667.2,243.3 669.5,245.5 C671.8,247.7 673.9,250.0 675.6,252.4 C677.4,254.8 678.9,257.0 680.0,259.7 C681.1,262.4 682.0,265.8 682.2,268.5 C682.5,271.2 682.1,273.9 681.5,275.9 C680.9,277.9 680.0,278.9 678.5,280.3 C677.0,281.7 675.1,282.8 672.6,284.0 C670.1,285.2 666.7,286.6 663.8,287.6 C660.9,288.6 657.8,289.2 655.0,290.0 C652.2,290.8 649.3,291.5 647.0,292.3 C644.7,293.1 643.0,294.2 641.0,295.0 C639.0,295.8 636.8,296.8 635.0,297.0 C633.2,297.2 631.8,297.2 630.0,296.5 C628.2,295.8 626.7,294.4 624.0,293.0 C621.3,291.6 617.2,289.7 614.0,288.0 C610.8,286.3 608.0,284.8 605.0,283.0 C602.0,281.2 599.2,279.4 596.0,277.5 C592.8,275.6 589.7,273.0 586.0,271.5 C582.3,270.0 575.3,269.8 573.6,268.5 Z" fill="#e3e3e3" stroke="#111" stroke-width="0.9"/>
<path d="M578.5,263.0 C578.9,262.2 580.2,260.0 581.0,258.5 C581.8,257.0 583.1,254.8 583.5,254.0" fill="none" stroke="#111" stroke-width="0.6"/>
<path d="M614.6,243.3 C616.2,243.0 619.2,243.3 622.0,243.3 C624.8,243.3 627.6,242.7 631.2,243.3 C634.8,243.9 641.3,245.7 643.5,247.0 C645.7,248.3 644.5,249.7 644.5,251.0 C644.5,252.3 645.3,254.5 643.5,255.0 C641.7,255.5 637.5,254.0 633.9,254.0 C630.3,254.0 625.0,254.7 622.1,255.0 C619.2,255.3 617.8,256.3 616.7,255.6 C615.6,254.9 616.6,251.8 615.7,250.7 C614.8,249.6 611.9,250.0 611.4,249.1 C610.9,248.2 612.0,246.4 612.5,245.4 C613.0,244.4 613.0,243.7 614.6,243.3 Z" fill="#fff" stroke="#111" stroke-width="0.75"/>
<path d="M611.4,249.1 C613.0,249.0 614.8,249.6 615.7,250.7 C616.6,251.8 617.4,254.3 616.7,255.6 C616.0,256.9 613.0,257.2 611.4,258.2 C609.8,259.2 608.1,260.2 607.1,261.4 C606.1,262.6 606.1,263.7 605.6,265.2 C605.1,266.7 604.3,269.0 604.4,270.6 C604.5,272.2 605.6,273.4 606.2,274.8 C606.8,276.2 607.5,277.7 608.0,279.0 C608.5,280.3 608.2,281.5 609.2,282.7 C610.2,283.9 613.5,285.4 614.0,286.3 C614.5,287.2 613.2,288.0 612.2,287.8 C611.2,287.6 609.1,286.1 608.0,285.0 C606.9,283.9 606.2,282.9 605.6,281.5 C605.0,280.1 605.1,278.0 604.4,276.6 C603.7,275.2 602.3,274.2 601.4,273.0 C600.5,271.8 599.2,270.8 599.0,269.4 C598.8,268.0 599.7,266.3 600.2,264.6 C600.7,262.9 601.4,260.9 601.8,259.3 C602.1,257.7 601.6,256.3 602.3,255.0 C603.0,253.7 604.5,252.3 606.0,251.3 C607.5,250.3 609.8,249.2 611.4,249.1 Z" fill="#fff" stroke="#111" stroke-width="0.75"/>
<path d="M608.7,228.8 C608.8,229.4 608.6,230.9 609.3,232.6 C610.0,234.3 612.1,237.2 613.0,239.0 C613.9,240.8 614.3,242.6 614.6,243.3" fill="none" stroke="#111" stroke-width="0.75"/>
<path d="M630.6,228.3 C630.8,229.4 631.6,232.2 631.7,234.7 C631.8,237.2 631.3,241.9 631.2,243.3" fill="none" stroke="#111" stroke-width="0.75"/>
<path d="M643.5,247.0 C645.4,247.5 651.5,247.5 655.1,250.1 C658.7,252.7 663.5,259.1 665.3,262.6 C667.1,266.1 666.5,268.4 666.1,271.2 C665.7,274.0 664.8,277.1 663.1,279.2 C661.4,281.2 658.8,281.8 656.1,283.5 C653.4,285.2 648.5,288.3 647.0,289.3" fill="none" stroke="#111" stroke-width="0.75"/>
<path d="M643.5,255.0 C645.1,255.8 649.6,258.5 653.1,260.1 C656.6,261.7 662.6,263.8 664.5,264.5" fill="none" stroke="#111" stroke-width="0.75"/>
<path d="M605.6,265.2 C607.0,264.3 611.4,261.3 614.0,259.8 C616.6,258.3 618.7,257.0 621.3,256.2 C623.9,255.4 626.6,255.0 629.7,255.0 C632.8,255.0 637.1,255.4 640.0,256.0 C642.9,256.6 645.8,258.1 647.0,258.5" fill="none" stroke="#111" stroke-width="0.75"/>
<path d="M605.6,267.0 C606.2,267.5 607.8,269.3 609.2,270.0 C610.6,270.7 612.2,271.5 614.0,271.2 C615.8,270.9 618.0,269.5 620.0,268.2 C622.0,266.9 624.5,264.6 626.1,263.4 C627.7,262.2 627.7,261.5 629.7,261.0 C631.7,260.5 635.2,260.0 638.1,260.4 C641.0,260.8 644.3,261.9 647.0,263.2 C649.7,264.5 652.6,266.2 654.1,268.2 C655.6,270.2 655.9,273.2 656.1,275.2 C656.3,277.2 656.1,278.5 655.1,280.2 C654.1,281.9 651.8,283.7 650.1,285.2 C648.4,286.7 645.9,288.4 645.0,289.0" fill="none" stroke="#111" stroke-width="0.75"/>
<path d="M665.3,262.6 C666.8,264.0 672.1,268.5 674.1,270.7 C676.1,272.9 675.8,275.0 677.1,275.9 C678.4,276.8 681.0,276.1 681.8,276.2" fill="none" stroke="#111" stroke-width="0.75"/>
<path d="M657.9,284.7 C659.9,284.0 666.1,281.6 669.7,280.3 C673.3,279.0 677.7,277.2 679.3,276.6" fill="none" stroke="#111" stroke-width="0.75"/>
<path d="M644.5,248.6 C645.4,248.4 648.1,247.9 650.0,247.5 C651.9,247.1 655.0,246.2 656.0,246.0" fill="none" stroke="#111" stroke-width="0.75"/>
<path d="M663.0,238.5 C662.5,239.2 661.3,241.1 660.0,243.0 C658.7,244.9 655.9,248.9 655.1,250.1" fill="none" stroke="#111" stroke-width="0.75"/>
<path d="M584.0,250.8 C584.3,251.9 584.7,254.5 585.6,257.2 C586.5,259.9 588.2,264.2 589.6,266.9 C591.0,269.6 592.0,272.2 593.7,273.3 C595.4,274.4 599.0,273.3 600.0,273.3" fill="none" stroke="#111" stroke-width="0.75"/>
<path d="M482.7,326.0 C482.4,323.0 483.0,320.0 483.7,316.8 C484.4,313.6 485.4,310.1 487.0,307.0 C488.6,303.9 490.8,301.2 493.0,298.5 C495.2,295.8 497.5,293.4 500.0,291.0 C502.5,288.6 505.2,286.3 508.0,284.3 C510.8,282.3 514.2,280.6 517.0,279.0 C519.8,277.4 522.3,276.2 525.0,275.0 C527.7,273.8 530.3,272.9 533.0,272.0 C535.7,271.1 538.3,270.4 541.0,269.8 C543.7,269.2 546.3,268.7 549.0,268.3 C551.7,267.9 554.4,267.6 557.1,267.4 C559.8,267.2 562.4,267.0 565.0,267.0 C567.6,267.0 569.9,267.0 572.8,267.5 C575.7,268.0 579.2,268.8 582.4,270.0 C585.6,271.2 589.1,273.2 592.0,274.9 C594.9,276.6 597.8,277.4 600.0,280.0 C602.2,282.6 603.0,287.2 605.0,290.4 C607.0,293.6 610.0,296.2 612.0,299.1 C614.0,302.0 615.8,305.2 617.2,307.8 C618.7,310.4 620.0,312.2 620.7,314.8 C621.4,317.4 621.8,320.6 621.6,323.5 C621.5,326.4 621.1,329.9 619.8,332.2 C618.5,334.5 616.2,335.9 613.7,337.4 C611.2,338.8 607.9,339.8 605.0,340.9 C602.1,342.0 600.1,342.7 596.3,344.3 C592.5,345.9 586.4,348.6 582.0,350.5 C577.6,352.4 573.9,354.4 570.0,356.0 C566.1,357.6 561.9,358.8 558.6,359.9 C555.3,361.0 552.8,361.7 550.0,362.5 C547.2,363.3 544.1,364.5 541.8,364.6 C539.5,364.7 537.8,364.4 536.1,363.3 C534.4,362.2 532.9,359.8 531.5,358.0 C530.1,356.2 529.1,353.9 527.7,352.4 C526.3,350.8 525.3,349.6 523.0,348.7 C520.7,347.8 517.4,347.6 513.7,346.8 C510.0,346.0 504.4,345.1 500.6,344.0 C496.9,342.9 493.7,341.8 491.2,340.2 C488.7,338.6 487.0,337.0 485.6,334.6 C484.2,332.2 483.0,329.0 482.7,326.0 Z" fill="#e3e3e3" stroke="#111" stroke-width="0.9"/>
<path d="M489.6,302.4 C490.5,301.3 493.0,297.9 495.0,296.0 C497.0,294.1 499.1,292.4 501.4,290.7 C503.7,289.0 506.1,287.4 509.0,286.0 C511.9,284.6 515.7,283.2 518.5,282.1 C521.3,281.0 523.3,280.3 526.0,279.2 C528.7,278.1 532.1,276.7 534.6,275.6 C537.1,274.5 538.6,273.2 541.0,272.4 C543.4,271.6 547.8,270.9 549.1,270.6" fill="none" stroke="#111" stroke-width="0.5"/>
<path d="M509.0,287.5 C510.3,285.8 515.7,283.9 518.5,282.6 C521.3,281.3 523.6,280.6 526.0,279.7 C528.4,278.8 531.0,277.8 533.0,277.3 C535.0,276.8 537.5,276.0 537.8,276.6 C538.0,277.2 535.6,279.4 534.5,281.0 C533.4,282.6 532.5,284.1 531.4,285.9 C530.3,287.7 529.1,290.0 528.0,292.0 C526.9,294.0 526.0,296.1 525.0,298.0 C524.0,299.9 523.0,302.5 521.7,303.5 C520.5,304.5 518.8,304.0 517.5,304.2 C516.2,304.4 515.0,305.5 514.2,304.6 C513.4,303.7 513.1,300.9 512.5,299.0 C511.9,297.1 511.1,294.9 510.5,293.0 C509.9,291.1 507.7,289.2 509.0,287.5 Z" fill="#fff" stroke="#111" stroke-width="0.75"/>
<path d="M515.6,328.1 C517.2,326.2 523.4,325.8 526.8,324.9 C530.2,324.0 533.0,323.5 536.1,322.8 C539.2,322.1 543.9,319.8 545.5,320.6 C547.1,321.4 545.8,325.2 545.9,327.5 C546.0,329.8 545.7,333.4 546.4,334.4 C547.1,335.4 548.8,334.3 550.2,333.7 C551.6,333.1 553.5,332.1 554.9,330.9 C556.3,329.6 557.7,326.3 558.6,326.2 C559.5,326.1 560.9,328.8 560.5,330.5 C560.1,332.2 558.1,334.7 556.0,336.3 C553.9,337.9 550.4,338.9 548.0,340.0 C545.6,341.1 544.3,341.9 541.8,343.0 C539.3,344.1 535.2,345.9 533.0,346.8 C530.8,347.8 530.1,348.2 528.7,348.7 C527.4,349.2 526.4,349.8 524.9,349.6 C523.4,349.4 521.1,348.3 520.0,347.5 C518.9,346.7 518.9,346.8 518.4,344.9 C517.9,343.0 517.5,338.8 517.0,336.0 C516.5,333.2 514.0,330.0 515.6,328.1 Z" fill="#fff" stroke="#111" stroke-width="0.75"/>
<path d="M545.5,320.6 C546.2,320.4 548.4,319.9 550.0,319.5 C551.6,319.1 553.1,318.6 554.9,318.2 C556.6,317.8 559.6,317.4 560.5,317.2" fill="none" stroke="#111" stroke-width="0.75"/>
<path d="M558.6,326.2 C558.8,325.4 559.3,323.0 559.6,321.5 C559.9,320.0 560.4,317.9 560.5,317.2" fill="none" stroke="#111" stroke-width="0.75"/>
<path d="M602.4,326.1 C602.9,324.3 604.4,323.7 606.0,323.0 C607.6,322.3 610.1,322.1 612.0,321.7 C613.9,321.3 615.6,320.6 617.2,320.9 C618.8,321.2 621.1,321.6 621.5,323.5 C621.9,325.4 621.1,329.9 619.8,332.2 C618.5,334.5 616.2,335.9 613.7,337.4 C611.2,338.8 606.8,341.5 605.0,340.9 C603.2,340.3 603.4,336.5 603.0,334.0 C602.6,331.5 601.9,327.9 602.4,326.1 Z" fill="#fff" stroke="#111" stroke-width="0.75"/>
<path d="M514.2,304.6 C513.4,305.5 510.5,308.6 509.5,310.2 C508.5,311.8 508.9,313.2 508.3,314.5 C507.7,315.8 507.0,317.4 505.9,318.1 C504.8,318.8 503.0,318.1 501.7,318.7 C500.4,319.3 499.3,320.5 498.1,321.7 C496.9,322.9 495.4,324.3 494.5,325.9 C493.6,327.5 493.2,329.8 492.7,331.3 C492.2,332.8 492.0,334.0 491.4,334.9 C490.8,335.8 489.4,336.2 489.0,336.5" fill="none" stroke="#111" stroke-width="0.75"/>
<path d="M505.9,318.1 C506.4,318.7 507.8,320.4 508.9,321.7 C510.0,323.0 511.3,324.8 512.5,325.9 C513.7,327.0 514.9,328.0 516.1,328.3 C517.4,328.6 519.4,327.8 520.0,327.7" fill="none" stroke="#111" stroke-width="0.75"/>
<path d="M492.7,331.3 C493.6,331.8 496.2,333.6 498.1,334.3 C500.0,335.0 502.3,335.4 504.1,335.5 C505.9,335.6 507.2,335.5 508.9,334.9 C510.6,334.3 513.0,332.5 514.3,331.9 C515.6,331.2 516.1,331.1 516.5,331.0" fill="none" stroke="#111" stroke-width="0.75"/>
<path d="M490.2,338.6 C490.9,339.0 492.8,340.5 494.5,341.0 C496.2,341.5 498.7,342.0 500.5,341.6 C502.3,341.2 504.4,339.5 505.3,338.6 C506.2,337.7 505.8,336.5 505.9,336.1" fill="none" stroke="#111" stroke-width="0.75"/>
<path d="M513.7,300.0 C514.3,300.8 515.9,302.5 517.4,304.7 C518.9,306.9 521.4,309.7 523.0,313.1 C524.6,316.5 526.2,322.9 526.8,324.9" fill="none" stroke="#111" stroke-width="0.75"/>
<path d="M499.0,296.5 C499.6,297.2 501.3,299.8 502.5,301.0 C503.7,302.2 505.4,303.5 506.0,304.0" fill="none" stroke="#111" stroke-width="0.75"/>
<path d="M562.7,267.4 C561.0,269.4 555.4,275.5 552.3,279.4 C549.2,283.3 546.4,287.2 544.3,290.7 C542.1,294.2 540.5,297.1 539.4,300.3 C538.3,303.5 537.8,307.0 537.8,309.9 C537.8,312.8 539.1,316.6 539.4,317.9" fill="none" stroke="#111" stroke-width="0.75"/>
<path d="M573.9,267.4 C573.6,268.6 572.7,271.9 572.3,274.6 C571.9,277.3 572.7,281.4 571.5,283.4 C570.3,285.4 567.4,285.3 565.1,286.7 C562.8,288.1 559.6,289.5 557.9,291.5 C556.2,293.5 555.4,295.9 554.7,298.7 C554.0,301.5 553.8,305.4 553.9,308.3 C554.0,311.2 555.2,315.0 555.5,316.3" fill="none" stroke="#111" stroke-width="0.75"/>
<path d="M571.5,283.4 C573.9,284.0 582.6,285.8 585.9,287.0 C589.2,288.2 590.1,287.8 591.1,290.4 C592.1,293.0 592.6,298.8 592.0,302.6 C591.4,306.4 587.5,309.9 587.6,313.0 C587.7,316.1 590.3,318.7 592.8,320.9 C595.3,323.1 600.8,325.2 602.4,326.1" fill="none" stroke="#111" stroke-width="0.75"/>
<path d="M572.0,283.5 C570.8,284.2 566.2,286.8 565.0,287.5" fill="none" stroke="#111" stroke-width="0.75"/>
<path d="M592.8,320.9 C591.6,321.3 588.8,323.1 585.9,323.5 C583.0,323.9 578.0,322.4 575.4,323.5 C572.8,324.6 571.4,328.1 570.2,330.4 C569.1,332.7 568.8,336.2 568.5,337.4" fill="none" stroke="#111" stroke-width="0.75"/>
<path d="M528.7,348.7 C530.9,347.8 536.8,345.0 541.8,343.0 C546.8,341.0 553.9,338.4 558.6,336.5 C563.3,334.6 566.4,332.9 570.0,331.8 C573.6,330.7 576.3,330.3 580.0,330.0 C583.7,329.7 588.2,329.3 592.0,330.0 C595.8,330.7 601.2,333.3 603.0,334.0" fill="none" stroke="#111" stroke-width="0.75"/>
<path d="M534.3,358.0 C537.1,357.1 545.1,354.4 551.1,352.4 C557.1,350.4 564.4,347.8 570.0,345.8 C575.6,343.8 580.3,342.0 585.0,340.5 C589.7,339.0 594.7,336.9 598.0,337.0 C601.3,337.1 603.8,340.2 605.0,340.9" fill="none" stroke="#111" stroke-width="0.75"/>
<path d="M570.0,331.8 C570.7,331.0 573.1,328.4 574.0,327.0 C574.9,325.6 575.2,324.1 575.4,323.5" fill="none" stroke="#111" stroke-width="0.75"/>
<path d="M585.0,340.5 C585.5,339.4 586.8,335.8 588.0,334.0 C589.2,332.2 591.3,330.7 592.0,330.0" fill="none" stroke="#111" stroke-width="0.75"/>
<line x1="614.3" y1="287.6" x2="614.3" y2="330.4" stroke="#E6A4A6" stroke-width="1.2"/>
<line x1="521.3" y1="286.5" x2="603.6" y2="263.6" stroke="#D9767D" stroke-width="2.9"/>
<line x1="534.2" y1="325.6" x2="633" y2="295.6" stroke="#6283BC" stroke-width="3.8"/>
<line x1="633.4" y1="250" x2="633.4" y2="295.6" stroke="#6283BC" stroke-width="1.8"/>
<line x1="614.3" y1="287.6" x2="633" y2="295.6" stroke="#6283BC" stroke-width="1.8"/>
<line x1="531" y1="267.6" x2="531" y2="278.8" stroke="#111" stroke-width="0.5"/>
<line x1="580.5" y1="248" x2="604" y2="255.8" stroke="#111" stroke-width="0.6"/>
<line x1="628.5" y1="224.3" x2="628.5" y2="247.3" stroke="#111" stroke-width="0.55"/>
<line x1="636" y1="296" x2="650.5" y2="296" stroke="#111" stroke-width="0.45"/>
<line x1="626" y1="297" x2="635.5" y2="306.5" stroke="#111" stroke-width="0.5"/>
<line x1="624" y1="331" x2="635.2" y2="331" stroke="#111" stroke-width="0.45"/>
<circle cx="521.3" cy="286.5" r="2.6" fill="#F6C3A0" stroke="#222" stroke-width="0.7"/>
<circle cx="603.6" cy="263.6" r="2.6" fill="#F6C3A0" stroke="#222" stroke-width="0.7"/>
<circle cx="534.2" cy="325.9" r="2.6" fill="#B8DCCB" stroke="#222" stroke-width="0.7"/>
<circle cx="614.3" cy="287.6" r="2.6" fill="#B8DCCB" stroke="#222" stroke-width="0.7"/>
<circle cx="633.4" cy="295.7" r="2.6" fill="#B8DCCB" stroke="#222" stroke-width="0.7"/>
<circle cx="633.4" cy="250" r="2.6" fill="#B8DCCB" stroke="#222" stroke-width="0.7"/>
<circle cx="614.3" cy="330.4" r="2.6" fill="#B8DCCB" stroke="#222" stroke-width="0.7"/>
<text x="501.5" y="264.6" font-family="Liberation Sans" font-size="4.65" font-weight="bold" fill="#151515" text-anchor="start">Caudal middle frontal</text>
<text x="538.2" y="249.5" font-family="Liberation Sans" font-size="4.65" font-weight="bold" fill="#151515" text-anchor="start">Isthmus cingulate</text>
<text x="611.8" y="223.1" font-family="Liberation Sans" font-size="4.65" font-weight="bold" fill="#151515" text-anchor="start">Posterior cingulate</text>
<text x="652.3" y="297.8" font-family="Liberation Sans" font-size="4.65" font-weight="bold" fill="#151515" text-anchor="start">Entorhinal</text>
<text x="636.2" y="311" font-family="Liberation Sans" font-size="4.65" font-weight="bold" fill="#151515" text-anchor="start">Parahippocampal</text>
<text x="638.1" y="333.1" font-family="Liberation Sans" font-size="4.65" font-weight="bold" fill="#151515" text-anchor="start">Lateral occipital</text>
<text x="520.8" y="335.6" font-family="Liberation Sans" font-size="4.65" font-weight="bold" fill="#151515" text-anchor="start">Insula</text>
<text x="632.6" y="356.4" font-family="Liberation Sans" font-size="7.6" font-weight="bold" fill="#222">Subgroup</text>
<circle cx="636.2" cy="367.6" r="3.1" fill="#F6C3A0" stroke="#222" stroke-width="1"/>
<circle cx="660.2" cy="367.6" r="3.1" fill="#B8DCCB" stroke="#222" stroke-width="1"/>
<text x="642.7" y="370.1" font-family="Liberation Sans" font-size="6.6" font-weight="bold" fill="#222">H</text>
<text x="667.2" y="370.1" font-family="Liberation Sans" font-size="6.6" font-weight="bold" fill="#222">L</text></svg>
</body></html>
